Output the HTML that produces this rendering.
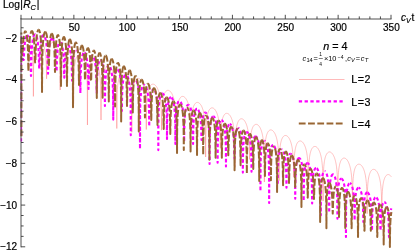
<!DOCTYPE html>
<html><head><meta charset="utf-8"><title>plot</title>
<style>html,body{margin:0;padding:0;background:#fff}body{width:415px;height:251px;overflow:hidden;position:relative;font-family:"Liberation Sans",sans-serif}</style>
</head><body>
<svg width="415" height="251" viewBox="0 0 415 251" style="position:absolute;left:0;top:0;will-change:transform">
<rect width="415" height="251" fill="#fff"/>
<g fill="none" stroke-linejoin="round">
<path d="M21.31 54.83 L21.47 53.21 L21.63 51.85 L21.79 50.69 L21.95 49.67 L22.11 48.77 L22.27 47.97 L22.43 47.25 L22.60 46.59 L22.76 45.99 L22.92 45.45 L23.08 44.95 L23.24 44.49 L23.40 44.07 L23.56 43.68 L23.73 43.32 L23.89 42.98 L24.05 42.68 L24.21 42.40 L24.37 42.14 L24.53 41.90 L24.69 41.68 L24.85 41.48 L25.02 41.30 L25.18 41.14 L25.34 41.00 L25.50 40.87 L25.66 40.76 L25.82 40.66 L25.98 40.58 L26.14 40.51 L26.30 40.45 L26.47 40.42 L26.63 40.39 L26.79 40.38 L26.95 40.38 L27.11 40.40 L27.27 40.43 L27.43 40.48 L27.59 40.54 L27.76 40.61 L27.92 40.70 L28.08 40.80 L28.24 40.92 L28.40 41.06 L28.56 41.21 L28.72 41.37 L28.88 41.55 L29.05 41.75 L29.21 41.97 L29.37 42.21 L29.53 42.47 L29.69 42.75 L29.85 43.05 L30.01 43.38 L30.17 43.73 L30.34 44.11 L30.50 44.52 L30.66 44.97 L30.82 45.45 L30.98 45.97 L31.14 46.54 L31.30 47.15 L31.46 47.83 L31.63 48.57 L31.79 49.40 L31.95 50.32 L32.11 51.36 L32.27 52.54 L32.43 53.92 L32.59 55.55 L32.75 57.56 L32.92 60.16 L33.08 63.84 L33.24 70.12 L33.40 96.40 L33.56 70.14 L33.73 63.88 L33.89 60.23 L34.06 57.65 L34.23 55.66 L34.39 54.04 L34.55 52.69 L34.72 51.52 L34.88 50.51 L35.05 49.61 L35.21 48.81 L35.38 48.08 L35.55 47.43 L35.71 46.83 L35.88 46.28 L36.04 45.78 L36.20 45.32 L36.37 44.90 L36.53 44.51 L36.70 44.15 L36.87 43.82 L37.03 43.52 L37.20 43.23 L37.36 42.98 L37.52 42.74 L37.69 42.52 L37.85 42.32 L38.02 42.14 L38.19 41.98 L38.35 41.84 L38.52 41.71 L38.68 41.60 L38.84 41.50 L39.01 41.42 L39.17 41.35 L39.34 41.30 L39.51 41.26 L39.67 41.23 L39.84 41.22 L40.00 41.23 L40.16 41.24 L40.33 41.28 L40.49 41.32 L40.66 41.38 L40.83 41.45 L40.99 41.54 L41.16 41.65 L41.32 41.77 L41.48 41.90 L41.65 42.05 L41.81 42.22 L41.98 42.40 L42.14 42.60 L42.31 42.82 L42.48 43.06 L42.64 43.32 L42.80 43.60 L42.97 43.90 L43.14 44.23 L43.30 44.58 L43.47 44.96 L43.63 45.37 L43.80 45.81 L43.96 46.30 L44.12 46.82 L44.29 47.38 L44.45 48.00 L44.62 48.68 L44.78 49.42 L44.95 50.25 L45.12 51.17 L45.28 52.21 L45.45 53.39 L45.61 54.77 L45.78 56.40 L45.94 58.42 L46.11 61.02 L46.27 64.69 L46.44 70.97 L46.60 78.80 L46.77 70.99 L46.94 64.73 L47.11 61.08 L47.28 58.50 L47.45 56.51 L47.62 54.90 L47.79 53.54 L47.96 52.38 L48.13 51.36 L48.30 50.46 L48.47 49.66 L48.64 48.94 L48.81 48.28 L48.98 47.69 L49.15 47.14 L49.32 46.64 L49.49 46.18 L49.66 45.76 L49.83 45.37 L50.00 45.01 L50.17 44.68 L50.34 44.37 L50.51 44.09 L50.68 43.83 L50.85 43.60 L51.02 43.38 L51.19 43.18 L51.36 43.00 L51.53 42.84 L51.70 42.70 L51.87 42.57 L52.04 42.47 L52.21 42.44 L52.38 42.42 L52.55 42.42 L52.72 42.43 L52.89 42.46 L53.06 42.50 L53.23 42.56 L53.40 42.63 L53.57 42.71 L53.74 42.81 L53.91 42.92 L54.08 43.04 L54.25 43.18 L54.42 43.34 L54.59 43.51 L54.76 43.69 L54.93 43.89 L55.10 44.11 L55.27 44.34 L55.44 44.59 L55.61 44.85 L55.78 45.14 L55.95 45.44 L56.12 45.77 L56.29 46.11 L56.46 46.48 L56.63 46.87 L56.80 47.29 L56.97 47.74 L57.14 48.21 L57.31 48.72 L57.48 49.27 L57.65 49.86 L57.82 50.49 L57.99 51.17 L58.16 51.91 L58.33 52.72 L58.50 53.61 L58.67 54.60 L58.84 55.70 L59.01 56.95 L59.18 58.40 L59.35 60.10 L59.52 62.17 L59.69 64.84 L59.86 68.58 L60.03 74.93 L60.20 90.00 L60.37 75.08 L60.54 68.88 L60.70 65.29 L60.87 62.78 L61.04 60.85 L61.21 59.30 L61.37 58.01 L61.54 56.91 L61.71 55.96 L61.88 55.13 L62.04 54.39 L62.21 53.73 L62.38 53.14 L62.55 52.60 L62.71 52.12 L62.88 51.69 L63.05 51.29 L63.22 50.93 L63.38 50.61 L63.55 50.31 L63.72 50.05 L63.88 49.80 L64.05 49.59 L64.22 49.39 L64.39 49.22 L64.56 49.07 L64.72 48.93 L64.89 48.82 L65.06 48.72 L65.22 48.64 L65.39 48.58 L65.56 48.53 L65.73 48.50 L65.89 48.48 L66.06 48.47 L66.23 48.49 L66.40 48.51 L66.56 48.55 L66.73 48.61 L66.90 48.67 L67.07 48.76 L67.23 48.85 L67.40 48.96 L67.57 49.09 L67.74 49.22 L67.91 49.38 L68.07 49.55 L68.24 49.73 L68.41 49.93 L68.58 50.14 L68.74 50.37 L68.91 50.62 L69.08 50.88 L69.25 51.17 L69.41 51.47 L69.58 51.79 L69.75 52.14 L69.91 52.51 L70.08 52.90 L70.25 53.31 L70.42 53.76 L70.58 54.23 L70.75 54.74 L70.92 55.29 L71.09 55.87 L71.25 56.51 L71.42 57.19 L71.59 57.93 L71.76 58.74 L71.92 59.63 L72.09 60.61 L72.26 61.71 L72.43 62.96 L72.59 64.40 L72.76 66.11 L72.93 68.18 L73.10 70.85 L73.27 74.58 L73.43 80.93 L73.60 103.86 L73.77 81.08 L73.95 74.89 L74.12 71.30 L74.29 68.79 L74.47 66.87 L74.64 65.32 L74.81 64.03 L74.98 62.93 L75.16 61.98 L75.33 61.15 L75.50 60.42 L75.68 59.76 L75.85 59.17 L76.02 58.64 L76.20 58.16 L76.37 57.73 L76.54 57.34 L76.72 56.98 L76.89 56.66 L77.06 56.37 L77.24 56.10 L77.41 55.86 L77.58 55.65 L77.75 55.46 L77.93 55.29 L78.10 55.14 L78.27 55.00 L78.45 54.89 L78.62 54.80 L78.79 54.72 L78.97 54.66 L79.14 54.61 L79.31 54.58 L79.49 54.57 L79.66 54.56 L79.83 54.58 L80.01 54.61 L80.18 54.65 L80.35 54.71 L80.53 54.78 L80.70 54.86 L80.87 54.96 L81.04 55.07 L81.22 55.20 L81.39 55.34 L81.56 55.50 L81.74 55.67 L81.91 55.85 L82.08 56.05 L82.26 56.27 L82.43 56.50 L82.60 56.75 L82.78 57.02 L82.95 57.31 L83.12 57.61 L83.30 57.94 L83.47 58.28 L83.64 58.65 L83.81 59.05 L83.99 59.47 L84.16 59.92 L84.33 60.39 L84.51 60.90 L84.68 61.45 L84.85 62.04 L85.03 62.67 L85.20 63.36 L85.37 64.10 L85.55 64.91 L85.72 65.81 L85.89 66.79 L86.06 67.90 L86.24 69.15 L86.41 70.59 L86.58 72.30 L86.76 74.37 L86.93 77.04 L87.10 80.78 L87.28 87.13 L87.45 125.00 L87.62 87.28 L87.79 81.09 L87.96 77.50 L88.13 74.99 L88.30 73.06 L88.47 71.51 L88.64 70.22 L88.81 69.12 L88.97 68.17 L89.14 67.34 L89.31 66.60 L89.48 65.94 L89.65 65.35 L89.82 64.82 L89.99 64.34 L90.16 63.91 L90.33 63.51 L90.50 63.15 L90.67 62.83 L90.84 62.54 L91.01 62.27 L91.18 62.03 L91.35 61.81 L91.52 61.62 L91.68 61.45 L91.85 61.30 L92.02 61.16 L92.19 61.05 L92.36 60.95 L92.53 60.87 L92.70 60.81 L92.87 60.76 L93.04 60.73 L93.21 60.71 L93.38 60.71 L93.55 60.72 L93.72 60.75 L93.89 60.79 L94.06 60.84 L94.22 60.91 L94.39 61.00 L94.56 61.09 L94.73 61.20 L94.90 61.33 L95.07 61.47 L95.24 61.62 L95.41 61.79 L95.58 61.97 L95.75 62.17 L95.92 62.39 L96.09 62.62 L96.26 62.87 L96.43 63.14 L96.60 63.42 L96.77 63.72 L96.94 64.05 L97.10 64.39 L97.27 64.76 L97.44 65.15 L97.61 65.57 L97.78 66.02 L97.95 66.49 L98.12 67.00 L98.29 67.55 L98.46 68.13 L98.63 68.77 L98.80 69.45 L98.97 70.19 L99.14 71.00 L99.31 71.89 L99.48 72.88 L99.64 73.98 L99.81 75.23 L99.98 76.67 L100.15 78.36 L100.32 80.43 L100.49 83.09 L100.66 86.81 L100.83 93.15 L101.00 120.00 L101.20 93.29 L101.39 87.10 L101.59 83.51 L101.79 81.00 L101.99 79.07 L102.19 77.52 L102.38 76.23 L102.58 75.14 L102.78 74.19 L102.97 73.35 L103.17 72.61 L103.37 71.96 L103.57 71.37 L103.77 70.84 L103.96 70.36 L104.16 69.92 L104.36 69.53 L104.56 69.17 L104.75 68.85 L104.95 68.55 L105.15 68.29 L105.34 68.05 L105.54 67.83 L105.74 67.64 L105.94 67.47 L106.14 67.32 L106.33 67.18 L106.53 67.07 L106.73 66.97 L106.92 66.89 L107.12 66.83 L107.32 66.78 L107.52 66.75 L107.72 66.74 L107.91 66.73 L108.11 66.75 L108.31 66.77 L108.50 66.82 L108.70 66.87 L108.90 66.94 L109.10 67.02 L109.30 67.12 L109.49 67.23 L109.69 67.36 L109.89 67.50 L110.08 67.65 L110.28 67.82 L110.48 68.01 L110.68 68.21 L110.88 68.42 L111.07 68.65 L111.27 68.90 L111.47 69.17 L111.66 69.45 L111.86 69.76 L112.06 70.08 L112.26 70.43 L112.45 70.80 L112.65 71.19 L112.85 71.61 L113.05 72.05 L113.25 72.53 L113.44 73.04 L113.64 73.59 L113.84 74.17 L114.03 74.81 L114.23 75.49 L114.43 76.23 L114.63 77.04 L114.83 77.93 L115.02 78.92 L115.22 80.02 L115.42 81.27 L115.61 82.72 L115.81 84.42 L116.01 86.50 L116.21 89.16 L116.41 92.90 L116.60 99.25 L116.80 128.50 L116.99 99.40 L117.17 93.20 L117.36 89.61 L117.55 87.09 L117.74 85.16 L117.92 83.61 L118.11 82.32 L118.30 81.21 L118.49 80.26 L118.67 79.42 L118.86 78.68 L119.05 78.02 L119.24 77.43 L119.42 76.89 L119.61 76.41 L119.80 75.97 L119.99 75.57 L120.17 75.21 L120.36 74.88 L120.55 74.58 L120.74 74.32 L120.92 74.07 L121.11 73.85 L121.30 73.65 L121.49 73.48 L121.67 73.32 L121.86 73.19 L122.05 73.07 L122.24 72.97 L122.42 72.89 L122.61 72.82 L122.80 72.77 L122.99 72.73 L123.17 72.71 L123.36 72.71 L123.55 72.72 L123.74 72.74 L123.93 72.78 L124.11 72.83 L124.30 72.89 L124.49 72.97 L124.68 73.07 L124.86 73.18 L125.05 73.30 L125.24 73.43 L125.43 73.58 L125.61 73.75 L125.80 73.93 L125.99 74.13 L126.18 74.34 L126.36 74.57 L126.55 74.81 L126.74 75.07 L126.93 75.35 L127.11 75.65 L127.30 75.97 L127.49 76.32 L127.68 76.68 L127.86 77.07 L128.05 77.48 L128.24 77.93 L128.43 78.40 L128.61 78.91 L128.80 79.45 L128.99 80.03 L129.18 80.66 L129.36 81.34 L129.55 82.08 L129.74 82.89 L129.93 83.77 L130.11 84.75 L130.30 85.85 L130.49 87.10 L130.68 88.54 L130.86 90.24 L131.05 92.31 L131.24 94.97 L131.43 98.71 L131.61 105.05 L131.80 132.26 L131.98 105.19 L132.16 98.99 L132.34 95.40 L132.53 92.88 L132.71 90.95 L132.89 89.39 L133.07 88.10 L133.25 86.99 L133.43 86.04 L133.61 85.20 L133.79 84.45 L133.98 83.79 L134.16 83.19 L134.34 82.66 L134.52 82.17 L134.70 81.73 L134.88 81.33 L135.06 80.97 L135.24 80.64 L135.43 80.34 L135.61 80.06 L135.79 79.82 L135.97 79.60 L136.15 79.40 L136.33 79.22 L136.51 79.06 L136.69 78.92 L136.88 78.80 L137.06 78.70 L137.24 78.61 L137.42 78.54 L137.60 78.49 L137.78 78.45 L137.96 78.43 L138.14 78.42 L138.33 78.43 L138.51 78.45 L138.69 78.49 L138.87 78.53 L139.05 78.60 L139.23 78.67 L139.41 78.77 L139.59 78.87 L139.78 78.99 L139.96 79.12 L140.14 79.27 L140.32 79.43 L140.50 79.61 L140.68 79.81 L140.86 80.02 L141.04 80.24 L141.23 80.48 L141.41 80.74 L141.59 81.02 L141.77 81.32 L141.95 81.64 L142.13 81.98 L142.31 82.34 L142.49 82.73 L142.68 83.14 L142.86 83.58 L143.04 84.05 L143.22 84.55 L143.40 85.09 L143.58 85.67 L143.76 86.30 L143.94 86.98 L144.12 87.71 L144.31 88.52 L144.49 89.40 L144.67 90.38 L144.85 91.48 L145.03 92.72 L145.21 94.16 L145.39 95.86 L145.58 97.93 L145.76 100.59 L145.94 104.32 L146.12 110.66 L146.30 129.51 L146.49 110.80 L146.68 104.61 L146.87 101.02 L147.06 98.50 L147.26 96.58 L147.45 95.02 L147.64 93.73 L147.83 92.63 L148.02 91.68 L148.21 90.84 L148.40 90.10 L148.59 89.44 L148.79 88.85 L148.98 88.32 L149.17 87.83 L149.36 87.40 L149.55 87.00 L149.74 86.64 L149.93 86.32 L150.12 86.02 L150.32 85.75 L150.51 85.51 L150.70 85.29 L150.89 85.09 L151.08 84.92 L151.27 84.77 L151.46 84.63 L151.66 84.52 L151.85 84.42 L152.04 84.34 L152.23 84.27 L152.42 84.22 L152.61 84.19 L152.80 84.17 L152.99 84.16 L153.19 84.17 L153.38 84.20 L153.57 84.24 L153.76 84.29 L153.95 84.36 L154.14 84.45 L154.33 84.55 L154.52 84.66 L154.72 84.79 L154.91 84.93 L155.10 85.09 L155.29 85.26 L155.48 85.45 L155.67 85.65 L155.86 85.87 L156.05 86.10 L156.25 86.35 L156.44 86.62 L156.63 86.91 L156.82 87.22 L157.01 87.54 L157.20 87.89 L157.39 88.26 L157.58 88.66 L157.78 89.08 L157.97 89.53 L158.16 90.01 L158.35 90.52 L158.54 91.07 L158.73 91.66 L158.92 92.29 L159.11 92.98 L159.31 93.72 L159.50 94.54 L159.69 95.43 L159.88 96.42 L160.07 97.52 L160.26 98.78 L160.45 100.22 L160.64 101.93 L160.84 104.01 L161.03 106.67 L161.22 110.42 L161.41 116.77 L161.60 130.16 L161.78 116.92 L161.97 110.72 L162.15 107.14 L162.33 104.62 L162.52 102.70 L162.70 101.15 L162.88 99.86 L163.07 98.76 L163.25 97.81 L163.44 96.97 L163.62 96.23 L163.80 95.58 L163.99 94.99 L164.17 94.45 L164.35 93.97 L164.54 93.54 L164.72 93.14 L164.90 92.79 L165.09 92.46 L165.27 92.17 L165.45 91.90 L165.64 91.66 L165.82 91.44 L166.00 91.25 L166.19 91.08 L166.37 90.93 L166.55 90.79 L166.74 90.68 L166.92 90.58 L167.10 90.50 L167.29 90.44 L167.47 90.39 L167.66 90.36 L167.84 90.34 L168.02 90.34 L168.21 90.35 L168.39 90.38 L168.57 90.42 L168.76 90.47 L168.94 90.54 L169.12 90.62 L169.31 90.72 L169.49 90.83 L169.67 90.96 L169.86 91.09 L170.04 91.25 L170.22 91.42 L170.41 91.60 L170.59 91.80 L170.78 92.01 L170.96 92.25 L171.14 92.49 L171.33 92.76 L171.51 93.04 L171.69 93.35 L171.88 93.67 L172.06 94.02 L172.24 94.38 L172.43 94.78 L172.61 95.19 L172.79 95.64 L172.98 96.11 L173.16 96.62 L173.34 97.17 L173.53 97.76 L173.71 98.39 L173.89 99.07 L174.08 99.81 L174.26 100.62 L174.44 101.51 L174.63 102.50 L174.81 103.60 L175.00 104.85 L175.18 106.29 L175.36 107.99 L175.55 110.07 L175.73 112.73 L175.91 116.47 L176.10 122.82 L176.28 126.68 L176.46 122.97 L176.65 116.77 L176.83 113.19 L177.01 110.67 L177.20 108.75 L177.38 107.20 L177.56 105.91 L177.75 104.81 L177.93 103.86 L178.12 103.02 L178.30 102.29 L178.48 101.63 L178.67 101.04 L178.85 100.51 L179.03 100.03 L179.22 99.59 L179.40 99.20 L179.58 98.84 L179.77 98.51 L179.95 98.22 L180.13 97.95 L180.32 97.71 L180.50 97.49 L180.68 97.30 L180.87 97.13 L181.05 96.98 L181.23 96.84 L181.42 96.73 L181.60 96.63 L181.78 96.55 L181.97 96.49 L182.15 96.44 L182.34 96.41 L182.52 96.39 L182.70 96.39 L182.89 96.40 L183.07 96.43 L183.25 96.47 L183.44 96.52 L183.62 96.59 L183.80 96.67 L183.99 96.77 L184.17 96.88 L184.35 97.01 L184.54 97.15 L184.72 97.30 L184.90 97.47 L185.09 97.65 L185.27 97.85 L185.45 98.06 L185.64 98.30 L185.82 98.54 L186.01 98.81 L186.19 99.09 L186.37 99.40 L186.56 99.72 L186.74 100.07 L186.92 100.43 L187.11 100.83 L187.29 101.24 L187.47 101.69 L187.66 102.17 L187.84 102.67 L188.02 103.22 L188.21 103.81 L188.39 104.44 L188.57 105.12 L188.76 105.86 L188.94 106.67 L189.12 107.56 L189.31 108.55 L189.49 109.65 L189.68 110.90 L189.86 112.34 L190.04 114.04 L190.23 116.12 L190.41 118.79 L190.59 122.52 L190.78 128.87 L190.96 130.78 L191.14 129.02 L191.33 122.83 L191.51 119.24 L191.69 116.73 L191.88 114.80 L192.06 113.25 L192.24 111.96 L192.43 110.86 L192.61 109.91 L192.79 109.07 L192.98 108.34 L193.16 107.68 L193.35 107.09 L193.53 106.56 L193.71 106.08 L193.90 105.64 L194.08 105.25 L194.26 104.89 L194.45 104.56 L194.63 104.27 L194.81 104.00 L195.00 103.76 L195.18 103.55 L195.36 103.35 L195.55 103.18 L195.73 103.03 L195.91 102.89 L196.10 102.78 L196.28 102.68 L196.46 102.60 L196.65 102.53 L196.83 102.48 L197.02 102.44 L197.20 102.41 L197.38 102.40 L197.57 102.41 L197.75 102.43 L197.93 102.46 L198.12 102.51 L198.30 102.57 L198.48 102.64 L198.67 102.73 L198.85 102.84 L199.03 102.95 L199.22 103.09 L199.40 103.23 L199.58 103.39 L199.77 103.57 L199.95 103.76 L200.13 103.97 L200.32 104.19 L200.50 104.43 L200.69 104.69 L200.87 104.97 L201.05 105.26 L201.24 105.58 L201.42 105.92 L201.60 106.28 L201.79 106.66 L201.97 107.07 L202.15 107.51 L202.34 107.98 L202.52 108.48 L202.70 109.02 L202.89 109.60 L203.07 110.22 L203.25 110.90 L203.44 111.63 L203.62 112.43 L203.80 113.32 L203.99 114.30 L204.17 115.39 L204.36 116.63 L204.54 118.07 L204.72 119.76 L204.91 121.83 L205.09 124.49 L205.27 128.22 L205.46 134.56 L205.64 157.00 L205.82 134.70 L206.01 128.49 L206.19 124.90 L206.37 122.38 L206.56 120.44 L206.74 118.89 L206.92 117.59 L207.11 116.48 L207.29 115.52 L207.47 114.68 L207.66 113.94 L207.84 113.27 L208.03 112.67 L208.21 112.13 L208.39 111.64 L208.58 111.20 L208.76 110.80 L208.94 110.44 L209.13 110.10 L209.31 109.80 L209.49 109.53 L209.68 109.28 L209.86 109.06 L210.04 108.85 L210.23 108.67 L210.41 108.51 L210.59 108.37 L210.78 108.25 L210.96 108.15 L211.14 108.06 L211.33 107.99 L211.51 107.93 L211.70 107.89 L211.88 107.87 L212.06 107.86 L212.25 107.86 L212.43 107.88 L212.61 107.92 L212.80 107.96 L212.98 108.03 L213.16 108.10 L213.35 108.19 L213.53 108.29 L213.71 108.41 L213.90 108.54 L214.08 108.69 L214.26 108.85 L214.45 109.03 L214.63 109.22 L214.81 109.42 L215.00 109.65 L215.18 109.89 L215.37 110.15 L215.55 110.42 L215.73 110.72 L215.92 111.04 L216.10 111.37 L216.28 111.73 L216.47 112.12 L216.65 112.53 L216.83 112.97 L217.02 113.44 L217.20 113.94 L217.38 114.48 L217.57 115.06 L217.75 115.68 L217.93 116.35 L218.12 117.09 L218.30 117.89 L218.48 118.77 L218.67 119.75 L218.85 120.85 L219.04 122.09 L219.22 123.52 L219.40 125.22 L219.59 127.29 L219.77 129.94 L219.95 133.67 L220.14 140.02 L220.32 147.91 L220.50 140.15 L220.69 133.95 L220.87 130.35 L221.05 127.83 L221.24 125.90 L221.42 124.34 L221.60 123.04 L221.79 121.94 L221.97 120.98 L222.16 120.14 L222.34 119.39 L222.52 118.73 L222.71 118.13 L222.89 117.59 L223.07 117.10 L223.26 116.66 L223.44 116.26 L223.62 115.89 L223.81 115.56 L223.99 115.26 L224.17 114.98 L224.36 114.74 L224.54 114.51 L224.72 114.31 L224.91 114.13 L225.09 113.97 L225.27 113.83 L225.46 113.71 L225.64 113.60 L225.82 113.52 L226.01 113.45 L226.19 113.39 L226.38 113.35 L226.56 113.33 L226.74 113.32 L226.93 113.32 L227.11 113.34 L227.29 113.37 L227.48 113.42 L227.66 113.48 L227.84 113.56 L228.03 113.65 L228.21 113.75 L228.39 113.87 L228.58 114.00 L228.76 114.14 L228.94 114.31 L229.13 114.48 L229.31 114.67 L229.50 114.88 L229.68 115.10 L229.86 115.35 L230.05 115.60 L230.23 115.88 L230.41 116.18 L230.60 116.49 L230.78 116.83 L230.96 117.19 L231.15 117.58 L231.33 117.99 L231.51 118.42 L231.70 118.89 L231.88 119.39 L232.06 119.93 L232.25 120.51 L232.43 121.14 L232.61 121.81 L232.80 122.55 L232.98 123.35 L233.16 124.23 L233.35 125.21 L233.53 126.30 L233.72 127.55 L233.90 128.98 L234.08 130.67 L234.27 132.74 L234.45 135.40 L234.63 139.13 L234.82 145.47 L235.00 167.35 L235.18 145.61 L235.37 139.40 L235.55 135.81 L235.73 133.29 L235.92 131.36 L236.10 129.80 L236.28 128.50 L236.47 127.39 L236.65 126.44 L236.84 125.59 L237.02 124.85 L237.20 124.18 L237.39 123.58 L237.57 123.05 L237.75 122.56 L237.94 122.12 L238.12 121.71 L238.30 121.35 L238.49 121.02 L238.67 120.71 L238.85 120.44 L239.04 120.19 L239.22 119.97 L239.40 119.77 L239.59 119.59 L239.77 119.43 L239.95 119.29 L240.14 119.16 L240.32 119.06 L240.50 118.97 L240.69 118.90 L240.87 118.85 L241.06 118.81 L241.24 118.78 L241.42 118.77 L241.61 118.78 L241.79 118.80 L241.97 118.83 L242.16 118.88 L242.34 118.94 L242.52 119.02 L242.71 119.11 L242.89 119.21 L243.07 119.33 L243.26 119.47 L243.44 119.61 L243.62 119.78 L243.81 119.95 L243.99 120.15 L244.18 120.36 L244.36 120.58 L244.54 120.82 L244.73 121.08 L244.91 121.36 L245.09 121.66 L245.28 121.98 L245.46 122.32 L245.64 122.68 L245.83 123.06 L246.01 123.47 L246.19 123.91 L246.38 124.38 L246.56 124.89 L246.74 125.43 L246.93 126.01 L247.11 126.63 L247.29 127.31 L247.48 128.05 L247.66 128.85 L247.84 129.73 L248.03 130.71 L248.21 131.81 L248.40 133.05 L248.58 134.49 L248.76 136.18 L248.95 138.25 L249.13 140.91 L249.31 144.64 L249.50 150.99 L249.68 159.44 L249.86 151.13 L250.05 144.92 L250.23 141.33 L250.41 138.81 L250.60 136.88 L250.78 135.32 L250.96 134.03 L251.15 132.92 L251.33 131.96 L251.52 131.12 L251.70 130.38 L251.88 129.72 L252.07 129.12 L252.25 128.58 L252.43 128.09 L252.62 127.65 L252.80 127.25 L252.98 126.89 L253.17 126.56 L253.35 126.26 L253.53 125.99 L253.72 125.74 L253.90 125.52 L254.08 125.32 L254.27 125.14 L254.45 124.98 L254.63 124.84 L254.82 124.72 L255.00 124.62 L255.19 124.53 L255.37 124.46 L255.55 124.41 L255.74 124.37 L255.92 124.35 L256.10 124.34 L256.29 124.34 L256.47 124.36 L256.65 124.40 L256.84 124.45 L257.02 124.51 L257.20 124.59 L257.39 124.68 L257.57 124.78 L257.75 124.90 L257.94 125.03 L258.12 125.18 L258.30 125.34 L258.49 125.52 L258.67 125.71 L258.86 125.92 L259.04 126.15 L259.22 126.39 L259.41 126.65 L259.59 126.93 L259.77 127.23 L259.96 127.54 L260.14 127.88 L260.32 128.24 L260.51 128.63 L260.69 129.04 L260.87 129.48 L261.06 129.95 L261.24 130.45 L261.42 130.99 L261.61 131.57 L261.79 132.20 L261.97 132.88 L262.16 133.61 L262.34 134.42 L262.53 135.30 L262.71 136.28 L262.89 137.38 L263.08 138.62 L263.26 140.06 L263.44 141.75 L263.63 143.82 L263.81 146.48 L263.99 150.21 L264.18 156.55 L264.36 182.00 L264.54 156.69 L264.73 150.49 L264.91 146.90 L265.09 144.38 L265.28 142.45 L265.46 140.89 L265.64 139.59 L265.83 138.49 L266.01 137.53 L266.19 136.69 L266.38 135.95 L266.56 135.28 L266.75 134.69 L266.93 134.15 L267.11 133.66 L267.30 133.22 L267.48 132.82 L267.66 132.46 L267.85 132.13 L268.03 131.82 L268.21 131.55 L268.40 131.31 L268.58 131.08 L268.76 130.88 L268.95 130.71 L269.13 130.55 L269.31 130.41 L269.50 130.29 L269.68 130.18 L269.87 130.10 L270.05 130.03 L270.23 129.97 L270.42 129.94 L270.60 129.91 L270.78 129.90 L270.97 129.91 L271.15 129.93 L271.33 129.97 L271.52 130.01 L271.70 130.08 L271.88 130.15 L272.07 130.24 L272.25 130.35 L272.43 130.47 L272.62 130.60 L272.80 130.75 L272.98 130.91 L273.17 131.09 L273.35 131.28 L273.53 131.49 L273.72 131.72 L273.90 131.96 L274.09 132.22 L274.27 132.50 L274.45 132.79 L274.64 133.11 L274.82 133.45 L275.00 133.81 L275.19 134.20 L275.37 134.61 L275.55 135.05 L275.74 135.52 L275.92 136.02 L276.10 136.56 L276.29 137.14 L276.47 137.77 L276.65 138.44 L276.84 139.18 L277.02 139.98 L277.20 140.87 L277.39 141.85 L277.57 142.94 L277.76 144.19 L277.94 145.62 L278.12 147.32 L278.31 149.39 L278.49 152.05 L278.67 155.78 L278.86 162.12 L279.04 180.75 L279.22 162.26 L279.41 156.06 L279.59 152.47 L279.77 149.95 L279.96 148.01 L280.14 146.46 L280.32 145.16 L280.51 144.06 L280.69 143.10 L280.88 142.26 L281.06 141.51 L281.24 140.85 L281.43 140.25 L281.61 139.72 L281.79 139.23 L281.98 138.79 L282.16 138.39 L282.34 138.02 L282.53 137.69 L282.71 137.39 L282.89 137.12 L283.08 136.87 L283.26 136.65 L283.44 136.45 L283.63 136.27 L283.81 136.11 L283.99 135.98 L284.18 135.85 L284.36 135.75 L284.54 135.67 L284.73 135.60 L284.91 135.54 L285.10 135.50 L285.28 135.48 L285.46 135.47 L285.65 135.48 L285.83 135.50 L286.01 135.53 L286.20 135.58 L286.38 135.64 L286.56 135.72 L286.75 135.81 L286.93 135.91 L287.11 136.03 L287.30 136.16 L287.48 136.31 L287.66 136.47 L287.85 136.65 L288.03 136.84 L288.22 137.05 L288.40 137.27 L288.58 137.51 L288.77 137.77 L288.95 138.05 L289.13 138.34 L289.32 138.66 L289.50 139.00 L289.68 139.36 L289.87 139.74 L290.05 140.15 L290.23 140.59 L290.42 141.06 L290.60 141.56 L290.78 142.10 L290.97 142.68 L291.15 143.31 L291.33 143.98 L291.52 144.72 L291.70 145.52 L291.88 146.40 L292.07 147.38 L292.25 148.48 L292.44 149.72 L292.62 151.15 L292.80 152.85 L292.99 154.92 L293.17 157.58 L293.35 161.31 L293.54 167.65 L293.72 177.19 L293.90 167.79 L294.09 161.58 L294.27 157.99 L294.45 155.47 L294.64 153.54 L294.82 151.98 L295.00 150.68 L295.19 149.57 L295.37 148.62 L295.56 147.77 L295.74 147.03 L295.92 146.36 L296.11 145.77 L296.29 145.23 L296.47 144.74 L296.66 144.30 L296.84 143.90 L297.02 143.53 L297.21 143.20 L297.39 142.90 L297.57 142.62 L297.76 142.38 L297.94 142.15 L298.12 141.95 L298.31 141.77 L298.49 141.61 L298.67 141.47 L298.86 141.35 L299.04 141.25 L299.23 141.16 L299.41 141.09 L299.59 141.04 L299.78 141.00 L299.96 140.97 L300.14 140.96 L300.33 140.97 L300.51 140.99 L300.69 141.02 L300.88 141.07 L301.06 141.13 L301.24 141.21 L301.43 141.30 L301.61 141.40 L301.79 141.52 L301.98 141.65 L302.16 141.80 L302.34 141.96 L302.53 142.13 L302.71 142.33 L302.89 142.53 L303.08 142.76 L303.26 143.00 L303.45 143.26 L303.63 143.54 L303.81 143.83 L304.00 144.15 L304.18 144.49 L304.36 144.85 L304.55 145.23 L304.73 145.64 L304.91 146.08 L305.10 146.55 L305.28 147.05 L305.46 147.59 L305.65 148.17 L305.83 148.80 L306.01 149.47 L306.20 150.21 L306.38 151.01 L306.56 151.89 L306.75 152.87 L306.93 153.96 L307.12 155.21 L307.30 156.64 L307.48 158.34 L307.67 160.41 L307.85 163.07 L308.03 166.80 L308.22 173.14 L308.40 179.14 L308.58 173.27 L308.77 167.07 L308.95 163.48 L309.13 160.96 L309.32 159.02 L309.50 157.47 L309.68 156.17 L309.87 155.06 L310.05 154.10 L310.23 153.26 L310.42 152.52 L310.60 151.85 L310.79 151.25 L310.97 150.72 L311.15 150.23 L311.34 149.79 L311.52 149.39 L311.70 149.02 L311.89 148.69 L312.07 148.39 L312.25 148.11 L312.44 147.87 L312.62 147.64 L312.80 147.44 L312.99 147.26 L313.17 147.10 L313.35 146.96 L313.54 146.84 L313.72 146.74 L313.90 146.65 L314.09 146.58 L314.27 146.52 L314.46 146.49 L314.64 146.46 L314.82 146.45 L315.01 146.46 L315.19 146.48 L315.37 146.51 L315.56 146.56 L315.74 146.62 L315.92 146.69 L316.11 146.78 L316.29 146.89 L316.47 147.01 L316.66 147.14 L316.84 147.28 L317.02 147.45 L317.21 147.62 L317.39 147.81 L317.57 148.02 L317.76 148.25 L317.94 148.49 L318.13 148.75 L318.31 149.02 L318.49 149.32 L318.68 149.64 L318.86 149.97 L319.04 150.34 L319.23 150.72 L319.41 151.13 L319.59 151.57 L319.78 152.04 L319.96 152.54 L320.14 153.08 L320.33 153.66 L320.51 154.28 L320.69 154.96 L320.88 155.69 L321.06 156.50 L321.25 157.38 L321.43 158.36 L321.61 159.45 L321.80 160.70 L321.98 162.13 L322.16 163.83 L322.35 165.90 L322.53 168.55 L322.71 172.28 L322.90 178.62 L323.08 200.97 L323.26 178.76 L323.45 172.56 L323.63 168.97 L323.81 166.44 L324.00 164.51 L324.18 162.95 L324.36 161.66 L324.55 160.55 L324.73 159.59 L324.91 158.75 L325.10 158.01 L325.28 157.34 L325.47 156.74 L325.65 156.20 L325.83 155.72 L326.02 155.28 L326.20 154.87 L326.38 154.51 L326.57 154.18 L326.75 153.88 L326.93 153.60 L327.12 153.35 L327.30 153.13 L327.48 152.93 L327.67 152.75 L327.85 152.59 L328.03 152.45 L328.22 152.33 L328.40 152.23 L328.58 152.14 L328.77 152.07 L328.95 152.01 L329.14 151.97 L329.32 151.95 L329.50 151.94 L329.69 151.95 L329.87 151.96 L330.05 152.00 L330.24 152.05 L330.42 152.11 L330.60 152.19 L330.79 152.29 L330.97 152.40 L331.15 152.53 L331.34 152.67 L331.52 152.82 L331.70 152.99 L331.89 153.18 L332.07 153.38 L332.25 153.60 L332.44 153.83 L332.62 154.08 L332.81 154.35 L332.99 154.63 L333.17 154.94 L333.36 155.26 L333.54 155.61 L333.72 155.98 L333.91 156.37 L334.09 156.79 L334.27 157.24 L334.46 157.72 L334.64 158.23 L334.82 158.77 L335.01 159.36 L335.19 159.99 L335.37 160.68 L335.56 161.42 L335.74 162.23 L335.93 163.12 L336.11 164.11 L336.29 165.22 L336.48 166.47 L336.66 167.91 L336.84 169.61 L337.03 171.69 L337.21 174.36 L337.39 178.10 L337.58 184.45 L337.76 187.26 L337.94 184.60 L338.13 178.41 L338.31 174.82 L338.49 172.31 L338.68 170.38 L338.86 168.84 L339.04 167.55 L339.23 166.45 L339.41 165.50 L339.59 164.67 L339.78 163.93 L339.96 163.27 L340.15 162.68 L340.33 162.15 L340.51 161.67 L340.70 161.24 L340.88 160.85 L341.06 160.49 L341.25 160.17 L341.43 159.88 L341.61 159.61 L341.80 159.37 L341.98 159.16 L342.16 158.96 L342.35 158.79 L342.53 158.64 L342.71 158.51 L342.90 158.40 L343.08 158.30 L343.26 158.22 L343.45 158.16 L343.63 158.12 L343.82 158.09 L344.00 158.07 L344.18 158.07 L344.37 158.08 L344.55 158.11 L344.73 158.15 L344.92 158.21 L345.10 158.28 L345.28 158.36 L345.47 158.46 L345.65 158.57 L345.83 158.70 L346.02 158.84 L346.20 158.99 L346.38 159.16 L346.57 159.35 L346.75 159.55 L346.94 159.77 L347.12 160.00 L347.30 160.25 L347.49 160.52 L347.67 160.80 L347.85 161.11 L348.04 161.43 L348.22 161.78 L348.40 162.15 L348.59 162.54 L348.77 162.96 L348.95 163.41 L349.14 163.89 L349.32 164.40 L349.50 164.94 L349.69 165.53 L349.87 166.16 L350.05 166.85 L350.24 167.59 L350.42 168.40 L350.61 169.29 L350.79 170.28 L350.97 171.39 L351.16 172.64 L351.34 174.08 L351.52 175.78 L351.71 177.86 L351.89 180.53 L352.07 184.27 L352.26 190.62 L352.44 198.22 L352.62 190.77 L352.81 184.58 L352.99 180.99 L353.17 178.48 L353.36 176.55 L353.54 175.01 L353.72 173.72 L353.91 172.62 L354.09 171.67 L354.27 170.84 L354.46 170.10 L354.64 169.44 L354.83 168.85 L355.01 168.32 L355.19 167.84 L355.38 167.41 L355.56 167.02 L355.74 166.66 L355.93 166.34 L356.11 166.05 L356.29 165.78 L356.48 165.54 L356.66 165.33 L356.84 165.13 L357.03 164.96 L357.21 164.81 L357.39 164.68 L357.58 164.57 L357.76 164.47 L357.94 164.39 L358.13 164.32 L358.31 164.26 L358.50 164.22 L358.68 164.19 L358.86 164.18 L359.05 164.18 L359.23 164.20 L359.41 164.22 L359.60 164.27 L359.78 164.33 L359.96 164.40 L360.15 164.48 L360.33 164.58 L360.51 164.70 L360.70 164.82 L360.88 164.97 L361.06 165.12 L361.25 165.30 L361.43 165.48 L361.62 165.69 L361.80 165.91 L361.98 166.15 L362.17 166.40 L362.35 166.67 L362.53 166.97 L362.72 167.28 L362.90 167.61 L363.08 167.97 L363.27 168.35 L363.45 168.76 L363.63 169.19 L363.82 169.66 L364.00 170.15 L364.18 170.69 L364.37 171.26 L364.55 171.88 L364.73 172.56 L364.92 173.29 L365.10 174.09 L365.29 174.96 L365.47 175.94 L365.65 177.03 L365.84 178.27 L366.02 179.70 L366.20 181.39 L366.39 183.46 L366.57 186.11 L366.75 189.84 L366.94 196.17 L367.12 213.69 L367.30 196.30 L367.49 190.09 L367.67 186.50 L367.85 183.97 L368.04 182.04 L368.22 180.47 L368.40 179.17 L368.59 178.06 L368.77 177.10 L368.95 176.26 L369.14 175.51 L369.32 174.84 L369.51 174.23 L369.69 173.69 L369.87 173.20 L370.06 172.75 L370.24 172.35 L370.42 171.98 L370.61 171.64 L370.79 171.34 L370.97 171.06 L371.16 170.81 L371.34 170.58 L371.52 170.38 L371.71 170.19 L371.89 170.03 L372.07 169.89 L372.26 169.76 L372.44 169.65 L372.62 169.56 L372.81 169.49 L372.99 169.43 L373.18 169.38 L373.36 169.36 L373.54 169.34 L373.73 169.34 L373.91 169.36 L374.09 169.39 L374.28 169.43 L374.46 169.49 L374.64 169.56 L374.83 169.65 L375.01 169.75 L375.19 169.86 L375.38 169.99 L375.56 170.13 L375.74 170.29 L375.93 170.46 L376.11 170.65 L376.29 170.85 L376.48 171.07 L376.66 171.31 L376.85 171.56 L377.03 171.84 L377.21 172.13 L377.40 172.44 L377.58 172.78 L377.76 173.13 L377.95 173.51 L378.13 173.92 L378.31 174.35 L378.50 174.82 L378.68 175.32 L378.86 175.85 L379.05 176.43 L379.23 177.05 L379.41 177.72 L379.60 178.45 L379.78 179.25 L379.96 180.13 L380.15 181.10 L380.33 182.19 L380.52 183.43 L380.70 184.86 L380.88 186.55 L381.07 188.62 L381.25 191.27 L381.43 195.00 L381.62 201.34 L381.80 227.64 L381.98 201.47 L382.17 195.26 L382.35 191.66 L382.53 189.14 L382.72 187.20 L382.90 185.64 L383.08 184.34 L383.27 183.23 L383.45 182.26 L383.63 181.42 L383.82 180.67 L384.00 180.00 L384.19 179.40 L384.37 178.86 L384.55 178.36 L384.74 177.92 L384.92 177.51 L385.10 177.14 L385.29 176.81 L385.47 176.50 L385.65 176.22 L385.84 175.97 L386.02 175.74 L386.20 175.54 L386.39 175.36 L386.57 175.19 L386.75 175.05 L386.94 174.92 L387.12 174.82 L387.30 174.75 L387.49 174.68 L387.67 174.64 L387.86 174.61 L388.04 174.59 L388.22 174.59 L388.41 174.60 L388.59 174.63 L388.77 174.67 L388.96 174.73 L389.14 174.80 L389.32 174.88 L389.51 174.98 L389.69 175.09 L389.87 175.22 L390.06 175.36 L390.24 175.52 L390.42 175.68 L390.61 175.87 L390.79 176.07 L390.98 176.29 L391.16 176.52 L391.34 176.77" stroke="#ff8080" stroke-width="0.5"/>
<g stroke="#ff00ff" stroke-width="2.1" stroke-dasharray="3.3 2.5">
<path d="M21.34 40.83 L21.44 41.28 L21.54 41.78 L21.64 42.31 L21.74 42.89 L21.84 43.52 L21.94 44.21 L22.04 44.97 L22.14 45.79 L22.24 46.70 L22.34 47.70 L22.43 48.81 L22.53 50.05 L22.63 51.46 L22.73 53.08 L22.83 54.96 L22.93 57.21 L23.03 59.98 L23.42 60.00 L23.42 60.00 L23.80 59.77 L23.90 56.95 L23.99 54.65 L24.09 52.72 L24.18 51.06 L24.28 49.60 L24.37 48.30 L24.47 47.14 L24.56 46.09 L24.66 45.14 L24.75 44.27 L24.85 43.47 L24.94 42.73 L25.03 42.05 L25.13 41.42 L25.22 40.84 L25.32 40.30 L25.41 39.80 L25.51 39.33 L25.60 38.90 L25.70 38.50 L25.79 38.13 L25.89 37.79 L25.98 37.48 L26.08 37.19 L26.17 36.92 L26.27 36.68 L26.36 36.47 L26.45 36.27 L26.55 36.10 L26.64 35.94 L26.74 35.81 L26.83 35.70 L26.93 35.61 L27.02 35.53 L27.12 35.48 L27.21 35.45 L27.31 35.43" stroke-dashoffset="5.72"/>
<path d="M27.31 35.43 L27.40 35.44 L27.50 35.46 L27.59 35.51 L27.69 35.57 L27.78 35.66 L27.88 35.76 L27.97 35.89 L28.06 36.04 L28.16 36.21 L28.25 36.40 L28.35 36.62 L28.44 36.86 L28.54 37.12 L28.63 37.42 L28.73 37.74 L28.82 38.09 L28.92 38.47 L29.01 38.89 L29.11 39.34 L29.20 39.83 L29.30 40.36 L29.39 40.94 L29.48 41.57 L29.58 42.25 L29.67 43.00 L29.77 43.82 L29.86 44.72 L29.96 45.71 L30.05 46.82 L30.15 48.06 L30.24 49.46 L30.34 51.06 L30.43 52.93 L30.53 55.17 L30.62 57.92 L30.72 61.48 L30.81 66.54 L30.91 75.21 L31.00 76.00 L31.00 76.00 L31.10 75.16 L31.21 66.43 L31.31 61.32 L31.41 57.70 L31.52 54.90 L31.62 52.62 L31.72 50.70 L31.82 49.04 L31.93 47.59 L32.03 46.30 L32.13 45.15 L32.24 44.10 L32.34 43.15 L32.44 42.29 L32.55 41.49 L32.65 40.76 L32.75 40.08 L32.86 39.45 L32.96 38.87 L33.06 38.35 L33.17 37.88 L33.27 37.45 L33.37 37.05 L33.47 36.68 L33.58 36.35 L33.68 36.04 L33.78 35.75 L33.89 35.50 L33.99 35.26 L34.09 35.05 L34.20 34.87 L34.30 34.70 L34.40 34.56 L34.51 34.43 L34.61 34.33 L34.71 34.25 L34.82 34.19 L34.92 34.15 L35.02 34.12 L35.12 34.12" stroke-dashoffset="0.91"/>
<path d="M35.12 34.12 L35.23 34.13 L35.33 34.17 L35.43 34.22 L35.54 34.30 L35.64 34.39 L35.74 34.50 L35.85 34.64 L35.95 34.79 L36.05 34.97 L36.16 35.17 L36.26 35.39 L36.36 35.63 L36.47 35.90 L36.57 36.19 L36.67 36.51 L36.77 36.86 L36.88 37.24 L36.98 37.64 L37.08 38.09 L37.19 38.56 L37.29 39.08 L37.39 39.64 L37.50 40.24 L37.60 40.89 L37.70 41.60 L37.81 42.37 L37.91 43.22 L38.01 44.14 L38.12 45.15 L38.22 46.28 L38.32 47.54 L38.42 48.96 L38.53 50.58 L38.63 52.47 L38.73 54.71 L38.84 57.47 L38.94 61.04 L39.04 66.08 L39.25 68.70 L39.25 68.70 L39.47 66.09 L39.58 61.06 L39.69 57.50 L39.80 54.75 L39.91 52.52 L40.02 50.64 L40.13 49.03 L40.24 47.62 L40.35 46.38 L40.46 45.26 L40.57 44.26 L40.68 43.35 L40.79 42.52 L40.90 41.76 L41.01 41.06 L41.11 40.42 L41.22 39.83 L41.33 39.29 L41.44 38.78 L41.55 38.32 L41.66 37.89 L41.77 37.49 L41.88 37.13 L41.99 36.80 L42.10 36.53 L42.21 36.29 L42.32 36.08 L42.43 35.89 L42.54 35.73 L42.65 35.58 L42.76 35.46 L42.87 35.36 L42.98 35.28 L43.09 35.23 L43.20 35.19 L43.31 35.17" stroke-dashoffset="2.98"/>
<path d="M43.31 35.17 L43.42 35.17 L43.53 35.19 L43.64 35.23 L43.75 35.29 L43.86 35.37 L43.97 35.46 L44.08 35.58 L44.19 35.72 L44.30 35.87 L44.41 36.05 L44.52 36.24 L44.62 36.46 L44.73 36.70 L44.84 36.96 L44.95 37.25 L45.06 37.56 L45.17 37.89 L45.28 38.25 L45.39 38.64 L45.50 39.06 L45.61 39.51 L45.72 39.99 L45.83 40.50 L45.94 41.06 L46.05 41.66 L46.16 42.30 L46.27 42.99 L46.38 43.73 L46.49 44.54 L46.60 45.42 L46.71 46.38 L46.82 47.43 L46.93 48.59 L47.04 49.88 L47.15 51.33 L47.26 52.99 L47.37 54.90 L47.48 57.17 L47.59 59.95 L47.70 63.53 L47.81 68.58 L48.03 73.80 L48.03 73.80 L48.24 68.76 L48.34 63.80 L48.45 60.31 L48.55 57.63 L48.66 55.45 L48.76 53.63 L48.87 52.08 L48.97 50.72 L49.08 49.53 L49.18 48.46 L49.29 47.51 L49.39 46.64 L49.50 45.84 L49.60 45.11 L49.71 44.44 L49.82 43.82 L49.92 43.26 L50.03 42.74 L50.13 42.26 L50.24 41.82 L50.34 41.42 L50.45 41.04 L50.55 40.70 L50.66 40.39 L50.76 40.11 L50.87 39.85 L50.97 39.62 L51.08 39.41 L51.18 39.22 L51.29 39.06 L51.40 38.92 L51.50 38.80 L51.61 38.70 L51.71 38.62 L51.82 38.56 L51.92 38.52 L52.03 38.49 L52.13 38.49" stroke-dashoffset="2.81"/>
<path d="M52.13 38.49 L52.24 38.51 L52.34 38.55 L52.45 38.60 L52.55 38.67 L52.66 38.77 L52.76 38.88 L52.87 39.01 L52.97 39.16 L53.08 39.34 L53.19 39.53 L53.29 39.75 L53.40 39.98 L53.50 40.25 L53.61 40.53 L53.71 40.84 L53.82 41.17 L53.92 41.54 L54.03 41.93 L54.13 42.35 L54.24 42.81 L54.34 43.30 L54.45 43.83 L54.55 44.39 L54.66 45.01 L54.77 45.67 L54.87 46.39 L54.98 47.17 L55.08 48.02 L55.19 48.95 L55.29 49.97 L55.40 51.10 L55.50 52.36 L55.61 53.77 L55.71 55.39 L55.82 57.27 L55.92 59.50 L56.03 62.23 L56.13 65.76 L56.24 70.75 L56.45 71.30 L56.45 71.30 L56.65 70.84 L56.74 65.90 L56.84 62.42 L56.94 59.73 L57.04 57.55 L57.14 55.73 L57.23 54.16 L57.33 52.79 L57.43 51.58 L57.53 50.51 L57.63 49.54 L57.73 48.66 L57.82 47.86 L57.92 47.13 L58.02 46.47 L58.12 45.85 L58.22 45.30 L58.31 44.80 L58.41 44.35 L58.51 43.93 L58.61 43.55 L58.71 43.20 L58.80 42.89 L58.90 42.60 L59.00 42.34 L59.10 42.11 L59.20 41.90 L59.30 41.71 L59.39 41.55 L59.49 41.41 L59.59 41.29 L59.69 41.19 L59.79 41.11 L59.88 41.05 L59.98 41.02 L60.08 41.00" stroke-dashoffset="0.19"/>
<path d="M60.08 41.00 L60.18 41.00 L60.28 41.02 L60.38 41.05 L60.47 41.11 L60.57 41.19 L60.67 41.28 L60.77 41.40 L60.87 41.53 L60.96 41.68 L61.06 41.85 L61.16 42.05 L61.26 42.26 L61.36 42.49 L61.45 42.75 L61.55 43.03 L61.65 43.33 L61.75 43.66 L61.85 44.01 L61.95 44.39 L62.04 44.80 L62.14 45.24 L62.24 45.71 L62.34 46.21 L62.44 46.76 L62.53 47.34 L62.63 47.96 L62.73 48.64 L62.83 49.37 L62.93 50.16 L63.02 51.02 L63.12 51.95 L63.22 52.98 L63.32 54.11 L63.42 55.37 L63.52 56.78 L63.61 58.39 L63.71 60.26 L63.81 62.47 L63.91 65.18 L64.01 68.67 L64.10 73.60 L64.30 77.60 L64.30 77.60 L64.50 73.75 L64.60 68.91 L64.69 65.51 L64.79 62.89 L64.89 60.77 L64.99 58.99 L65.09 57.48 L65.19 56.15 L65.28 54.99 L65.38 53.95 L65.48 53.02 L65.58 52.18 L65.68 51.42 L65.78 50.73 L65.88 50.10 L65.97 49.52 L66.07 49.00 L66.17 48.51 L66.27 48.07 L66.37 47.66 L66.47 47.29 L66.56 46.95 L66.66 46.64 L66.76 46.36 L66.86 46.11 L66.96 45.88 L67.06 45.67 L67.15 45.49 L67.25 45.33 L67.35 45.20 L67.45 45.08 L67.55 44.99 L67.65 44.91 L67.75 44.86 L67.84 44.82 L67.94 44.80" stroke-dashoffset="4.17"/>
<path d="M67.94 44.80 L68.04 44.81 L68.14 44.83 L68.24 44.86 L68.34 44.92 L68.43 45.00 L68.53 45.09 L68.63 45.20 L68.73 45.33 L68.83 45.48 L68.93 45.65 L69.02 45.84 L69.12 46.05 L69.22 46.28 L69.32 46.53 L69.42 46.81 L69.52 47.10 L69.62 47.42 L69.71 47.77 L69.81 48.14 L69.91 48.54 L70.01 48.97 L70.11 49.43 L70.21 49.92 L70.30 50.45 L70.40 51.02 L70.50 51.64 L70.60 52.30 L70.70 53.01 L70.80 53.78 L70.90 54.62 L70.99 55.53 L71.09 56.53 L71.19 57.64 L71.29 58.87 L71.39 60.25 L71.49 61.82 L71.58 63.64 L71.68 65.80 L71.78 68.45 L71.88 71.85 L71.98 76.65 L72.17 80.68 L72.17 80.68 L72.38 76.81 L72.48 72.10 L72.58 68.78 L72.69 66.23 L72.79 64.16 L72.89 62.43 L73.00 60.96 L73.10 59.67 L73.20 58.54 L73.30 57.53 L73.41 56.63 L73.51 55.81 L73.61 55.07 L73.71 54.40 L73.81 53.79 L73.92 53.23 L74.02 52.72 L74.12 52.25 L74.22 51.82 L74.33 51.43 L74.43 51.07 L74.53 50.74 L74.63 50.44 L74.74 50.17 L74.84 49.93 L74.94 49.71 L75.05 49.51 L75.15 49.34 L75.25 49.19 L75.35 49.06 L75.45 48.96 L75.56 48.87 L75.66 48.80 L75.76 48.75 L75.86 48.72 L75.97 48.70" stroke-dashoffset="5.57"/>
<path d="M75.97 48.70 L76.07 48.71 L76.17 48.73 L76.28 48.78 L76.38 48.84 L76.48 48.91 L76.58 49.01 L76.69 49.12 L76.79 49.25 L76.89 49.40 L76.99 49.57 L77.09 49.76 L77.20 49.97 L77.30 50.20 L77.40 50.45 L77.50 50.72 L77.61 51.01 L77.71 51.33 L77.81 51.67 L77.91 52.03 L78.02 52.43 L78.12 52.85 L78.22 53.30 L78.33 53.79 L78.43 54.31 L78.53 54.87 L78.63 55.47 L78.73 56.11 L78.84 56.81 L78.94 57.57 L79.04 58.39 L79.14 59.28 L79.25 60.26 L79.35 61.34 L79.45 62.54 L79.56 63.89 L79.66 65.43 L79.76 67.20 L79.86 69.31 L79.97 71.89 L80.07 75.21 L80.17 79.89 L80.27 87.87 L80.38 93.10 L80.38 93.10 L80.48 87.94 L80.58 80.05 L80.68 75.46 L80.78 72.23 L80.89 69.75 L80.99 67.74 L81.09 66.06 L81.19 64.62 L81.29 63.38 L81.40 62.27 L81.50 61.30 L81.60 60.42 L81.70 59.63 L81.81 58.91 L81.91 58.26 L82.01 57.66 L82.11 57.11 L82.21 56.60 L82.32 56.13 L82.42 55.70 L82.52 55.31 L82.62 54.95 L82.73 54.62 L82.83 54.32 L82.93 54.05 L83.03 53.80 L83.13 53.58 L83.24 53.38 L83.34 53.20 L83.44 53.04 L83.54 52.91 L83.64 52.79 L83.75 52.69 L83.85 52.62 L83.95 52.56 L84.05 52.52 L84.16 52.49 L84.26 52.49" stroke-dashoffset="4.57"/>
<path d="M84.26 52.49 L84.36 52.50 L84.46 52.53 L84.56 52.58 L84.67 52.64 L84.77 52.72 L84.87 52.82 L84.97 52.94 L85.08 53.08 L85.18 53.23 L85.28 53.40 L85.38 53.60 L85.48 53.81 L85.59 54.04 L85.69 54.29 L85.79 54.57 L85.89 54.86 L86.00 55.19 L86.10 55.53 L86.20 55.90 L86.30 56.30 L86.40 56.73 L86.51 57.19 L86.61 57.69 L86.71 58.22 L86.81 58.80 L86.91 59.42 L87.02 60.08 L87.12 60.81 L87.22 61.60 L87.32 62.45 L87.43 63.40 L87.53 64.44 L87.63 65.60 L87.73 66.90 L87.83 68.38 L87.94 70.10 L88.04 72.14 L88.14 74.64 L88.24 77.86 L88.35 82.40 L88.55 88.90 L88.55 88.90 L88.75 82.52 L88.86 78.04 L88.96 74.89 L89.06 72.46 L89.16 70.50 L89.27 68.85 L89.37 67.44 L89.47 66.22 L89.57 65.14 L89.67 64.17 L89.78 63.31 L89.88 62.53 L89.98 61.82 L90.08 61.17 L90.19 60.59 L90.29 60.05 L90.39 59.55 L90.49 59.10 L90.59 58.68 L90.70 58.30 L90.80 57.96 L90.90 57.64 L91.00 57.35 L91.10 57.09 L91.21 56.87 L91.31 56.67 L91.41 56.49 L91.51 56.33 L91.62 56.19 L91.72 56.08 L91.82 55.98 L91.92 55.90 L92.02 55.84 L92.13 55.80 L92.23 55.77 L92.33 55.76" stroke-dashoffset="5.59"/>
<path d="M92.33 55.76 L92.43 55.78 L92.54 55.80 L92.64 55.85 L92.74 55.91 L92.84 55.99 L92.94 56.08 L93.05 56.19 L93.15 56.32 L93.25 56.47 L93.35 56.64 L93.45 56.82 L93.56 57.02 L93.66 57.24 L93.76 57.48 L93.86 57.75 L93.97 58.03 L94.07 58.33 L94.17 58.66 L94.27 59.01 L94.37 59.39 L94.48 59.79 L94.58 60.22 L94.68 60.69 L94.78 61.19 L94.89 61.72 L94.99 62.29 L95.09 62.91 L95.19 63.58 L95.29 64.30 L95.40 65.08 L95.50 65.93 L95.60 66.86 L95.70 67.89 L95.81 69.03 L95.91 70.31 L96.01 71.77 L96.11 73.45 L96.21 75.45 L96.32 77.90 L96.42 81.04 L96.52 85.47 L96.72 92.70 L96.72 92.70 L96.93 85.65 L97.03 81.31 L97.13 78.26 L97.24 75.92 L97.34 74.02 L97.44 72.44 L97.54 71.08 L97.65 69.91 L97.75 68.87 L97.85 67.95 L97.95 67.12 L98.06 66.38 L98.16 65.71 L98.26 65.10 L98.36 64.54 L98.47 64.03 L98.57 63.57 L98.67 63.14 L98.77 62.75 L98.88 62.40 L98.98 62.07 L99.08 61.78 L99.19 61.51 L99.29 61.27 L99.39 61.05 L99.49 60.86 L99.59 60.68 L99.70 60.53 L99.80 60.42 L99.90 60.33 L100.00 60.26 L100.11 60.20 L100.21 60.16 L100.31 60.15 L100.41 60.14" stroke-dashoffset="3.40"/>
<path d="M100.41 60.14 L100.52 60.16 L100.62 60.19 L100.72 60.24 L100.82 60.30 L100.93 60.39 L101.03 60.48 L101.13 60.60 L101.23 60.73 L101.34 60.88 L101.44 61.04 L101.54 61.22 L101.64 61.42 L101.75 61.64 L101.85 61.88 L101.95 62.13 L102.05 62.41 L102.16 62.71 L102.26 63.02 L102.36 63.36 L102.47 63.73 L102.57 64.12 L102.67 64.53 L102.77 64.97 L102.88 65.45 L102.98 65.95 L103.08 66.49 L103.18 67.07 L103.28 67.69 L103.39 68.36 L103.49 69.08 L103.59 69.86 L103.69 70.71 L103.80 71.64 L103.90 72.66 L104.00 73.79 L104.10 75.05 L104.21 76.49 L104.31 78.15 L104.41 80.11 L104.52 82.51 L104.62 85.59 L104.72 89.92 L104.82 97.28 L104.92 106.00 L104.92 106.00 L105.03 97.40 L105.13 90.17 L105.24 85.98 L105.34 83.04 L105.45 80.79 L105.55 78.97 L105.65 77.45 L105.76 76.16 L105.86 75.04 L105.97 74.06 L106.07 73.17 L106.17 72.36 L106.28 71.64 L106.38 70.98 L106.49 70.38 L106.59 69.84 L106.69 69.34 L106.80 68.88 L106.90 68.47 L107.01 68.09 L107.11 67.74 L107.21 67.42 L107.32 67.13 L107.42 66.87 L107.53 66.63 L107.63 66.41 L107.73 66.22 L107.84 66.05 L107.94 65.90 L108.05 65.77 L108.15 65.65 L108.25 65.56 L108.36 65.48 L108.46 65.42 L108.57 65.38 L108.67 65.36 L108.78 65.35" stroke-dashoffset="1.47"/>
<path d="M108.78 65.35 L108.88 65.36 L108.98 65.38 L109.09 65.42 L109.19 65.48 L109.30 65.55 L109.40 65.64 L109.50 65.74 L109.61 65.86 L109.71 66.00 L109.82 66.15 L109.92 66.32 L110.02 66.51 L110.13 66.72 L110.23 66.94 L110.34 67.19 L110.44 67.45 L110.54 67.73 L110.65 68.04 L110.75 68.37 L110.86 68.72 L110.96 69.10 L111.06 69.51 L111.17 69.95 L111.27 70.41 L111.38 70.91 L111.48 71.45 L111.58 72.03 L111.69 72.66 L111.79 73.33 L111.90 74.07 L112.00 74.87 L112.11 75.74 L112.21 76.71 L112.31 77.78 L112.42 78.99 L112.52 80.36 L112.63 81.95 L112.73 83.83 L112.83 86.13 L112.94 89.10 L113.04 93.27 L113.15 100.39 L113.25 119.60 L113.25 119.60 L113.36 100.46 L113.47 93.42 L113.57 89.34 L113.68 86.46 L113.79 84.25 L113.89 82.46 L114.00 80.97 L114.11 79.69 L114.22 78.58 L114.33 77.61 L114.43 76.74 L114.54 75.96 L114.65 75.26 L114.75 74.63 L114.86 74.06 L114.97 73.55 L115.08 73.08 L115.19 72.65 L115.29 72.27 L115.40 71.91 L115.51 71.59 L115.61 71.29 L115.72 71.03 L115.83 70.79 L115.94 70.57 L116.05 70.37 L116.15 70.20 L116.26 70.05 L116.37 69.92 L116.47 69.81 L116.58 69.71 L116.69 69.63 L116.80 69.57 L116.91 69.53 L117.01 69.51 L117.12 69.50" stroke-dashoffset="3.33"/>
<path d="M117.12 69.50 L117.23 69.50 L117.33 69.52 L117.44 69.56 L117.55 69.61 L117.66 69.68 L117.77 69.77 L117.87 69.87 L117.98 69.98 L118.09 70.11 L118.19 70.26 L118.30 70.42 L118.41 70.61 L118.52 70.80 L118.62 71.02 L118.73 71.25 L118.84 71.50 L118.95 71.77 L119.05 72.06 L119.16 72.37 L119.27 72.71 L119.38 73.06 L119.48 73.45 L119.59 73.85 L119.70 74.29 L119.81 74.76 L119.91 75.26 L120.02 75.79 L120.13 76.37 L120.24 76.99 L120.34 77.66 L120.45 78.39 L120.56 79.18 L120.67 80.04 L120.77 81.00 L120.88 82.05 L120.99 83.24 L121.10 84.59 L121.20 86.14 L121.31 87.98 L121.42 90.23 L121.53 93.13 L121.63 97.20 L121.74 104.13 L121.85 111.00 L121.85 111.00 L121.96 104.23 L122.07 97.42 L122.18 93.47 L122.30 90.69 L122.41 88.56 L122.52 86.84 L122.63 85.41 L122.74 84.19 L122.85 83.12 L122.97 82.19 L123.08 81.36 L123.19 80.62 L123.30 79.96 L123.41 79.35 L123.52 78.81 L123.63 78.31 L123.75 77.86 L123.86 77.45 L123.97 77.08 L124.08 76.74 L124.19 76.43 L124.30 76.14 L124.42 75.89 L124.53 75.66 L124.64 75.45 L124.75 75.27 L124.86 75.10 L124.97 74.96 L125.09 74.83 L125.20 74.73 L125.31 74.64 L125.42 74.57 L125.53 74.51 L125.64 74.48 L125.75 74.45 L125.87 74.45" stroke-dashoffset="5.47"/>
<path d="M125.87 74.45 L125.98 74.46 L126.09 74.48 L126.20 74.52 L126.31 74.58 L126.42 74.65 L126.54 74.74 L126.65 74.84 L126.76 74.95 L126.87 75.09 L126.98 75.23 L127.09 75.40 L127.20 75.58 L127.32 75.77 L127.43 75.99 L127.54 76.22 L127.65 76.47 L127.76 76.74 L127.87 77.02 L127.99 77.33 L128.10 77.66 L128.21 78.02 L128.32 78.39 L128.43 78.80 L128.54 79.23 L128.66 79.69 L128.77 80.19 L128.88 80.72 L128.99 81.28 L129.10 81.90 L129.21 82.56 L129.32 83.27 L129.44 84.05 L129.55 84.90 L129.66 85.84 L129.77 86.88 L129.88 88.04 L129.99 89.36 L130.11 90.89 L130.22 92.70 L130.33 94.91 L130.44 97.75 L130.55 101.74 L130.66 108.53 L130.78 135.20 L130.78 135.20 L130.89 108.64 L131.01 101.97 L131.12 98.10 L131.24 95.38 L131.35 93.30 L131.47 91.62 L131.58 90.22 L131.70 89.02 L131.81 87.98 L131.93 87.07 L132.04 86.27 L132.16 85.54 L132.27 84.89 L132.39 84.31 L132.50 83.78 L132.62 83.30 L132.74 82.86 L132.85 82.46 L132.97 82.10 L133.08 81.77 L133.20 81.46 L133.31 81.19 L133.43 80.95 L133.54 80.72 L133.66 80.52 L133.77 80.35 L133.89 80.19 L134.00 80.05 L134.12 79.93 L134.23 79.83 L134.35 79.75 L134.47 79.68 L134.58 79.63 L134.70 79.60 L134.81 79.58 L134.93 79.58" stroke-dashoffset="3.45"/>
<path d="M134.93 79.58 L135.04 79.59 L135.16 79.62 L135.27 79.66 L135.39 79.72 L135.50 79.79 L135.62 79.88 L135.73 79.98 L135.85 80.10 L135.96 80.23 L136.08 80.38 L136.19 80.55 L136.31 80.73 L136.43 80.92 L136.54 81.13 L136.66 81.36 L136.77 81.61 L136.89 81.88 L137.00 82.16 L137.12 82.47 L137.23 82.80 L137.35 83.14 L137.46 83.52 L137.58 83.92 L137.69 84.34 L137.81 84.80 L137.92 85.28 L138.04 85.81 L138.16 86.37 L138.27 86.97 L138.39 87.62 L138.50 88.32 L138.62 89.09 L138.73 89.92 L138.85 90.84 L138.96 91.86 L139.08 93.01 L139.19 94.31 L139.31 95.80 L139.42 97.57 L139.54 99.74 L139.65 102.52 L139.77 106.43 L139.88 113.07 L140.00 149.00 L140.00 149.00 L140.12 113.19 L140.23 106.66 L140.35 102.88 L140.46 100.22 L140.58 98.19 L140.69 96.54 L140.81 95.17 L140.92 94.00 L141.04 92.99 L141.15 92.10 L141.27 91.31 L141.38 90.61 L141.50 89.97 L141.61 89.40 L141.73 88.88 L141.84 88.41 L141.96 87.98 L142.08 87.60 L142.19 87.24 L142.31 86.92 L142.42 86.63 L142.54 86.36 L142.65 86.12 L142.77 85.90 L142.88 85.71 L143.00 85.54 L143.11 85.39 L143.23 85.25 L143.34 85.14 L143.46 85.04 L143.57 84.96 L143.69 84.90 L143.81 84.85 L143.92 84.82 L144.04 84.80 L144.15 84.80" stroke-dashoffset="4.15"/>
<path d="M144.15 84.80 L144.27 84.82 L144.38 84.85 L144.50 84.89 L144.61 84.95 L144.73 85.02 L144.84 85.11 L144.96 85.21 L145.07 85.33 L145.19 85.46 L145.30 85.60 L145.42 85.76 L145.53 85.94 L145.65 86.13 L145.77 86.34 L145.88 86.57 L146.00 86.81 L146.11 87.08 L146.23 87.36 L146.34 87.66 L146.46 87.98 L146.57 88.32 L146.69 88.69 L146.80 89.08 L146.92 89.50 L147.03 89.94 L147.15 90.42 L147.26 90.93 L147.38 91.48 L147.50 92.07 L147.61 92.71 L147.73 93.40 L147.84 94.15 L147.96 94.97 L148.07 95.87 L148.19 96.87 L148.30 97.99 L148.42 99.26 L148.53 100.73 L148.65 102.46 L148.76 104.58 L148.88 107.30 L148.99 111.12 L149.11 117.62 L149.22 126.40 L149.22 126.40 L149.34 117.74 L149.45 111.36 L149.57 107.66 L149.68 105.06 L149.79 103.07 L149.91 101.46 L150.02 100.12 L150.13 98.96 L150.25 97.96 L150.36 97.07 L150.48 96.29 L150.59 95.58 L150.70 94.95 L150.82 94.38 L150.93 93.86 L151.04 93.38 L151.16 92.95 L151.27 92.56 L151.39 92.20 L151.50 91.87 L151.61 91.57 L151.73 91.29 L151.84 91.04 L151.95 90.82 L152.07 90.62 L152.18 90.43 L152.30 90.27 L152.41 90.13 L152.52 90.00 L152.64 89.89 L152.75 89.80 L152.86 89.72 L152.98 89.66 L153.09 89.62 L153.21 89.59 L153.32 89.57 L153.43 89.57" stroke-dashoffset="2.63"/>
<path d="M153.43 89.57 L153.55 89.59 L153.66 89.62 L153.77 89.66 L153.89 89.72 L154.00 89.79 L154.12 89.88 L154.23 89.98 L154.34 90.09 L154.46 90.22 L154.57 90.36 L154.69 90.52 L154.80 90.70 L154.91 90.89 L155.03 91.10 L155.14 91.32 L155.25 91.56 L155.37 91.82 L155.48 92.10 L155.59 92.40 L155.71 92.72 L155.82 93.07 L155.94 93.44 L156.05 93.83 L156.16 94.26 L156.28 94.71 L156.39 95.20 L156.50 95.72 L156.62 96.28 L156.73 96.89 L156.85 97.55 L156.96 98.27 L157.07 99.06 L157.19 99.93 L157.30 100.89 L157.41 101.97 L157.53 103.20 L157.64 104.62 L157.76 106.30 L157.87 108.36 L157.98 111.01 L158.10 114.73 L158.21 121.07 L158.32 150.10 L158.32 150.10 L158.43 121.16 L158.54 114.90 L158.65 111.27 L158.76 108.71 L158.87 106.75 L158.98 105.16 L159.08 103.84 L159.19 102.71 L159.30 101.72 L159.41 100.85 L159.52 100.09 L159.63 99.40 L159.73 98.78 L159.84 98.21 L159.95 97.70 L160.06 97.24 L160.17 96.82 L160.28 96.43 L160.39 96.08 L160.49 95.76 L160.60 95.46 L160.71 95.19 L160.82 94.95 L160.93 94.73 L161.04 94.53 L161.14 94.35 L161.25 94.19 L161.36 94.04 L161.47 93.92 L161.58 93.81 L161.69 93.72 L161.79 93.64 L161.90 93.58 L162.01 93.54 L162.12 93.51 L162.23 93.49 L162.34 93.49" stroke-dashoffset="3.78"/>
<path d="M162.34 93.49 L162.45 93.50 L162.55 93.53 L162.66 93.57 L162.77 93.63 L162.88 93.69 L162.99 93.78 L163.10 93.87 L163.20 93.99 L163.31 94.11 L163.42 94.25 L163.53 94.41 L163.64 94.58 L163.75 94.77 L163.86 94.97 L163.96 95.19 L164.07 95.43 L164.18 95.68 L164.29 95.96 L164.40 96.25 L164.51 96.57 L164.61 96.91 L164.72 97.28 L164.83 97.67 L164.94 98.08 L165.05 98.53 L165.16 99.01 L165.26 99.53 L165.37 100.09 L165.48 100.69 L165.59 101.35 L165.70 102.06 L165.81 102.84 L165.92 103.70 L166.02 104.66 L166.13 105.74 L166.24 106.96 L166.35 108.37 L166.46 110.05 L166.57 112.10 L166.67 114.73 L166.78 118.44 L166.89 124.76 L167.00 139.00 L167.00 139.00 L167.10 124.86 L167.21 118.63 L167.31 115.01 L167.42 112.47 L167.53 110.52 L167.63 108.94 L167.74 107.62 L167.84 106.49 L167.94 105.51 L168.05 104.64 L168.16 103.88 L168.26 103.19 L168.37 102.57 L168.47 102.01 L168.57 101.50 L168.68 101.03 L168.78 100.61 L168.89 100.22 L169.00 99.87 L169.10 99.54 L169.21 99.25 L169.31 98.98 L169.41 98.73 L169.52 98.51 L169.62 98.31 L169.73 98.13 L169.84 97.96 L169.94 97.82 L170.05 97.69 L170.15 97.58 L170.25 97.49 L170.36 97.41 L170.47 97.35 L170.57 97.30 L170.68 97.27 L170.78 97.26 L170.88 97.25" stroke-dashoffset="0.50"/>
<path d="M170.88 97.25 L170.99 97.26 L171.09 97.29 L171.20 97.33 L171.31 97.38 L171.41 97.45 L171.52 97.53 L171.62 97.63 L171.72 97.73 L171.83 97.86 L171.94 98.00 L172.04 98.15 L172.15 98.32 L172.25 98.51 L172.36 98.71 L172.46 98.93 L172.56 99.16 L172.67 99.42 L172.78 99.69 L172.88 99.99 L172.99 100.30 L173.09 100.64 L173.19 101.00 L173.30 101.39 L173.41 101.81 L173.51 102.25 L173.62 102.73 L173.72 103.25 L173.83 103.81 L173.93 104.41 L174.03 105.06 L174.14 105.78 L174.25 106.56 L174.35 107.42 L174.46 108.37 L174.56 109.45 L174.66 110.67 L174.77 112.08 L174.88 113.75 L174.98 115.80 L175.09 118.43 L175.19 122.14 L175.30 128.46 L175.40 144.00 L175.40 144.00 L175.51 128.55 L175.62 122.33 L175.73 118.72 L175.84 116.17 L175.95 114.22 L176.06 112.64 L176.17 111.33 L176.28 110.20 L176.38 109.22 L176.49 108.36 L176.60 107.59 L176.71 106.91 L176.82 106.29 L176.93 105.73 L177.04 105.22 L177.15 104.76 L177.26 104.34 L177.37 103.95 L177.48 103.60 L177.59 103.28 L177.70 102.98 L177.81 102.72 L177.92 102.47 L178.03 102.25 L178.13 102.05 L178.24 101.87 L178.35 101.71 L178.46 101.57 L178.57 101.44 L178.68 101.34 L178.79 101.25 L178.90 101.17 L179.01 101.11 L179.12 101.07 L179.23 101.04 L179.34 101.02 L179.45 101.02" stroke-dashoffset="5.16"/>
<path d="M179.45 101.02 L179.56 101.03 L179.67 101.06 L179.77 101.10 L179.88 101.16 L179.99 101.23 L180.10 101.31 L180.21 101.41 L180.32 101.52 L180.43 101.64 L180.54 101.78 L180.65 101.94 L180.76 102.11 L180.87 102.30 L180.98 102.50 L181.09 102.72 L181.20 102.96 L181.31 103.22 L181.42 103.49 L181.52 103.79 L181.63 104.11 L181.74 104.45 L181.85 104.81 L181.96 105.20 L182.07 105.62 L182.18 106.07 L182.29 106.55 L182.40 107.07 L182.51 107.63 L182.62 108.23 L182.73 108.89 L182.84 109.60 L182.95 110.38 L183.06 111.25 L183.17 112.20 L183.27 113.28 L183.38 114.50 L183.49 115.92 L183.60 117.59 L183.71 119.64 L183.82 122.28 L183.93 125.99 L184.04 132.31 L184.15 141.50 L184.15 141.50 L184.26 132.41 L184.37 126.18 L184.48 122.57 L184.60 120.03 L184.71 118.08 L184.82 116.50 L184.93 115.18 L185.04 114.06 L185.15 113.08 L185.27 112.22 L185.38 111.45 L185.49 110.77 L185.60 110.15 L185.71 109.59 L185.82 109.09 L185.93 108.63 L186.05 108.20 L186.16 107.82 L186.27 107.47 L186.38 107.15 L186.49 106.85 L186.60 106.59 L186.72 106.34 L186.83 106.12 L186.94 105.93 L187.05 105.75 L187.16 105.59 L187.27 105.45 L187.39 105.32 L187.50 105.22 L187.61 105.13 L187.72 105.05 L187.83 104.99 L187.94 104.95 L188.05 104.92 L188.17 104.91 L188.28 104.91" stroke-dashoffset="4.26"/>
<path d="M188.28 104.91 L188.39 104.92 L188.50 104.95 L188.61 104.99 L188.72 105.05 L188.84 105.12 L188.95 105.20 L189.06 105.30 L189.17 105.41 L189.28 105.54 L189.39 105.68 L189.50 105.84 L189.62 106.01 L189.73 106.20 L189.84 106.40 L189.95 106.62 L190.06 106.86 L190.17 107.12 L190.29 107.40 L190.40 107.69 L190.51 108.01 L190.62 108.35 L190.73 108.72 L190.84 109.11 L190.96 109.53 L191.07 109.98 L191.18 110.46 L191.29 110.98 L191.40 111.54 L191.51 112.15 L191.62 112.80 L191.74 113.52 L191.85 114.30 L191.96 115.16 L192.07 116.12 L192.18 117.20 L192.29 118.42 L192.41 119.84 L192.52 121.51 L192.63 123.56 L192.74 126.20 L192.85 129.91 L192.96 136.23 L193.07 144.00 L193.07 144.00 L193.18 136.33 L193.29 130.10 L193.39 126.49 L193.50 123.95 L193.61 121.99 L193.71 120.41 L193.82 119.09 L193.92 117.97 L194.03 116.99 L194.14 116.12 L194.24 115.36 L194.35 114.67 L194.46 114.05 L194.56 113.49 L194.67 112.98 L194.77 112.52 L194.88 112.09 L194.99 111.70 L195.09 111.35 L195.20 111.03 L195.31 110.73 L195.41 110.46 L195.52 110.22 L195.62 110.00 L195.73 109.79 L195.84 109.61 L195.94 109.45 L196.05 109.31 L196.16 109.18 L196.26 109.07 L196.37 108.98 L196.47 108.90 L196.58 108.84 L196.69 108.80 L196.79 108.77 L196.90 108.75 L197.01 108.75" stroke-dashoffset="2.31"/>
<path d="M197.01 108.75 L197.11 108.76 L197.22 108.78 L197.32 108.82 L197.43 108.88 L197.54 108.94 L197.64 109.03 L197.75 109.12 L197.86 109.23 L197.96 109.36 L198.07 109.50 L198.17 109.65 L198.28 109.82 L198.39 110.01 L198.49 110.21 L198.60 110.43 L198.71 110.67 L198.81 110.92 L198.92 111.20 L199.02 111.49 L199.13 111.81 L199.24 112.15 L199.34 112.51 L199.45 112.90 L199.56 113.31 L199.66 113.76 L199.77 114.24 L199.88 114.76 L199.98 115.32 L200.09 115.92 L200.19 116.58 L200.30 117.30 L200.41 118.08 L200.51 118.94 L200.62 119.90 L200.72 120.98 L200.83 122.20 L200.94 123.62 L201.04 125.30 L201.15 127.35 L201.26 129.99 L201.36 133.70 L201.57 140.00 L201.57 140.00 L201.77 133.89 L201.88 130.28 L201.97 127.73 L202.07 125.78 L202.17 124.20 L202.27 122.88 L202.38 121.76 L202.47 120.78 L202.57 119.91 L202.67 119.15 L202.77 118.46 L202.88 117.84 L202.97 117.28 L203.07 116.77 L203.17 116.31 L203.27 115.88 L203.38 115.50 L203.47 115.14 L203.57 114.82 L203.67 114.52 L203.77 114.26 L203.88 114.01 L203.97 113.79 L204.07 113.59 L204.17 113.41 L204.27 113.24 L204.38 113.10 L204.47 112.98 L204.57 112.87 L204.67 112.78 L204.77 112.70 L204.88 112.64 L204.97 112.59 L205.07 112.56 L205.17 112.54 L205.27 112.54" stroke-dashoffset="4.18"/>
<path d="M205.27 112.54 L205.38 112.55 L205.47 112.58 L205.57 112.62 L205.67 112.67 L205.77 112.74 L205.88 112.82 L205.97 112.92 L206.07 113.03 L206.17 113.16 L206.27 113.30 L206.38 113.45 L206.47 113.62 L206.57 113.81 L206.67 114.01 L206.77 114.23 L206.88 114.47 L206.97 114.72 L207.07 115.00 L207.17 115.29 L207.27 115.61 L207.38 115.95 L207.47 116.31 L207.57 116.70 L207.67 117.12 L207.77 117.56 L207.88 118.05 L207.97 118.56 L208.07 119.12 L208.17 119.72 L208.27 120.38 L208.38 121.09 L208.47 121.87 L208.57 122.73 L208.67 123.69 L208.77 124.76 L208.88 125.98 L208.97 127.40 L209.07 129.07 L209.17 131.12 L209.27 133.76 L209.38 137.46 L209.47 143.78 L209.57 164.00 L209.57 164.00 L209.68 143.88 L209.78 137.65 L209.88 134.04 L209.98 131.50 L210.08 129.54 L210.18 127.96 L210.28 126.64 L210.38 125.52 L210.48 124.54 L210.58 123.68 L210.68 122.91 L210.78 122.22 L210.88 121.60 L210.98 121.04 L211.08 120.53 L211.19 120.07 L211.29 119.65 L211.39 119.26 L211.49 118.91 L211.59 118.59 L211.69 118.29 L211.79 118.02 L211.89 117.78 L211.99 117.56 L212.09 117.35 L212.19 117.17 L212.29 117.01 L212.39 116.87 L212.49 116.74 L212.59 116.64 L212.69 116.54 L212.79 116.47 L212.90 116.41 L213.00 116.36 L213.10 116.33 L213.20 116.32 L213.30 116.31" stroke-dashoffset="1.43"/>
<path d="M213.30 116.31 L213.40 116.33 L213.50 116.35 L213.60 116.39 L213.70 116.45 L213.80 116.51 L213.90 116.60 L214.00 116.69 L214.10 116.80 L214.20 116.93 L214.30 117.07 L214.41 117.22 L214.51 117.40 L214.61 117.58 L214.71 117.79 L214.81 118.01 L214.91 118.24 L215.01 118.50 L215.11 118.77 L215.21 119.07 L215.31 119.39 L215.41 119.72 L215.51 120.09 L215.61 120.48 L215.71 120.90 L215.81 121.34 L215.91 121.82 L216.01 122.34 L216.12 122.90 L216.22 123.50 L216.32 124.16 L216.42 124.87 L216.52 125.65 L216.62 126.51 L216.72 127.47 L216.82 128.54 L216.92 129.77 L217.02 131.18 L217.12 132.85 L217.22 134.90 L217.32 137.54 L217.42 141.25 L217.52 147.57 L217.62 162.80 L217.62 162.80 L217.73 147.66 L217.83 141.44 L217.94 137.83 L218.04 135.29 L218.15 133.33 L218.25 131.76 L218.36 130.44 L218.46 129.32 L218.56 128.34 L218.67 127.48 L218.77 126.71 L218.88 126.03 L218.98 125.41 L219.09 124.85 L219.19 124.34 L219.29 123.88 L219.40 123.46 L219.50 123.08 L219.61 122.73 L219.71 122.40 L219.82 122.11 L219.92 121.84 L220.03 121.60 L220.13 121.38 L220.23 121.18 L220.34 121.00 L220.44 120.84 L220.55 120.70 L220.65 120.58 L220.76 120.47 L220.86 120.38 L220.97 120.31 L221.07 120.25 L221.17 120.21 L221.28 120.18 L221.38 120.16 L221.49 120.16" stroke-dashoffset="0.76"/>
<path d="M221.49 120.16 L221.59 120.18 L221.70 120.20 L221.80 120.25 L221.90 120.30 L222.01 120.37 L222.11 120.46 L222.22 120.55 L222.32 120.67 L222.43 120.79 L222.53 120.94 L222.63 121.09 L222.74 121.27 L222.84 121.45 L222.95 121.66 L223.05 121.88 L223.16 122.12 L223.26 122.38 L223.37 122.65 L223.47 122.95 L223.57 123.27 L223.68 123.61 L223.78 123.98 L223.89 124.37 L223.99 124.79 L224.10 125.24 L224.20 125.72 L224.31 126.24 L224.41 126.80 L224.51 127.40 L224.62 128.06 L224.72 128.77 L224.83 129.56 L224.93 130.42 L225.04 131.38 L225.14 132.45 L225.24 133.68 L225.35 135.09 L225.45 136.77 L225.56 138.82 L225.66 141.46 L225.77 145.17 L225.87 151.49 L225.97 166.50 L225.97 166.50 L226.08 151.59 L226.19 145.37 L226.29 141.75 L226.40 139.21 L226.50 137.26 L226.61 135.69 L226.71 134.37 L226.82 133.24 L226.93 132.27 L227.03 131.41 L227.14 130.64 L227.24 129.96 L227.35 129.34 L227.45 128.78 L227.56 128.28 L227.66 127.82 L227.77 127.40 L227.88 127.01 L227.98 126.66 L228.09 126.34 L228.19 126.05 L228.30 125.78 L228.40 125.54 L228.51 125.32 L228.62 125.12 L228.72 124.94 L228.83 124.78 L228.93 124.64 L229.04 124.52 L229.14 124.41 L229.25 124.33 L229.35 124.25 L229.46 124.19 L229.57 124.15 L229.67 124.12 L229.78 124.11" stroke-dashoffset="0.48"/>
<path d="M229.78 124.11 L229.88 124.11 L229.99 124.12 L230.09 124.15 L230.20 124.19 L230.31 124.25 L230.41 124.32 L230.52 124.41 L230.62 124.50 L230.73 124.62 L230.83 124.75 L230.94 124.89 L231.04 125.05 L231.15 125.22 L231.26 125.41 L231.36 125.61 L231.47 125.84 L231.57 126.08 L231.68 126.33 L231.78 126.61 L231.89 126.91 L232.00 127.23 L232.10 127.57 L232.21 127.93 L232.31 128.33 L232.42 128.75 L232.52 129.20 L232.63 129.68 L232.73 130.20 L232.84 130.76 L232.95 131.37 L233.05 132.02 L233.16 132.74 L233.26 133.52 L233.37 134.39 L233.47 135.34 L233.58 136.42 L233.69 137.65 L233.79 139.06 L233.90 140.74 L234.00 142.79 L234.11 145.43 L234.21 149.14 L234.32 155.46 L234.42 158.39 L234.42 158.39 L234.53 155.56 L234.64 149.34 L234.74 145.72 L234.85 143.18 L234.95 141.23 L235.06 139.66 L235.16 138.34 L235.27 137.21 L235.37 136.24 L235.48 135.38 L235.58 134.61 L235.69 133.93 L235.79 133.31 L235.90 132.75 L236.00 132.25 L236.11 131.79 L236.22 131.37 L236.32 130.98 L236.43 130.63 L236.53 130.31 L236.64 130.02 L236.74 129.75 L236.85 129.51 L236.95 129.29 L237.06 129.09 L237.16 128.91 L237.27 128.75 L237.37 128.61 L237.48 128.49 L237.58 128.38 L237.69 128.29 L237.79 128.22 L237.90 128.16 L238.01 128.12 L238.11 128.09 L238.22 128.07" stroke-dashoffset="1.23"/>
<path d="M238.22 128.07 L238.32 128.07 L238.43 128.09 L238.53 128.12 L238.64 128.16 L238.74 128.22 L238.85 128.29 L238.95 128.37 L239.06 128.47 L239.16 128.58 L239.27 128.71 L239.37 128.85 L239.48 129.01 L239.59 129.18 L239.69 129.37 L239.80 129.58 L239.90 129.80 L240.01 130.04 L240.11 130.30 L240.22 130.57 L240.32 130.87 L240.43 131.19 L240.53 131.53 L240.64 131.90 L240.74 132.29 L240.85 132.71 L240.95 133.16 L241.06 133.64 L241.17 134.16 L241.27 134.72 L241.38 135.33 L241.48 135.98 L241.59 136.70 L241.69 137.48 L241.80 138.35 L241.90 139.31 L242.01 140.38 L242.11 141.61 L242.22 143.02 L242.32 144.70 L242.43 146.75 L242.53 149.39 L242.64 153.10 L242.74 159.42 L242.85 172.60 L242.85 172.60 L242.96 159.52 L243.07 153.30 L243.18 149.69 L243.28 147.15 L243.39 145.20 L243.50 143.62 L243.61 142.31 L243.72 141.19 L243.83 140.21 L243.93 139.35 L244.04 138.59 L244.15 137.91 L244.26 137.29 L244.37 136.73 L244.48 136.23 L244.59 135.77 L244.69 135.35 L244.80 134.97 L244.91 134.62 L245.02 134.30 L245.13 134.01 L245.24 133.74 L245.34 133.50 L245.45 133.28 L245.56 133.09 L245.67 132.91 L245.78 132.75 L245.89 132.61 L245.99 132.49 L246.10 132.39 L246.21 132.30 L246.32 132.23 L246.43 132.17 L246.54 132.13 L246.65 132.10 L246.75 132.09" stroke-dashoffset="2.21"/>
<path d="M246.75 132.09 L246.86 132.09 L246.97 132.10 L247.08 132.13 L247.19 132.18 L247.30 132.24 L247.40 132.31 L247.51 132.39 L247.62 132.49 L247.73 132.61 L247.84 132.74 L247.95 132.88 L248.06 133.04 L248.16 133.21 L248.27 133.41 L248.38 133.61 L248.49 133.84 L248.60 134.08 L248.71 134.34 L248.81 134.61 L248.92 134.91 L249.03 135.23 L249.14 135.58 L249.25 135.94 L249.36 136.34 L249.46 136.76 L249.57 137.21 L249.68 137.69 L249.79 138.22 L249.90 138.78 L250.01 139.38 L250.12 140.05 L250.22 140.77 L250.33 141.55 L250.44 142.42 L250.55 143.39 L250.66 144.47 L250.77 145.70 L250.87 147.12 L250.98 148.80 L251.09 150.85 L251.20 153.50 L251.31 157.21 L251.42 163.54 L251.52 171.80 L251.52 171.80 L251.64 163.65 L251.75 157.43 L251.86 153.83 L251.97 151.29 L252.08 149.35 L252.19 147.78 L252.31 146.47 L252.42 145.35 L252.53 144.38 L252.64 143.52 L252.75 142.76 L252.86 142.09 L252.98 141.48 L253.09 140.92 L253.20 140.42 L253.31 139.97 L253.42 139.55 L253.53 139.18 L253.64 138.83 L253.76 138.52 L253.87 138.23 L253.98 137.97 L254.09 137.73 L254.20 137.52 L254.31 137.33 L254.43 137.16 L254.54 137.00 L254.65 136.87 L254.76 136.75 L254.87 136.65 L254.98 136.57 L255.09 136.50 L255.21 136.45 L255.32 136.41 L255.43 136.39 L255.54 136.38" stroke-dashoffset="1.21"/>
<path d="M255.54 136.38 L255.65 136.39 L255.76 136.41 L255.88 136.44 L255.99 136.49 L256.10 136.56 L256.21 136.63 L256.32 136.72 L256.43 136.83 L256.55 136.95 L256.66 137.08 L256.77 137.23 L256.88 137.39 L256.99 137.57 L257.10 137.77 L257.21 137.98 L257.33 138.21 L257.44 138.45 L257.55 138.72 L257.66 139.00 L257.77 139.31 L257.88 139.63 L258.00 139.98 L258.11 140.35 L258.22 140.75 L258.33 141.18 L258.44 141.63 L258.55 142.12 L258.66 142.65 L258.78 143.21 L258.89 143.82 L259.00 144.49 L259.11 145.21 L259.22 146.00 L259.33 146.87 L259.45 147.83 L259.56 148.92 L259.67 150.15 L259.78 151.57 L259.89 153.25 L260.00 155.31 L260.12 157.95 L260.23 161.67 L260.34 168.00 L260.45 191.20 L260.45 191.20 L260.56 168.11 L260.67 161.89 L260.78 158.28 L260.88 155.75 L260.99 153.80 L261.10 152.23 L261.21 150.92 L261.32 149.80 L261.43 148.83 L261.54 147.97 L261.65 147.21 L261.75 146.53 L261.86 145.92 L261.97 145.37 L262.08 144.87 L262.19 144.41 L262.30 143.99 L262.41 143.61 L262.52 143.27 L262.62 142.95 L262.73 142.66 L262.84 142.40 L262.95 142.16 L263.06 141.95 L263.17 141.76 L263.28 141.58 L263.39 141.43 L263.50 141.29 L263.60 141.17 L263.71 141.07 L263.82 140.99 L263.93 140.92 L264.04 140.87 L264.15 140.83 L264.26 140.80 L264.37 140.79" stroke-dashoffset="1.00"/>
<path d="M264.37 140.79 L264.47 140.80 L264.58 140.82 L264.69 140.85 L264.80 140.90 L264.91 140.96 L265.02 141.04 L265.13 141.13 L265.23 141.23 L265.34 141.35 L265.45 141.48 L265.56 141.63 L265.67 141.79 L265.78 141.97 L265.89 142.16 L266.00 142.37 L266.10 142.60 L266.21 142.84 L266.32 143.11 L266.43 143.39 L266.54 143.69 L266.65 144.01 L266.76 144.36 L266.87 144.73 L266.97 145.13 L267.08 145.55 L267.19 146.01 L267.30 146.49 L267.41 147.02 L267.52 147.58 L267.63 148.19 L267.74 148.86 L267.84 149.58 L267.95 150.36 L268.06 151.23 L268.17 152.20 L268.28 153.28 L268.39 154.51 L268.50 155.93 L268.61 157.61 L268.71 159.66 L268.82 162.31 L268.93 166.02 L269.04 172.35 L269.15 203.00 L269.15 203.00 L269.26 172.46 L269.36 166.24 L269.47 162.63 L269.58 160.10 L269.69 158.15 L269.79 156.58 L269.90 155.26 L270.01 154.14 L270.11 153.17 L270.22 152.31 L270.33 151.55 L270.44 150.87 L270.54 150.26 L270.65 149.71 L270.76 149.20 L270.87 148.75 L270.97 148.33 L271.08 147.95 L271.19 147.60 L271.29 147.29 L271.40 147.00 L271.51 146.74 L271.62 146.50 L271.72 146.28 L271.83 146.09 L271.94 145.91 L272.04 145.76 L272.15 145.62 L272.26 145.50 L272.37 145.40 L272.47 145.31 L272.58 145.24 L272.69 145.19 L272.79 145.15 L272.90 145.13 L273.01 145.12" stroke-dashoffset="2.36"/>
<path d="M273.01 145.12 L273.12 145.12 L273.22 145.14 L273.33 145.17 L273.44 145.22 L273.54 145.28 L273.65 145.35 L273.76 145.44 L273.87 145.55 L273.97 145.66 L274.08 145.79 L274.19 145.94 L274.30 146.10 L274.40 146.28 L274.51 146.47 L274.62 146.68 L274.72 146.91 L274.83 147.15 L274.94 147.41 L275.05 147.69 L275.15 148.00 L275.26 148.32 L275.37 148.66 L275.47 149.03 L275.58 149.43 L275.69 149.85 L275.80 150.31 L275.90 150.80 L276.01 151.32 L276.12 151.88 L276.22 152.49 L276.33 153.15 L276.44 153.87 L276.55 154.66 L276.65 155.53 L276.76 156.49 L276.87 157.57 L276.97 158.80 L277.08 160.22 L277.19 161.90 L277.30 163.95 L277.40 166.60 L277.51 170.31 L277.62 176.64 L277.73 185.00 L277.73 185.00 L277.83 176.75 L277.94 170.53 L278.05 166.92 L278.16 164.39 L278.27 162.44 L278.38 160.87 L278.49 159.56 L278.60 158.44 L278.71 157.47 L278.82 156.61 L278.93 155.85 L279.04 155.17 L279.15 154.56 L279.26 154.01 L279.37 153.51 L279.48 153.05 L279.58 152.64 L279.69 152.26 L279.80 151.91 L279.91 151.60 L280.02 151.31 L280.13 151.05 L280.24 150.81 L280.35 150.60 L280.46 150.40 L280.57 150.23 L280.68 150.07 L280.79 149.94 L280.90 149.82 L281.01 149.72 L281.12 149.64 L281.23 149.57 L281.33 149.51 L281.44 149.48 L281.55 149.45 L281.66 149.44" stroke-dashoffset="4.15"/>
<path d="M281.66 149.44 L281.77 149.45 L281.88 149.47 L281.99 149.50 L282.10 149.55 L282.21 149.61 L282.32 149.69 L282.43 149.78 L282.54 149.88 L282.65 150.00 L282.76 150.13 L282.87 150.28 L282.98 150.44 L283.08 150.62 L283.19 150.81 L283.30 151.02 L283.41 151.25 L283.52 151.50 L283.63 151.76 L283.74 152.04 L283.85 152.35 L283.96 152.67 L284.07 153.02 L284.18 153.39 L284.29 153.78 L284.40 154.21 L284.51 154.66 L284.62 155.15 L284.73 155.68 L284.83 156.24 L284.94 156.85 L285.05 157.51 L285.16 158.24 L285.27 159.02 L285.38 159.89 L285.49 160.86 L285.60 161.94 L285.71 163.17 L285.82 164.59 L285.93 166.27 L286.04 168.32 L286.15 170.97 L286.26 174.69 L286.37 181.01 L286.48 187.80 L286.48 187.80 L286.58 181.12 L286.69 174.90 L286.80 171.30 L286.91 168.76 L287.02 166.82 L287.13 165.25 L287.24 163.93 L287.35 162.81 L287.46 161.84 L287.57 160.99 L287.68 160.23 L287.79 159.55 L287.90 158.94 L288.01 158.38 L288.12 157.88 L288.23 157.43 L288.33 157.01 L288.44 156.63 L288.55 156.29 L288.66 155.97 L288.77 155.68 L288.88 155.42 L288.99 155.18 L289.10 154.97 L289.21 154.78 L289.32 154.60 L289.43 154.45 L289.54 154.31 L289.65 154.20 L289.76 154.10 L289.87 154.01 L289.98 153.94 L290.08 153.89 L290.19 153.85 L290.30 153.83 L290.41 153.82" stroke-dashoffset="2.71"/>
<path d="M290.41 153.82 L290.52 153.82 L290.63 153.84 L290.74 153.88 L290.85 153.93 L290.96 153.99 L291.07 154.06 L291.18 154.15 L291.29 154.26 L291.40 154.37 L291.51 154.51 L291.62 154.65 L291.73 154.82 L291.83 155.00 L291.94 155.19 L292.05 155.40 L292.16 155.63 L292.27 155.87 L292.38 156.13 L292.49 156.42 L292.60 156.72 L292.71 157.04 L292.82 157.39 L292.93 157.76 L293.04 158.16 L293.15 158.58 L293.26 159.04 L293.37 159.53 L293.48 160.05 L293.58 160.62 L293.69 161.23 L293.80 161.89 L293.91 162.61 L294.02 163.40 L294.13 164.27 L294.24 165.23 L294.35 166.31 L294.46 167.54 L294.57 168.96 L294.68 170.64 L294.79 172.70 L294.90 175.34 L295.01 179.06 L295.12 185.39 L295.23 198.80 L295.23 198.80 L295.33 185.50 L295.44 179.28 L295.54 175.67 L295.65 173.13 L295.75 171.18 L295.86 169.61 L295.96 168.30 L296.07 167.17 L296.18 166.20 L296.28 165.34 L296.39 164.58 L296.49 163.90 L296.60 163.29 L296.70 162.73 L296.81 162.23 L296.92 161.77 L297.02 161.35 L297.13 160.97 L297.23 160.63 L297.34 160.31 L297.44 160.02 L297.55 159.76 L297.65 159.52 L297.76 159.30 L297.87 159.10 L297.97 158.93 L298.08 158.77 L298.18 158.64 L298.29 158.52 L298.39 158.41 L298.50 158.33 L298.61 158.26 L298.71 158.20 L298.82 158.16 L298.92 158.14 L299.03 158.13" stroke-dashoffset="1.91"/>
<path d="M299.03 158.13 L299.13 158.13 L299.24 158.15 L299.34 158.18 L299.45 158.23 L299.56 158.28 L299.66 158.36 L299.77 158.45 L299.87 158.55 L299.98 158.66 L300.08 158.80 L300.19 158.96 L300.30 159.13 L300.40 159.32 L300.51 159.52 L300.61 159.74 L300.72 159.97 L300.82 160.22 L300.93 160.50 L301.03 160.79 L301.14 161.10 L301.25 161.43 L301.35 161.78 L301.46 162.16 L301.56 162.57 L301.67 163.00 L301.77 163.46 L301.88 163.96 L301.99 164.49 L302.09 165.07 L302.20 165.68 L302.30 166.35 L302.41 167.08 L302.51 167.88 L302.62 168.76 L302.72 169.73 L302.83 170.82 L302.94 172.06 L303.04 173.49 L303.15 175.17 L303.25 177.24 L303.36 179.89 L303.46 183.61 L303.57 189.95 L303.68 201.00 L303.68 201.00 L303.78 190.08 L303.89 183.87 L303.99 180.27 L304.10 177.74 L304.20 175.80 L304.31 174.24 L304.42 172.94 L304.52 171.82 L304.63 170.86 L304.73 170.01 L304.84 169.26 L304.95 168.59 L305.05 167.99 L305.16 167.44 L305.26 166.95 L305.37 166.50 L305.48 166.10 L305.58 165.72 L305.69 165.39 L305.79 165.08 L305.90 164.80 L306.01 164.55 L306.11 164.32 L306.22 164.11 L306.32 163.93 L306.43 163.76 L306.54 163.62 L306.64 163.49 L306.75 163.38 L306.85 163.29 L306.96 163.21 L307.06 163.15 L307.17 163.10 L307.28 163.07 L307.38 163.06 L307.49 163.06" stroke-dashoffset="1.09"/>
<path d="M307.49 163.06 L307.59 163.07 L307.70 163.10 L307.81 163.14 L307.91 163.20 L308.02 163.27 L308.12 163.35 L308.23 163.45 L308.34 163.56 L308.44 163.69 L308.55 163.83 L308.65 163.99 L308.76 164.16 L308.87 164.34 L308.97 164.54 L309.08 164.76 L309.18 165.00 L309.29 165.25 L309.40 165.52 L309.50 165.81 L309.61 166.12 L309.71 166.46 L309.82 166.81 L309.93 167.19 L310.03 167.60 L310.14 168.03 L310.24 168.49 L310.35 168.99 L310.45 169.52 L310.56 170.10 L310.67 170.71 L310.77 171.38 L310.88 172.11 L310.98 172.91 L311.09 173.79 L311.20 174.76 L311.30 175.85 L311.41 177.09 L311.51 178.52 L311.62 180.21 L311.73 182.27 L311.83 184.92 L311.94 188.65 L312.04 194.98 L312.15 203.50 L312.15 203.50 L312.26 195.11 L312.37 188.90 L312.47 185.30 L312.58 182.78 L312.69 180.84 L312.80 179.28 L312.91 177.98 L313.01 176.87 L313.12 175.90 L313.23 175.06 L313.34 174.31 L313.45 173.64 L313.56 173.04 L313.66 172.49 L313.77 172.00 L313.88 171.56 L313.99 171.15 L314.10 170.78 L314.20 170.44 L314.31 170.14 L314.42 169.86 L314.53 169.61 L314.64 169.38 L314.75 169.17 L314.85 168.99 L314.96 168.83 L315.07 168.68 L315.18 168.56 L315.29 168.45 L315.39 168.36 L315.50 168.28 L315.61 168.22 L315.72 168.18 L315.83 168.15 L315.93 168.14 L316.04 168.13 L316.15 168.12" stroke-dashoffset="0.93"/>
<path d="M316.15 168.12 L316.26 168.12 L316.37 168.14 L316.48 168.18 L316.58 168.22 L316.69 168.28 L316.80 168.36 L316.91 168.45 L317.02 168.55 L317.12 168.67 L317.23 168.80 L317.34 168.95 L317.45 169.11 L317.56 169.29 L317.66 169.49 L317.77 169.70 L317.88 169.93 L317.99 170.18 L318.10 170.45 L318.20 170.73 L318.31 171.04 L318.42 171.38 L318.53 171.73 L318.64 172.11 L318.75 172.52 L318.85 172.96 L318.96 173.44 L319.07 173.95 L319.18 174.50 L319.29 175.09 L319.39 175.74 L319.50 176.45 L319.61 177.22 L319.72 178.08 L319.83 179.03 L319.94 180.09 L320.04 181.31 L320.15 182.71 L320.26 184.38 L320.37 186.42 L320.48 189.05 L320.58 192.75 L320.69 199.06 L320.80 215.30 L320.80 215.30 L320.90 199.14 L321.01 192.91 L321.11 189.28 L321.22 186.73 L321.32 184.77 L321.43 183.18 L321.53 181.86 L321.64 180.72 L321.74 179.73 L321.85 178.86 L321.95 178.09 L322.06 177.39 L322.16 176.76 L322.27 176.19 L322.37 175.68 L322.48 175.21 L322.58 174.77 L322.68 174.38 L322.79 174.02 L322.89 173.69 L323.00 173.38 L323.10 173.10 L323.21 172.85 L323.31 172.62 L323.42 172.41 L323.52 172.22 L323.63 172.05 L323.73 171.90 L323.84 171.77 L323.94 171.65 L324.05 171.55 L324.15 171.46 L324.25 171.40 L324.36 171.34 L324.46 171.30 L324.57 171.28 L324.67 171.27" stroke-dashoffset="5.30"/>
<path d="M324.67 171.27 L324.78 171.27 L324.88 171.29 L324.99 171.32 L325.09 171.36 L325.20 171.42 L325.30 171.50 L325.41 171.59 L325.51 171.69 L325.62 171.81 L325.72 171.94 L325.82 172.08 L325.93 172.25 L326.03 172.42 L326.14 172.62 L326.24 172.83 L326.35 173.06 L326.45 173.30 L326.56 173.57 L326.66 173.86 L326.77 174.17 L326.87 174.50 L326.98 174.85 L327.08 175.23 L327.19 175.64 L327.29 176.08 L327.40 176.55 L327.50 177.06 L327.60 177.61 L327.71 178.21 L327.81 178.85 L327.92 179.56 L328.02 180.33 L328.13 181.18 L328.23 182.13 L328.34 183.20 L328.44 184.41 L328.55 185.81 L328.65 187.48 L328.76 189.52 L328.86 192.15 L328.97 195.85 L329.07 202.16 L329.18 212.80 L329.18 212.80 L329.28 202.23 L329.38 196.00 L329.49 192.38 L329.59 189.82 L329.69 187.86 L329.80 186.27 L329.90 184.95 L330.00 183.81 L330.11 182.82 L330.21 181.95 L330.31 181.17 L330.42 180.48 L330.52 179.85 L330.62 179.28 L330.73 178.76 L330.83 178.29 L330.93 177.86 L331.04 177.46 L331.14 177.10 L331.24 176.77 L331.35 176.47 L331.45 176.19 L331.55 175.93 L331.66 175.70 L331.76 175.49 L331.86 175.30 L331.97 175.13 L332.07 174.98 L332.17 174.85 L332.28 174.73 L332.38 174.63 L332.49 174.54 L332.59 174.47 L332.69 174.42 L332.80 174.38 L332.90 174.35 L333.00 174.34" stroke-dashoffset="2.58"/>
<path d="M333.00 174.34 L333.11 174.35 L333.21 174.36 L333.31 174.39 L333.42 174.44 L333.52 174.50 L333.62 174.58 L333.73 174.68 L333.83 174.80 L333.93 174.93 L334.04 175.08 L334.14 175.24 L334.24 175.42 L334.35 175.61 L334.45 175.82 L334.55 176.05 L334.66 176.30 L334.76 176.56 L334.86 176.84 L334.97 177.15 L335.07 177.47 L335.17 177.82 L335.28 178.19 L335.38 178.58 L335.48 179.01 L335.59 179.46 L335.69 179.95 L335.80 180.48 L335.90 181.04 L336.00 181.65 L336.11 182.32 L336.21 183.04 L336.31 183.83 L336.42 184.70 L336.52 185.66 L336.62 186.74 L336.73 187.97 L336.83 189.39 L336.93 191.07 L337.04 193.13 L337.14 195.77 L337.24 199.49 L337.35 205.82 L337.45 218.70 L337.45 218.70 L337.56 205.93 L337.66 199.71 L337.77 196.11 L337.88 193.57 L337.98 191.63 L338.09 190.06 L338.19 188.75 L338.30 187.63 L338.41 186.66 L338.51 185.81 L338.62 185.05 L338.72 184.37 L338.83 183.76 L338.94 183.21 L339.04 182.71 L339.15 182.26 L339.26 181.84 L339.36 181.47 L339.47 181.12 L339.57 180.81 L339.68 180.52 L339.79 180.26 L339.89 180.03 L340.00 179.82 L340.11 179.62 L340.21 179.45 L340.32 179.30 L340.43 179.17 L340.53 179.05 L340.64 178.95 L340.74 178.87 L340.85 178.80 L340.96 178.75 L341.06 178.71 L341.17 178.69 L341.27 178.68" stroke-dashoffset="2.75"/>
<path d="M341.27 178.68 L341.38 178.69 L341.49 178.71 L341.59 178.75 L341.70 178.80 L341.81 178.86 L341.91 178.94 L342.02 179.03 L342.12 179.13 L342.23 179.25 L342.34 179.39 L342.44 179.54 L342.55 179.70 L342.66 179.88 L342.76 180.08 L342.87 180.29 L342.97 180.52 L343.08 180.77 L343.19 181.03 L343.29 181.31 L343.40 181.62 L343.51 181.94 L343.61 182.29 L343.72 182.67 L343.82 183.06 L343.93 183.49 L344.04 183.95 L344.14 184.44 L344.25 184.96 L344.36 185.53 L344.46 186.14 L344.57 186.81 L344.68 187.53 L344.78 188.32 L344.89 189.19 L344.99 190.16 L345.10 191.24 L345.21 192.47 L345.31 193.89 L345.42 195.58 L345.52 197.63 L345.63 200.28 L345.74 204.00 L345.84 210.33 L345.95 237.00 L345.95 237.00 L346.06 210.44 L346.17 204.22 L346.28 200.62 L346.38 198.09 L346.49 196.14 L346.60 194.58 L346.71 193.27 L346.82 192.15 L346.93 191.18 L347.03 190.33 L347.14 189.57 L347.25 188.90 L347.36 188.29 L347.47 187.74 L347.58 187.24 L347.69 186.79 L347.79 186.37 L347.90 186.00 L348.01 185.65 L348.12 185.34 L348.23 185.06 L348.34 184.80 L348.44 184.56 L348.55 184.35 L348.66 184.16 L348.77 183.99 L348.88 183.84 L348.99 183.71 L349.09 183.59 L349.20 183.49 L349.31 183.41 L349.42 183.35 L349.53 183.30 L349.64 183.26 L349.75 183.24 L349.85 183.23" stroke-dashoffset="0.04"/>
<path d="M349.85 183.23 L349.96 183.24 L350.07 183.26 L350.18 183.30 L350.29 183.35 L350.40 183.41 L350.50 183.49 L350.61 183.58 L350.72 183.69 L350.83 183.81 L350.94 183.94 L351.05 184.09 L351.15 184.26 L351.26 184.43 L351.37 184.63 L351.48 184.84 L351.59 185.07 L351.70 185.32 L351.81 185.58 L351.91 185.87 L352.02 186.17 L352.13 186.50 L352.24 186.85 L352.35 187.22 L352.46 187.62 L352.56 188.04 L352.67 188.50 L352.78 188.99 L352.89 189.52 L353.00 190.08 L353.11 190.70 L353.22 191.36 L353.32 192.08 L353.43 192.87 L353.54 193.74 L353.65 194.71 L353.76 195.79 L353.87 197.02 L353.97 198.45 L354.08 200.13 L354.19 202.19 L354.30 204.83 L354.41 208.55 L354.52 214.88 L354.62 220.40 L354.62 220.40 L354.73 214.99 L354.84 208.78 L354.95 205.17 L355.06 202.64 L355.17 200.70 L355.28 199.13 L355.39 197.82 L355.50 196.70 L355.61 195.73 L355.72 194.88 L355.83 194.12 L355.94 193.44 L356.05 192.83 L356.16 192.28 L356.27 191.78 L356.38 191.33 L356.48 190.92 L356.59 190.54 L356.70 190.20 L356.81 189.88 L356.92 189.60 L357.03 189.34 L357.14 189.10 L357.25 188.89 L357.36 188.70 L357.47 188.53 L357.58 188.38 L357.69 188.24 L357.80 188.13 L357.91 188.03 L358.02 187.95 L358.12 187.88 L358.23 187.83 L358.34 187.79 L358.45 187.77 L358.56 187.76" stroke-dashoffset="1.37"/>
<path d="M358.56 187.76 L358.67 187.77 L358.78 187.79 L358.89 187.83 L359.00 187.88 L359.11 187.94 L359.22 188.02 L359.33 188.11 L359.44 188.22 L359.55 188.34 L359.66 188.48 L359.77 188.62 L359.88 188.79 L359.98 188.97 L360.09 189.17 L360.20 189.38 L360.31 189.61 L360.42 189.86 L360.53 190.12 L360.64 190.41 L360.75 190.71 L360.86 191.04 L360.97 191.39 L361.08 191.76 L361.19 192.16 L361.30 192.58 L361.41 193.04 L361.52 193.53 L361.62 194.06 L361.73 194.63 L361.84 195.24 L361.95 195.90 L362.06 196.63 L362.17 197.42 L362.28 198.29 L362.39 199.25 L362.50 200.34 L362.61 201.57 L362.72 202.99 L362.83 204.68 L362.94 206.73 L363.05 209.38 L363.16 213.10 L363.27 219.43 L363.38 222.00 L363.38 222.00 L363.48 219.54 L363.59 213.32 L363.70 209.72 L363.81 207.19 L363.91 205.24 L364.02 203.67 L364.13 202.36 L364.24 201.24 L364.35 200.27 L364.45 199.42 L364.56 198.66 L364.67 197.98 L364.78 197.37 L364.88 196.82 L364.99 196.32 L365.10 195.87 L365.21 195.46 L365.32 195.09 L365.42 194.75 L365.53 194.44 L365.64 194.16 L365.75 193.91 L365.85 193.67 L365.96 193.47 L366.07 193.28 L366.18 193.11 L366.29 192.97 L366.39 192.84 L366.50 192.73 L366.61 192.63 L366.72 192.55 L366.82 192.49 L366.93 192.44 L367.04 192.41 L367.15 192.40 L367.26 192.39" stroke-dashoffset="1.21"/>
<path d="M367.26 192.39 L367.36 192.41 L367.47 192.43 L367.58 192.47 L367.69 192.53 L367.80 192.60 L367.90 192.68 L368.01 192.77 L368.12 192.88 L368.23 193.01 L368.33 193.15 L368.44 193.30 L368.55 193.47 L368.66 193.66 L368.77 193.86 L368.87 194.07 L368.98 194.31 L369.09 194.56 L369.20 194.83 L369.30 195.12 L369.41 195.43 L369.52 195.76 L369.63 196.11 L369.74 196.49 L369.84 196.89 L369.95 197.32 L370.06 197.78 L370.17 198.28 L370.27 198.81 L370.38 199.38 L370.49 200.00 L370.60 200.67 L370.71 201.40 L370.81 202.19 L370.92 203.07 L371.03 204.04 L371.14 205.13 L371.25 206.36 L371.35 207.79 L371.46 209.48 L371.57 211.54 L371.68 214.19 L371.78 217.91 L371.89 224.25 L372.00 230.70 L372.00 230.70 L372.11 224.37 L372.21 218.16 L372.32 214.55 L372.43 212.02 L372.53 210.08 L372.64 208.52 L372.74 207.21 L372.85 206.10 L372.96 205.13 L373.06 204.28 L373.17 203.53 L373.27 202.86 L373.38 202.25 L373.49 201.70 L373.59 201.21 L373.70 200.76 L373.81 200.35 L373.91 199.97 L374.02 199.63 L374.12 199.32 L374.23 199.04 L374.34 198.79 L374.44 198.56 L374.55 198.35 L374.66 198.16 L374.76 197.99 L374.87 197.84 L374.98 197.71 L375.08 197.60 L375.19 197.51 L375.29 197.43 L375.40 197.36 L375.51 197.32 L375.61 197.28 L375.72 197.27 L375.82 197.26" stroke-dashoffset="5.51"/>
<path d="M375.82 197.26 L375.93 197.27 L376.04 197.30 L376.14 197.34 L376.25 197.39 L376.36 197.46 L376.46 197.54 L376.57 197.64 L376.68 197.75 L376.78 197.87 L376.89 198.01 L376.99 198.16 L377.10 198.33 L377.21 198.51 L377.31 198.71 L377.42 198.93 L377.52 199.16 L377.63 199.41 L377.74 199.68 L377.84 199.97 L377.95 200.28 L378.06 200.61 L378.16 200.96 L378.27 201.34 L378.38 201.74 L378.48 202.17 L378.59 202.63 L378.69 203.12 L378.80 203.66 L378.91 204.23 L379.01 204.84 L379.12 205.51 L379.23 206.24 L379.33 207.03 L379.44 207.91 L379.54 208.88 L379.65 209.96 L379.76 211.20 L379.86 212.62 L379.97 214.31 L380.07 216.37 L380.18 219.02 L380.29 222.74 L380.39 229.08 L380.50 230.70 L380.50 230.70 L380.61 229.20 L380.71 222.99 L380.82 219.38 L380.93 216.85 L381.03 214.91 L381.14 213.35 L381.24 212.04 L381.35 210.93 L381.46 209.96 L381.56 209.11 L381.67 208.36 L381.77 207.69 L381.88 207.08 L381.99 206.53 L382.09 206.04 L382.20 205.59 L382.31 205.18 L382.41 204.80 L382.52 204.46 L382.62 204.15 L382.73 203.87 L382.84 203.62 L382.94 203.39 L383.05 203.18 L383.16 203.00 L383.26 202.83 L383.37 202.69 L383.48 202.56 L383.58 202.45 L383.69 202.35 L383.79 202.28 L383.90 202.22 L384.01 202.17 L384.11 202.14 L384.22 202.12 L384.32 202.12" stroke-dashoffset="5.03"/>
<path d="M384.32 202.12 L384.43 202.13 L384.54 202.16 L384.64 202.20 L384.75 202.26 L384.86 202.33 L384.96 202.41 L385.07 202.51 L385.18 202.62 L385.28 202.74 L385.39 202.88 L385.49 203.04 L385.60 203.21 L385.71 203.40 L385.81 203.60 L385.92 203.81 L386.02 204.05 L386.13 204.30 L386.24 204.57 L386.34 204.86 L386.45 205.17 L386.56 205.50 L386.66 205.86 L386.77 206.24 L386.88 206.64 L386.98 207.07 L387.09 207.54 L387.19 208.03 L387.30 208.56 L387.41 209.14 L387.51 209.76 L387.62 210.42 L387.73 211.15 L387.83 211.95 L387.94 212.82 L388.04 213.80 L388.15 214.89 L388.26 216.12 L388.36 217.55 L388.47 219.24 L388.57 221.30 L388.68 223.95 L388.79 227.68 L388.89 234.01 L389.00 237.00 L389.00 237.00 L389.11 234.14 L389.21 227.93 L389.32 224.33 L389.43 221.80 L389.53 219.86 L389.64 218.30 L389.74 216.99 L389.85 215.88 L389.96 214.92 L390.06 214.07 L390.17 213.32 L390.27 212.64 L390.38 212.04 L390.49 211.50 L390.59 211.00 L390.70 210.55 L390.81 210.15 L390.91 209.77 L391.02 209.44 L391.12 209.13 L391.23 208.85 L391.34 208.59 L391.44 208.36" stroke-dashoffset="0.84"/>
</g>
<path d="M21.4 141.5 L21.4 36" stroke="#ff00ff" stroke-width="1.5" stroke-dasharray="3.3 2.5"/>
<path d="M21.4 137 L21.4 32.5" stroke="#996633" stroke-width="2.0" stroke-dasharray="6.8 2.45" stroke-dashoffset="8.45"/>
<g stroke="#996633" stroke-width="2.0" stroke-dasharray="7.05 2.2">
<path d="M21.30 45.10 L21.38 46.33 L21.46 47.70 L21.53 49.26 L21.61 51.05 L21.69 53.13 L22.15 55.00 L22.15 55.00 L22.62 52.73 L22.70 50.58 L22.78 48.73 L22.86 47.10 L22.94 45.66 L23.02 44.37 L23.09 43.20 L23.17 42.14 L23.25 41.16 L23.33 40.27 L23.41 39.45 L23.49 38.69 L23.57 37.98 L23.65 37.33 L23.72 36.73 L23.80 36.16 L23.88 35.64 L23.96 35.16 L24.04 34.71 L24.12 34.29 L24.20 33.91 L24.28 33.55 L24.36 33.22 L24.43 32.93 L24.51 32.65 L24.59 32.40 L24.67 32.18 L24.75 31.98 L24.83 31.81 L24.91 31.65 L24.98 31.52 L25.06 31.41 L25.14 31.34 L25.22 31.31 L25.30 31.30" stroke-dashoffset="5.55"/>
<path d="M25.30 31.30 L25.38 31.31 L25.46 31.34 L25.54 31.39 L25.61 31.46 L25.69 31.56 L25.77 31.68 L25.85 31.82 L25.93 31.99 L26.01 32.18 L26.09 32.39 L26.17 32.63 L26.24 32.89 L26.32 33.19 L26.40 33.51 L26.48 33.86 L26.56 34.24 L26.64 34.65 L26.72 35.10 L26.80 35.59 L26.88 36.11 L26.95 36.68 L27.03 37.30 L27.11 37.96 L27.19 38.69 L27.27 39.47 L27.35 40.33 L27.43 41.26 L27.50 42.29 L27.58 43.42 L27.66 44.67 L27.74 46.07 L27.82 47.65 L27.90 49.46 L27.98 51.56 L28.06 54.06 L28.13 57.14 L28.21 61.13 L28.29 66.77 L28.45 71.30 L28.45 71.30 L28.62 66.75 L28.70 61.11 L28.79 57.12 L28.87 54.03 L28.95 51.53 L29.04 49.42 L29.12 47.61 L29.20 46.03 L29.29 44.62 L29.37 43.37 L29.46 42.23 L29.54 41.21 L29.62 40.27 L29.71 39.41 L29.79 38.63 L29.87 37.90 L29.96 37.23 L30.04 36.61 L30.12 36.04 L30.21 35.51 L30.29 35.03 L30.38 34.57 L30.46 34.16 L30.54 33.78 L30.63 33.42 L30.71 33.10 L30.80 32.81 L30.88 32.53 L30.96 32.27 L31.05 32.04 L31.13 31.84 L31.21 31.66 L31.30 31.50 L31.38 31.37 L31.47 31.25 L31.55 31.16 L31.63 31.09 L31.72 31.05 L31.80 31.02 L31.88 31.01" stroke-dashoffset="5.22"/>
<path d="M31.88 31.01 L31.97 31.03 L32.05 31.07 L32.14 31.13 L32.22 31.21 L32.30 31.32 L32.39 31.45 L32.47 31.60 L32.55 31.77 L32.64 31.97 L32.72 32.19 L32.81 32.44 L32.89 32.72 L32.97 33.02 L33.06 33.36 L33.14 33.72 L33.22 34.12 L33.31 34.55 L33.39 35.02 L33.48 35.53 L33.56 36.09 L33.64 36.68 L33.73 37.33 L33.81 38.04 L33.89 38.81 L33.98 39.64 L34.06 40.56 L34.15 41.56 L34.23 42.67 L34.31 43.90 L34.40 45.28 L34.48 46.84 L34.56 48.63 L34.65 50.70 L34.73 53.18 L34.82 56.23 L34.90 60.18 L35.15 62.50 L35.15 62.50 L35.41 60.07 L35.49 56.09 L35.58 53.01 L35.67 50.50 L35.75 48.39 L35.84 46.58 L35.92 44.99 L36.01 43.58 L36.10 42.32 L36.18 41.18 L36.27 40.14 L36.35 39.20 L36.44 38.33 L36.53 37.53 L36.61 36.80 L36.70 36.12 L36.78 35.49 L36.87 34.91 L36.95 34.37 L37.04 33.87 L37.13 33.40 L37.21 32.98 L37.30 32.58 L37.38 32.22 L37.47 31.88 L37.56 31.58 L37.64 31.30 L37.73 31.04 L37.81 30.82 L37.90 30.61 L37.99 30.43 L38.07 30.27 L38.16 30.14 L38.24 30.03 L38.33 29.94 L38.42 29.87 L38.50 29.82 L38.59 29.79 L38.67 29.79" stroke-dashoffset="2.38"/>
<path d="M38.67 29.79 L38.76 29.80 L38.85 29.84 L38.93 29.90 L39.02 29.98 L39.10 30.09 L39.19 30.26 L39.27 30.46 L39.36 30.68 L39.45 30.92 L39.53 31.19 L39.62 31.48 L39.70 31.80 L39.79 32.15 L39.88 32.53 L39.96 32.94 L40.05 33.38 L40.13 33.86 L40.22 34.37 L40.31 34.92 L40.39 35.52 L40.48 36.16 L40.56 36.85 L40.65 37.60 L40.74 38.41 L40.82 39.28 L40.91 40.24 L40.99 41.29 L41.08 42.43 L41.17 43.71 L41.25 45.12 L41.34 46.72 L41.42 48.54 L41.51 50.65 L41.60 53.15 L41.68 56.23 L41.77 60.21 L41.85 65.81 L41.94 75.39 L42.02 91.90 L42.02 91.90 L42.11 75.45 L42.19 65.92 L42.28 60.38 L42.36 56.46 L42.45 53.44 L42.53 51.00 L42.61 48.95 L42.70 47.19 L42.78 45.65 L42.87 44.30 L42.95 43.09 L43.03 42.00 L43.12 41.02 L43.20 40.12 L43.29 39.31 L43.37 38.56 L43.45 37.87 L43.54 37.24 L43.62 36.66 L43.71 36.13 L43.79 35.64 L43.87 35.19 L43.96 34.78 L44.04 34.40 L44.13 34.05 L44.21 33.73 L44.29 33.45 L44.38 33.19 L44.46 32.95 L44.55 32.75 L44.63 32.57 L44.71 32.41 L44.80 32.27 L44.88 32.16 L44.97 32.08 L45.05 32.01 L45.14 31.96 L45.22 31.94 L45.30 31.94" stroke-dashoffset="3.33"/>
<path d="M45.30 31.94 L45.39 31.96 L45.47 32.00 L45.56 32.06 L45.64 32.13 L45.72 32.23 L45.81 32.35 L45.89 32.50 L45.98 32.66 L46.06 32.85 L46.14 33.06 L46.23 33.29 L46.31 33.55 L46.40 33.84 L46.48 34.15 L46.56 34.49 L46.65 34.86 L46.73 35.26 L46.82 35.69 L46.90 36.16 L46.98 36.66 L47.07 37.20 L47.15 37.79 L47.24 38.42 L47.32 39.10 L47.41 39.83 L47.49 40.63 L47.57 41.50 L47.66 42.44 L47.74 43.47 L47.83 44.61 L47.91 45.86 L47.99 47.27 L48.08 48.84 L48.16 50.65 L48.25 52.74 L48.33 55.22 L48.41 58.28 L48.50 62.22 L48.75 66.80 L48.75 66.80 L48.99 62.35 L49.06 58.45 L49.14 55.44 L49.22 53.00 L49.30 50.95 L49.38 49.19 L49.46 47.66 L49.53 46.30 L49.61 45.09 L49.69 44.00 L49.77 43.02 L49.85 42.12 L49.93 41.30 L50.01 40.55 L50.08 39.86 L50.16 39.22 L50.24 38.64 L50.32 38.10 L50.40 37.61 L50.48 37.15 L50.55 36.73 L50.63 36.34 L50.71 35.99 L50.79 35.67 L50.87 35.37 L50.95 35.11 L51.02 34.87 L51.10 34.66 L51.18 34.47 L51.26 34.30 L51.34 34.15 L51.42 34.03 L51.50 33.93 L51.57 33.85 L51.65 33.79 L51.73 33.76 L51.81 33.74" stroke-dashoffset="0.71"/>
<path d="M51.81 33.74 L51.89 33.75 L51.97 33.77 L52.04 33.82 L52.12 33.89 L52.20 33.98 L52.28 34.10 L52.36 34.23 L52.44 34.39 L52.52 34.57 L52.59 34.77 L52.67 35.00 L52.75 35.25 L52.83 35.53 L52.91 35.83 L52.99 36.16 L53.06 36.52 L53.14 36.91 L53.22 37.34 L53.30 37.79 L53.38 38.29 L53.46 38.82 L53.53 39.39 L53.61 40.01 L53.69 40.68 L53.77 41.41 L53.85 42.20 L53.93 43.05 L54.01 43.98 L54.08 45.00 L54.16 46.13 L54.24 47.37 L54.32 48.76 L54.40 50.32 L54.48 52.11 L54.55 54.18 L54.63 56.65 L54.71 59.68 L54.79 63.59 L54.87 69.12 L55.03 72.00 L55.03 72.00 L55.17 69.18 L55.25 63.68 L55.32 59.79 L55.40 56.80 L55.47 54.36 L55.55 52.32 L55.62 50.57 L55.69 49.03 L55.77 47.68 L55.84 46.47 L55.92 45.38 L55.99 44.39 L56.07 43.49 L56.14 42.67 L56.22 41.92 L56.29 41.23 L56.36 40.59 L56.44 40.00 L56.51 39.46 L56.59 38.96 L56.66 38.50 L56.74 38.08 L56.81 37.69 L56.88 37.33 L56.96 37.01 L57.03 36.71 L57.11 36.44 L57.18 36.19 L57.26 35.98 L57.33 35.78 L57.41 35.61 L57.48 35.47 L57.55 35.34 L57.63 35.24 L57.70 35.16 L57.78 35.10 L57.85 35.07 L57.93 35.05" stroke-dashoffset="1.32"/>
<path d="M57.93 35.05 L58.00 35.06 L58.07 35.08 L58.15 35.13 L58.22 35.20 L58.30 35.30 L58.37 35.42 L58.45 35.56 L58.52 35.73 L58.60 35.91 L58.67 36.12 L58.74 36.36 L58.82 36.61 L58.89 36.90 L58.97 37.21 L59.04 37.54 L59.12 37.91 L59.19 38.31 L59.26 38.73 L59.34 39.20 L59.41 39.70 L59.49 40.23 L59.56 40.81 L59.64 41.44 L59.71 42.11 L59.79 42.84 L59.86 43.63 L59.93 44.49 L60.01 45.42 L60.08 46.44 L60.16 47.57 L60.23 48.81 L60.31 50.19 L60.38 51.75 L60.45 53.53 L60.53 55.60 L60.60 58.05 L60.68 61.06 L60.75 64.96 L60.83 70.45 L60.90 79.85 L60.98 85.90 L60.98 85.90 L61.05 79.87 L61.12 70.52 L61.20 65.06 L61.27 61.21 L61.35 58.24 L61.43 55.83 L61.50 53.81 L61.58 52.08 L61.65 50.57 L61.73 49.23 L61.80 48.04 L61.88 46.97 L61.95 46.00 L62.02 45.11 L62.10 44.31 L62.17 43.57 L62.25 42.89 L62.33 42.27 L62.40 41.70 L62.48 41.17 L62.55 40.69 L62.62 40.24 L62.70 39.83 L62.77 39.45 L62.85 39.11 L62.92 38.79 L63.00 38.51 L63.07 38.25 L63.15 38.02 L63.23 37.81 L63.30 37.63 L63.38 37.47 L63.45 37.33 L63.52 37.22 L63.60 37.13 L63.67 37.06 L63.75 37.01 L63.82 36.98 L63.90 36.98" stroke-dashoffset="4.98"/>
<path d="M63.90 36.98 L63.97 36.99 L64.05 37.03 L64.12 37.09 L64.20 37.18 L64.27 37.28 L64.35 37.40 L64.42 37.55 L64.50 37.72 L64.58 37.91 L64.65 38.12 L64.72 38.36 L64.80 38.62 L64.88 38.90 L64.95 39.21 L65.02 39.55 L65.10 39.92 L65.17 40.32 L65.25 40.74 L65.33 41.20 L65.40 41.70 L65.47 42.23 L65.55 42.81 L65.62 43.43 L65.70 44.09 L65.77 44.81 L65.85 45.59 L65.92 46.44 L66.00 47.36 L66.07 48.37 L66.15 49.48 L66.22 50.70 L66.30 52.06 L66.38 53.60 L66.45 55.35 L66.52 57.38 L66.60 59.79 L66.67 62.75 L66.75 66.57 L66.82 71.97 L66.90 81.18 L66.97 85.90 L66.97 85.90 L67.05 81.22 L67.13 72.06 L67.20 66.72 L67.28 62.95 L67.35 60.05 L67.43 57.69 L67.50 55.72 L67.58 54.03 L67.65 52.56 L67.73 51.26 L67.80 50.09 L67.88 49.05 L67.95 48.11 L68.03 47.25 L68.10 46.47 L68.18 45.75 L68.26 45.09 L68.33 44.49 L68.41 43.94 L68.48 43.43 L68.56 42.96 L68.63 42.53 L68.71 42.13 L68.78 41.77 L68.86 41.44 L68.93 41.14 L69.01 40.86 L69.08 40.62 L69.16 40.40 L69.23 40.20 L69.31 40.03 L69.38 39.88 L69.46 39.76 L69.54 39.65 L69.61 39.57 L69.69 39.51 L69.76 39.47 L69.84 39.45" stroke-dashoffset="2.89"/>
<path d="M69.84 39.45 L69.91 39.45 L69.99 39.47 L70.06 39.51 L70.14 39.57 L70.21 39.66 L70.29 39.76 L70.36 39.89 L70.44 40.04 L70.51 40.21 L70.59 40.41 L70.67 40.62 L70.74 40.86 L70.82 41.13 L70.89 41.41 L70.97 41.73 L71.04 42.07 L71.12 42.43 L71.19 42.83 L71.27 43.26 L71.34 43.72 L71.42 44.21 L71.49 44.74 L71.57 45.31 L71.64 45.93 L71.72 46.59 L71.80 47.30 L71.87 48.08 L71.95 48.91 L72.02 49.82 L72.10 50.82 L72.17 51.91 L72.25 53.12 L72.32 54.46 L72.40 55.97 L72.47 57.70 L72.55 59.70 L72.62 62.07 L72.70 64.97 L72.77 68.72 L72.85 74.01 L72.92 83.05 L73.00 107.20 L73.00 107.20 L73.08 83.10 L73.15 74.13 L73.22 68.91 L73.30 65.23 L73.38 62.40 L73.45 60.10 L73.53 58.18 L73.60 56.53 L73.67 55.09 L73.75 53.82 L73.83 52.69 L73.90 51.68 L73.97 50.76 L74.05 49.93 L74.12 49.17 L74.20 48.48 L74.28 47.84 L74.35 47.26 L74.42 46.73 L74.50 46.24 L74.58 45.78 L74.65 45.37 L74.72 44.99 L74.80 44.65 L74.88 44.33 L74.95 44.04 L75.03 43.78 L75.10 43.55 L75.17 43.34 L75.25 43.16 L75.33 43.00 L75.40 42.86 L75.47 42.75 L75.55 42.65 L75.62 42.58 L75.70 42.53 L75.78 42.50 L75.85 42.49" stroke-dashoffset="1.85"/>
<path d="M75.85 42.49 L75.92 42.49 L76.00 42.52 L76.08 42.57 L76.15 42.64 L76.22 42.73 L76.30 42.84 L76.38 42.96 L76.45 43.11 L76.53 43.28 L76.60 43.47 L76.67 43.69 L76.75 43.92 L76.83 44.18 L76.90 44.46 L76.97 44.77 L77.05 45.10 L77.12 45.46 L77.20 45.85 L77.28 46.27 L77.35 46.72 L77.42 47.21 L77.50 47.73 L77.58 48.29 L77.65 48.89 L77.72 49.54 L77.80 50.24 L77.88 51.00 L77.95 51.82 L78.03 52.71 L78.10 53.68 L78.17 54.75 L78.25 55.94 L78.33 57.25 L78.40 58.73 L78.47 60.42 L78.55 62.38 L78.62 64.70 L78.70 67.55 L78.78 71.22 L78.85 76.40 L79.00 85.00 L79.00 85.00 L79.15 76.52 L79.23 71.41 L79.30 67.80 L79.38 65.03 L79.45 62.78 L79.53 60.90 L79.61 59.29 L79.68 57.88 L79.76 56.64 L79.83 55.54 L79.91 54.55 L79.98 53.65 L80.06 52.84 L80.13 52.09 L80.21 51.42 L80.29 50.80 L80.36 50.23 L80.44 49.70 L80.51 49.22 L80.59 48.78 L80.66 48.38 L80.74 48.01 L80.81 47.67 L80.89 47.36 L80.97 47.08 L81.04 46.83 L81.12 46.61 L81.19 46.40 L81.27 46.22 L81.34 46.07 L81.42 45.94 L81.50 45.82 L81.57 45.73 L81.65 45.66 L81.72 45.61 L81.80 45.58 L81.87 45.57" stroke-dashoffset="5.24"/>
<path d="M81.87 45.57 L81.95 45.58 L82.03 45.61 L82.10 45.65 L82.18 45.71 L82.25 45.79 L82.33 45.89 L82.40 46.01 L82.48 46.15 L82.55 46.31 L82.63 46.49 L82.71 46.69 L82.78 46.92 L82.86 47.17 L82.93 47.44 L83.01 47.73 L83.08 48.05 L83.16 48.40 L83.23 48.77 L83.31 49.17 L83.39 49.61 L83.46 50.08 L83.54 50.58 L83.61 51.12 L83.69 51.70 L83.76 52.33 L83.84 53.01 L83.92 53.75 L83.99 54.54 L84.07 55.41 L84.14 56.36 L84.22 57.40 L84.29 58.55 L84.37 59.83 L84.44 61.27 L84.52 62.92 L84.60 64.83 L84.67 67.09 L84.75 69.87 L84.82 73.46 L84.90 78.52 L85.05 80.00 L85.05 80.00 L85.20 78.61 L85.27 73.60 L85.35 70.07 L85.42 67.35 L85.50 65.14 L85.58 63.29 L85.65 61.71 L85.72 60.33 L85.80 59.11 L85.88 58.02 L85.95 57.04 L86.02 56.16 L86.10 55.36 L86.17 54.62 L86.25 53.95 L86.33 53.34 L86.40 52.78 L86.47 52.26 L86.55 51.78 L86.62 51.35 L86.70 50.94 L86.77 50.57 L86.85 50.24 L86.92 49.93 L87.00 49.65 L87.08 49.39 L87.15 49.17 L87.22 48.96 L87.30 48.78 L87.38 48.62 L87.45 48.48 L87.52 48.37 L87.60 48.27 L87.67 48.20 L87.75 48.14 L87.83 48.11 L87.90 48.09" stroke-dashoffset="0.57"/>
<path d="M87.90 48.09 L87.97 48.09 L88.05 48.11 L88.12 48.15 L88.20 48.21 L88.27 48.29 L88.35 48.39 L88.42 48.51 L88.50 48.64 L88.58 48.80 L88.65 48.98 L88.72 49.18 L88.80 49.40 L88.88 49.64 L88.95 49.90 L89.02 50.19 L89.10 50.51 L89.17 50.84 L89.25 51.21 L89.33 51.61 L89.40 52.03 L89.47 52.49 L89.55 52.98 L89.62 53.51 L89.70 54.08 L89.77 54.70 L89.85 55.36 L89.92 56.08 L90.00 56.86 L90.08 57.71 L90.15 58.64 L90.22 59.66 L90.30 60.78 L90.38 62.04 L90.45 63.45 L90.52 65.06 L90.60 66.93 L90.67 69.14 L90.75 71.86 L90.83 75.37 L90.90 80.32 L91.05 81.17 L91.05 81.17 L91.19 80.41 L91.27 75.51 L91.34 72.05 L91.41 69.39 L91.48 67.23 L91.55 65.42 L91.62 63.87 L91.70 62.52 L91.77 61.33 L91.84 60.26 L91.91 59.31 L91.98 58.44 L92.06 57.66 L92.13 56.94 L92.20 56.28 L92.27 55.68 L92.34 55.13 L92.42 54.62 L92.49 54.16 L92.56 53.73 L92.63 53.33 L92.70 52.97 L92.77 52.64 L92.85 52.34 L92.92 52.06 L92.99 51.82 L93.06 51.59 L93.13 51.39 L93.21 51.21 L93.28 51.06 L93.35 50.92 L93.42 50.81 L93.49 50.71 L93.57 50.64 L93.64 50.58 L93.71 50.55 L93.78 50.53" stroke-dashoffset="1.87"/>
<path d="M93.78 50.53 L93.85 50.53 L93.92 50.55 L94.00 50.59 L94.07 50.65 L94.14 50.73 L94.21 50.82 L94.28 50.94 L94.36 51.07 L94.43 51.22 L94.50 51.40 L94.57 51.59 L94.64 51.80 L94.72 52.04 L94.79 52.30 L94.86 52.58 L94.93 52.89 L95.00 53.22 L95.08 53.57 L95.15 53.96 L95.22 54.38 L95.29 54.82 L95.36 55.31 L95.43 55.82 L95.51 56.38 L95.58 56.98 L95.65 57.63 L95.72 58.34 L95.79 59.10 L95.87 59.93 L95.94 60.84 L96.01 61.83 L96.08 62.93 L96.15 64.16 L96.22 65.54 L96.30 67.12 L96.37 68.94 L96.44 71.11 L96.51 73.77 L96.58 77.21 L96.66 82.05 L96.73 90.33 L96.80 97.94 L96.80 97.94 L96.87 90.37 L96.95 82.14 L97.02 77.35 L97.09 73.96 L97.16 71.36 L97.24 69.25 L97.31 67.48 L97.38 65.96 L97.46 64.64 L97.53 63.47 L97.60 62.43 L97.67 61.50 L97.75 60.65 L97.82 59.88 L97.89 59.18 L97.97 58.54 L98.04 57.96 L98.11 57.42 L98.18 56.92 L98.26 56.47 L98.33 56.05 L98.40 55.66 L98.47 55.31 L98.55 54.99 L98.62 54.69 L98.69 54.43 L98.77 54.18 L98.84 53.96 L98.91 53.77 L98.98 53.60 L99.06 53.44 L99.13 53.31 L99.20 53.20 L99.28 53.11 L99.35 53.04 L99.42 52.99 L99.49 52.95 L99.57 52.94" stroke-dashoffset="3.53"/>
<path d="M99.57 52.94 L99.64 52.94 L99.71 52.96 L99.79 53.00 L99.86 53.06 L99.93 53.14 L100.00 53.23 L100.08 53.34 L100.15 53.48 L100.22 53.63 L100.30 53.80 L100.37 53.99 L100.44 54.20 L100.51 54.43 L100.59 54.68 L100.66 54.96 L100.73 55.26 L100.80 55.59 L100.88 55.94 L100.95 56.32 L101.02 56.72 L101.10 57.16 L101.17 57.63 L101.24 58.14 L101.31 58.69 L101.39 59.28 L101.46 59.91 L101.53 60.60 L101.61 61.35 L101.68 62.16 L101.75 63.05 L101.82 64.03 L101.90 65.10 L101.97 66.30 L102.04 67.66 L102.12 69.20 L102.19 70.98 L102.26 73.11 L102.33 75.71 L102.41 79.07 L102.48 83.81 L102.55 91.90 L102.62 97.70 L102.62 97.70 L102.70 91.94 L102.78 83.90 L102.86 79.21 L102.93 75.91 L103.01 73.36 L103.09 71.30 L103.17 69.57 L103.24 68.09 L103.32 66.80 L103.40 65.66 L103.47 64.65 L103.55 63.74 L103.63 62.91 L103.71 62.16 L103.78 61.48 L103.86 60.86 L103.94 60.29 L104.01 59.76 L104.09 59.28 L104.17 58.84 L104.25 58.43 L104.32 58.06 L104.40 57.71 L104.48 57.40 L104.55 57.12 L104.63 56.86 L104.71 56.62 L104.79 56.41 L104.86 56.22 L104.94 56.06 L105.02 55.91 L105.09 55.79 L105.17 55.68 L105.25 55.59 L105.33 55.53 L105.40 55.48 L105.48 55.45 L105.56 55.43" stroke-dashoffset="2.89"/>
<path d="M105.56 55.43 L105.64 55.44 L105.71 55.46 L105.79 55.50 L105.87 55.56 L105.94 55.64 L106.02 55.73 L106.10 55.85 L106.18 55.98 L106.25 56.13 L106.33 56.30 L106.41 56.49 L106.48 56.69 L106.56 56.92 L106.64 57.17 L106.72 57.45 L106.79 57.74 L106.87 58.06 L106.95 58.41 L107.02 58.78 L107.10 59.20 L107.18 59.65 L107.26 60.13 L107.33 60.64 L107.41 61.20 L107.49 61.79 L107.57 62.43 L107.64 63.12 L107.72 63.87 L107.80 64.68 L107.87 65.57 L107.95 66.54 L108.03 67.61 L108.11 68.80 L108.18 70.14 L108.26 71.66 L108.34 73.42 L108.41 75.51 L108.49 78.07 L108.57 81.37 L108.65 86.01 L108.72 93.93 L108.80 101.50 L108.80 101.50 L108.88 94.01 L108.96 86.17 L109.04 81.62 L109.11 78.41 L109.19 75.94 L109.27 73.95 L109.35 72.28 L109.43 70.86 L109.51 69.61 L109.58 68.52 L109.66 67.55 L109.74 66.67 L109.82 65.89 L109.90 65.18 L109.98 64.53 L110.06 63.94 L110.13 63.40 L110.21 62.90 L110.29 62.45 L110.37 62.04 L110.45 61.66 L110.53 61.31 L110.60 61.00 L110.68 60.71 L110.76 60.45 L110.84 60.21 L110.92 60.00 L111.00 59.81 L111.07 59.65 L111.15 59.50 L111.23 59.38 L111.31 59.27 L111.39 59.19 L111.47 59.12 L111.55 59.08 L111.62 59.05 L111.70 59.03" stroke-dashoffset="0.36"/>
<path d="M111.70 59.03 L111.78 59.04 L111.86 59.06 L111.94 59.10 L112.02 59.16 L112.09 59.24 L112.17 59.33 L112.25 59.44 L112.33 59.57 L112.41 59.71 L112.49 59.88 L112.57 60.06 L112.64 60.26 L112.72 60.48 L112.80 60.72 L112.88 60.99 L112.96 61.27 L113.04 61.58 L113.11 61.91 L113.19 62.26 L113.27 62.64 L113.35 63.05 L113.43 63.49 L113.51 63.96 L113.58 64.46 L113.66 65.00 L113.74 65.59 L113.82 66.21 L113.90 66.89 L113.98 67.62 L114.06 68.41 L114.13 69.28 L114.21 70.23 L114.29 71.27 L114.37 72.44 L114.45 73.74 L114.53 75.23 L114.60 76.95 L114.68 78.99 L114.76 81.49 L114.84 84.70 L114.92 89.23 L115.00 96.96 L115.08 106.50 L115.08 106.50 L115.15 97.03 L115.23 89.39 L115.30 84.95 L115.38 81.82 L115.46 79.42 L115.53 77.47 L115.61 75.85 L115.69 74.46 L115.76 73.24 L115.84 72.18 L115.91 71.23 L115.99 70.38 L116.07 69.61 L116.14 68.92 L116.22 68.29 L116.30 67.71 L116.37 67.18 L116.45 66.70 L116.52 66.26 L116.60 65.86 L116.68 65.49 L116.75 65.15 L116.83 64.84 L116.91 64.56 L116.98 64.31 L117.06 64.08 L117.13 63.87 L117.21 63.69 L117.29 63.52 L117.36 63.38 L117.44 63.26 L117.52 63.16 L117.59 63.07 L117.67 63.00 L117.74 62.95 L117.82 62.92 L117.90 62.90" stroke-dashoffset="2.20"/>
<path d="M117.90 62.90 L117.97 62.90 L118.05 62.92 L118.12 62.96 L118.20 63.01 L118.28 63.08 L118.35 63.16 L118.43 63.27 L118.51 63.39 L118.58 63.52 L118.66 63.68 L118.73 63.85 L118.81 64.05 L118.89 64.26 L118.96 64.49 L119.04 64.74 L119.12 65.01 L119.19 65.31 L119.27 65.62 L119.34 65.96 L119.42 66.33 L119.50 66.73 L119.57 67.15 L119.65 67.60 L119.73 68.09 L119.80 68.61 L119.88 69.17 L119.95 69.78 L120.03 70.44 L120.11 71.14 L120.18 71.91 L120.26 72.75 L120.34 73.68 L120.41 74.69 L120.49 75.82 L120.56 77.10 L120.64 78.54 L120.72 80.22 L120.79 82.20 L120.87 84.64 L120.95 87.78 L121.02 92.19 L121.10 99.73 L121.17 121.40 L121.17 121.40 L121.25 99.80 L121.32 92.34 L121.39 88.00 L121.47 84.94 L121.54 82.59 L121.61 80.69 L121.68 79.09 L121.76 77.73 L121.83 76.54 L121.90 75.50 L121.98 74.56 L122.05 73.73 L122.12 72.97 L122.19 72.29 L122.27 71.67 L122.34 71.10 L122.41 70.58 L122.49 70.10 L122.56 69.67 L122.63 69.27 L122.70 68.90 L122.78 68.57 L122.85 68.26 L122.92 67.98 L123.00 67.73 L123.07 67.50 L123.14 67.29 L123.21 67.11 L123.29 66.94 L123.36 66.80 L123.43 66.68 L123.50 66.57 L123.58 66.48 L123.65 66.42 L123.72 66.36 L123.80 66.33 L123.87 66.32" stroke-dashoffset="3.11"/>
<path d="M123.87 66.32 L123.94 66.33 L124.01 66.36 L124.09 66.40 L124.16 66.46 L124.23 66.54 L124.31 66.63 L124.38 66.74 L124.45 66.86 L124.52 67.01 L124.60 67.17 L124.67 67.35 L124.74 67.54 L124.82 67.76 L124.89 67.99 L124.96 68.25 L125.03 68.52 L125.11 68.82 L125.18 69.14 L125.25 69.48 L125.33 69.85 L125.40 70.24 L125.47 70.67 L125.54 71.12 L125.62 71.61 L125.69 72.13 L125.76 72.69 L125.83 73.29 L125.91 73.94 L125.98 74.65 L126.05 75.41 L126.13 76.25 L126.20 77.16 L126.27 78.16 L126.34 79.28 L126.42 80.54 L126.49 81.97 L126.56 83.62 L126.64 85.58 L126.71 87.98 L126.78 91.06 L126.85 95.41 L126.93 102.82 L127.00 106.00 L127.00 106.00 L127.07 102.90 L127.15 95.59 L127.22 91.34 L127.29 88.35 L127.36 86.05 L127.44 84.19 L127.51 82.63 L127.58 81.31 L127.66 80.15 L127.73 79.13 L127.80 78.23 L127.87 77.42 L127.95 76.69 L128.02 76.03 L128.09 75.43 L128.16 74.88 L128.24 74.38 L128.31 73.92 L128.38 73.50 L128.46 73.12 L128.53 72.77 L128.60 72.45 L128.67 72.16 L128.75 71.90 L128.82 71.66 L128.89 71.44 L128.97 71.25 L129.04 71.08 L129.11 70.93 L129.18 70.80 L129.26 70.68 L129.33 70.59 L129.40 70.52 L129.48 70.46 L129.55 70.42 L129.62 70.40 L129.69 70.39" stroke-dashoffset="2.99"/>
<path d="M129.69 70.39 L129.77 70.40 L129.84 70.43 L129.91 70.47 L129.99 70.53 L130.06 70.60 L130.13 70.70 L130.20 70.83 L130.28 70.98 L130.35 71.14 L130.42 71.32 L130.50 71.52 L130.57 71.74 L130.64 71.97 L130.71 72.23 L130.79 72.50 L130.86 72.79 L130.93 73.11 L131.00 73.44 L131.08 73.80 L131.15 74.19 L131.22 74.60 L131.30 75.03 L131.37 75.50 L131.44 76.00 L131.51 76.54 L131.59 77.11 L131.66 77.73 L131.73 78.39 L131.81 79.10 L131.88 79.88 L131.95 80.72 L132.02 81.63 L132.10 82.64 L132.17 83.77 L132.24 85.02 L132.32 86.45 L132.39 88.09 L132.46 90.04 L132.53 92.41 L132.61 95.46 L132.68 99.75 L132.75 107.05 L132.82 112.60 L132.82 112.60 L132.90 107.18 L132.97 100.02 L133.05 95.88 L133.12 92.96 L133.20 90.73 L133.27 88.93 L133.35 87.43 L133.42 86.15 L133.50 85.04 L133.57 84.07 L133.65 83.21 L133.72 82.44 L133.80 81.75 L133.87 81.12 L133.95 80.56 L134.02 80.04 L134.09 79.58 L134.17 79.15 L134.24 78.77 L134.32 78.42 L134.39 78.10 L134.47 77.81 L134.54 77.55 L134.62 77.32 L134.69 77.11 L134.77 76.92 L134.84 76.76 L134.92 76.61 L134.99 76.49 L135.07 76.39 L135.14 76.29 L135.22 76.19 L135.29 76.11 L135.36 76.05 L135.44 76.01 L135.51 75.98 L135.59 75.97" stroke-dashoffset="0.95"/>
<path d="M135.59 75.97 L135.66 75.98 L135.74 76.00 L135.81 76.04 L135.89 76.10 L135.96 76.17 L136.04 76.25 L136.11 76.35 L136.19 76.47 L136.26 76.61 L136.34 76.76 L136.41 76.93 L136.48 77.12 L136.56 77.32 L136.63 77.54 L136.71 77.78 L136.78 78.05 L136.86 78.33 L136.93 78.63 L137.01 78.96 L137.08 79.31 L137.16 79.69 L137.23 80.10 L137.31 80.53 L137.38 81.00 L137.46 81.49 L137.53 82.03 L137.61 82.61 L137.68 83.23 L137.75 83.91 L137.83 84.64 L137.90 85.44 L137.98 86.32 L138.05 87.28 L138.13 88.36 L138.20 89.56 L138.28 90.93 L138.35 92.52 L138.43 94.40 L138.50 96.71 L138.58 99.68 L138.65 103.85 L138.73 110.98 L138.80 131.50 L138.80 131.50 L138.88 111.06 L138.95 104.02 L139.03 99.92 L139.11 97.04 L139.18 94.83 L139.26 93.04 L139.34 91.54 L139.42 90.26 L139.49 89.15 L139.57 88.17 L139.65 87.30 L139.72 86.52 L139.80 85.81 L139.88 85.18 L139.95 84.60 L140.03 84.07 L140.11 83.58 L140.18 83.14 L140.26 82.74 L140.34 82.37 L140.41 82.03 L140.49 81.72 L140.57 81.44 L140.65 81.19 L140.72 80.96 L140.80 80.75 L140.88 80.56 L140.95 80.40 L141.03 80.25 L141.11 80.12 L141.18 80.01 L141.26 79.92 L141.34 79.85 L141.41 79.79 L141.49 79.75 L141.57 79.73 L141.64 79.73" stroke-dashoffset="6.11"/>
<path d="M141.64 79.73 L141.72 79.74 L141.80 79.76 L141.88 79.80 L141.95 79.86 L142.03 79.93 L142.11 80.02 L142.18 80.12 L142.26 80.24 L142.34 80.38 L142.41 80.53 L142.49 80.70 L142.57 80.89 L142.64 81.09 L142.72 81.31 L142.80 81.55 L142.87 81.81 L142.95 82.09 L143.03 82.40 L143.10 82.72 L143.18 83.07 L143.26 83.44 L143.34 83.84 L143.41 84.27 L143.49 84.73 L143.57 85.22 L143.64 85.75 L143.72 86.32 L143.80 86.94 L143.87 87.60 L143.95 88.32 L144.03 89.11 L144.10 89.97 L144.18 90.92 L144.26 91.97 L144.33 93.16 L144.41 94.51 L144.49 96.07 L144.57 97.91 L144.64 100.17 L144.72 103.08 L144.80 107.18 L144.87 114.17 L144.95 117.60 L144.95 117.60 L145.03 114.25 L145.11 107.35 L145.19 103.35 L145.26 100.53 L145.34 98.36 L145.42 96.61 L145.50 95.15 L145.58 93.90 L145.66 92.81 L145.74 91.86 L145.82 91.01 L145.89 90.24 L145.97 89.56 L146.05 88.94 L146.13 88.37 L146.21 87.86 L146.29 87.39 L146.37 86.96 L146.45 86.57 L146.52 86.21 L146.60 85.88 L146.68 85.58 L146.76 85.31 L146.84 85.06 L146.92 84.84 L147.00 84.64 L147.08 84.46 L147.16 84.30 L147.23 84.16 L147.31 84.04 L147.39 83.94 L147.47 83.85 L147.55 83.78 L147.63 83.73 L147.71 83.70 L147.78 83.68" stroke-dashoffset="1.85"/>
<path d="M147.78 83.68 L147.86 83.69 L147.94 83.70 L148.02 83.74 L148.10 83.79 L148.18 83.85 L148.26 83.93 L148.34 84.02 L148.41 84.13 L148.49 84.26 L148.57 84.40 L148.65 84.56 L148.73 84.73 L148.81 84.92 L148.89 85.13 L148.97 85.36 L149.04 85.60 L149.12 85.86 L149.20 86.15 L149.28 86.45 L149.36 86.78 L149.44 87.13 L149.52 87.50 L149.60 87.90 L149.68 88.33 L149.75 88.79 L149.83 89.28 L149.91 89.80 L149.99 90.37 L150.07 90.98 L150.15 91.64 L150.23 92.35 L150.31 93.13 L150.38 93.98 L150.46 94.92 L150.54 95.96 L150.62 97.13 L150.70 98.46 L150.78 99.99 L150.86 101.81 L150.94 104.03 L151.01 106.89 L151.09 110.90 L151.17 117.75 L151.25 120.00 L151.25 120.00 L151.33 117.84 L151.41 111.10 L151.48 107.19 L151.56 104.44 L151.64 102.32 L151.72 100.62 L151.79 99.19 L151.87 97.97 L151.95 96.92 L152.03 95.99 L152.10 95.16 L152.18 94.42 L152.26 93.76 L152.34 93.15 L152.41 92.61 L152.49 92.11 L152.57 91.66 L152.65 91.25 L152.72 90.87 L152.80 90.52 L152.88 90.21 L152.95 89.92 L153.03 89.66 L153.11 89.43 L153.19 89.22 L153.26 89.03 L153.34 88.86 L153.42 88.71 L153.50 88.58 L153.57 88.47 L153.65 88.37 L153.73 88.30 L153.81 88.23 L153.88 88.19 L153.96 88.16 L154.04 88.15" stroke-dashoffset="0.66"/>
<path d="M154.04 88.15 L154.12 88.16 L154.19 88.18 L154.27 88.22 L154.35 88.28 L154.43 88.35 L154.50 88.43 L154.58 88.53 L154.66 88.64 L154.74 88.77 L154.81 88.92 L154.89 89.08 L154.97 89.26 L155.05 89.45 L155.12 89.66 L155.20 89.89 L155.28 90.13 L155.36 90.40 L155.44 90.68 L155.51 90.98 L155.59 91.31 L155.67 91.66 L155.75 92.03 L155.82 92.43 L155.90 92.85 L155.98 93.31 L156.05 93.79 L156.13 94.32 L156.21 94.88 L156.29 95.48 L156.36 96.13 L156.44 96.84 L156.52 97.61 L156.60 98.44 L156.67 99.37 L156.75 100.39 L156.83 101.54 L156.91 102.85 L156.98 104.36 L157.06 106.14 L157.14 108.32 L157.22 111.12 L157.29 115.06 L157.37 121.76 L157.45 125.00 L157.45 125.00 L157.53 121.87 L157.61 115.28 L157.68 111.46 L157.76 108.77 L157.84 106.71 L157.92 105.05 L158.00 103.67 L158.07 102.48 L158.15 101.46 L158.23 100.55 L158.31 99.75 L158.39 99.04 L158.47 98.39 L158.54 97.81 L158.62 97.29 L158.70 96.81 L158.78 96.37 L158.86 95.98 L158.93 95.62 L159.01 95.29 L159.09 94.99 L159.17 94.72 L159.25 94.47 L159.32 94.25 L159.40 94.05 L159.48 93.87 L159.56 93.71 L159.64 93.57 L159.72 93.45 L159.79 93.35 L159.87 93.27 L159.95 93.20 L160.03 93.15 L160.11 93.11 L160.18 93.09 L160.26 93.09" stroke-dashoffset="9.24"/>
<path d="M160.26 93.09 L160.34 93.09 L160.42 93.11 L160.50 93.14 L160.57 93.19 L160.65 93.25 L160.73 93.32 L160.81 93.41 L160.89 93.52 L160.97 93.64 L161.04 93.77 L161.12 93.92 L161.20 94.09 L161.28 94.27 L161.36 94.47 L161.43 94.68 L161.51 94.92 L161.59 95.17 L161.67 95.44 L161.75 95.74 L161.82 96.05 L161.90 96.38 L161.98 96.74 L162.06 97.13 L162.14 97.54 L162.22 97.98 L162.29 98.46 L162.37 98.96 L162.45 99.51 L162.53 100.10 L162.61 100.74 L162.68 101.43 L162.76 102.18 L162.84 103.00 L162.92 103.91 L163.00 104.92 L163.07 106.05 L163.15 107.34 L163.23 108.82 L163.31 110.58 L163.39 112.74 L163.47 115.51 L163.54 119.41 L163.62 126.05 L163.70 129.00 L163.70 129.00 L163.78 126.16 L163.86 119.63 L163.95 115.84 L164.03 113.17 L164.11 111.13 L164.19 109.48 L164.28 108.10 L164.36 106.92 L164.44 105.90 L164.52 105.00 L164.60 104.20 L164.69 103.48 L164.77 102.84 L164.85 102.26 L164.93 101.73 L165.01 101.25 L165.10 100.81 L165.18 100.41 L165.26 100.05 L165.34 99.71 L165.43 99.41 L165.51 99.13 L165.59 98.88 L165.67 98.66 L165.75 98.45 L165.84 98.27 L165.92 98.10 L166.00 97.96 L166.08 97.83 L166.17 97.73 L166.25 97.64 L166.33 97.56 L166.41 97.50 L166.49 97.46 L166.58 97.43 L166.66 97.41 L166.74 97.41" stroke-dashoffset="1.84"/>
<path d="M166.74 97.41 L166.82 97.42 L166.91 97.45 L166.99 97.49 L167.07 97.55 L167.15 97.62 L167.23 97.71 L167.32 97.81 L167.40 97.93 L167.48 98.06 L167.56 98.21 L167.64 98.37 L167.73 98.55 L167.81 98.74 L167.89 98.96 L167.97 99.19 L168.06 99.44 L168.14 99.70 L168.22 99.99 L168.30 100.30 L168.38 100.64 L168.47 100.99 L168.55 101.37 L168.63 101.78 L168.71 102.22 L168.80 102.69 L168.88 103.20 L168.96 103.74 L169.04 104.32 L169.12 104.96 L169.21 105.64 L169.29 106.39 L169.37 107.21 L169.45 108.12 L169.54 109.12 L169.62 110.25 L169.70 111.53 L169.78 113.02 L169.86 114.78 L169.95 116.93 L170.03 119.69 L170.11 123.59 L170.19 130.22 L170.27 134.00 L170.27 134.00 L170.36 130.32 L170.44 123.79 L170.53 120.00 L170.61 117.33 L170.70 115.28 L170.78 113.62 L170.87 112.24 L170.95 111.06 L171.03 110.03 L171.12 109.12 L171.20 108.32 L171.29 107.60 L171.37 106.95 L171.46 106.36 L171.54 105.83 L171.62 105.35 L171.71 104.90 L171.79 104.50 L171.88 104.13 L171.96 103.79 L172.05 103.48 L172.13 103.20 L172.22 102.95 L172.30 102.71 L172.38 102.50 L172.47 102.32 L172.55 102.15 L172.64 102.00 L172.72 101.87 L172.81 101.76 L172.89 101.65 L172.97 101.56 L173.06 101.48 L173.14 101.43 L173.23 101.38 L173.31 101.36 L173.40 101.34" stroke-dashoffset="1.31"/>
<path d="M173.40 101.34 L173.48 101.35 L173.57 101.36 L173.65 101.40 L173.73 101.44 L173.82 101.50 L173.90 101.58 L173.99 101.67 L174.07 101.78 L174.16 101.90 L174.24 102.03 L174.32 102.19 L174.41 102.36 L174.49 102.54 L174.58 102.74 L174.66 102.96 L174.75 103.20 L174.83 103.46 L174.92 103.74 L175.00 104.04 L175.08 104.36 L175.17 104.71 L175.25 105.08 L175.34 105.48 L175.42 105.90 L175.51 106.36 L175.59 106.86 L175.68 107.39 L175.76 107.97 L175.84 108.59 L175.93 109.27 L176.01 110.01 L176.10 110.82 L176.18 111.71 L176.27 112.70 L176.35 113.82 L176.43 115.09 L176.52 116.57 L176.60 118.31 L176.69 120.45 L176.77 123.21 L176.86 127.10 L176.94 133.72 L177.03 153.00 L177.03 153.00 L177.11 133.80 L177.19 127.25 L177.28 123.45 L177.36 120.77 L177.45 118.71 L177.53 117.04 L177.62 115.65 L177.70 114.45 L177.79 113.41 L177.87 112.50 L177.96 111.68 L178.04 110.95 L178.13 110.29 L178.21 109.69 L178.30 109.15 L178.38 108.65 L178.46 108.20 L178.55 107.78 L178.63 107.40 L178.72 107.05 L178.80 106.73 L178.89 106.44 L178.97 106.17 L179.06 105.93 L179.14 105.71 L179.23 105.51 L179.31 105.33 L179.40 105.17 L179.48 105.02 L179.57 104.90 L179.65 104.79 L179.74 104.70 L179.82 104.63 L179.90 104.57 L179.99 104.53 L180.07 104.50 L180.16 104.49" stroke-dashoffset="4.00"/>
<path d="M180.16 104.49 L180.24 104.49 L180.33 104.51 L180.41 104.54 L180.50 104.59 L180.58 104.65 L180.67 104.73 L180.75 104.82 L180.84 104.92 L180.92 105.04 L181.01 105.18 L181.09 105.33 L181.17 105.50 L181.26 105.69 L181.34 105.89 L181.43 106.11 L181.51 106.35 L181.60 106.61 L181.68 106.89 L181.77 107.19 L181.85 107.51 L181.94 107.86 L182.02 108.23 L182.11 108.63 L182.19 109.05 L182.28 109.51 L182.36 110.01 L182.45 110.54 L182.53 111.12 L182.61 111.74 L182.70 112.42 L182.78 113.16 L182.87 113.97 L182.95 114.86 L183.04 115.85 L183.12 116.97 L183.21 118.24 L183.29 119.72 L183.38 121.47 L183.46 123.61 L183.55 126.36 L183.63 130.25 L183.72 136.87 L183.80 150.00 L183.80 150.00 L183.88 136.95 L183.97 130.41 L184.05 126.60 L184.14 123.92 L184.22 121.86 L184.31 120.19 L184.39 118.80 L184.48 117.60 L184.56 116.56 L184.65 115.65 L184.73 114.83 L184.82 114.10 L184.90 113.44 L184.99 112.84 L185.07 112.30 L185.16 111.80 L185.24 111.35 L185.32 110.93 L185.41 110.55 L185.49 110.20 L185.58 109.88 L185.66 109.59 L185.75 109.32 L185.83 109.08 L185.92 108.86 L186.00 108.66 L186.09 108.48 L186.17 108.32 L186.26 108.18 L186.34 108.05 L186.43 107.94 L186.51 107.85 L186.59 107.78 L186.68 107.72 L186.76 107.68 L186.85 107.65 L186.93 107.64" stroke-dashoffset="3.52"/>
<path d="M186.93 107.64 L187.02 107.64 L187.10 107.66 L187.19 107.69 L187.27 107.74 L187.36 107.80 L187.44 107.88 L187.53 107.97 L187.61 108.07 L187.70 108.19 L187.78 108.33 L187.87 108.48 L187.95 108.65 L188.03 108.84 L188.12 109.04 L188.20 109.26 L188.29 109.50 L188.37 109.76 L188.46 110.04 L188.54 110.34 L188.63 110.66 L188.71 111.01 L188.80 111.38 L188.88 111.78 L188.97 112.20 L189.05 112.66 L189.14 113.16 L189.22 113.69 L189.30 114.27 L189.39 114.89 L189.47 115.57 L189.56 116.31 L189.64 117.12 L189.73 118.01 L189.81 119.01 L189.90 120.12 L189.98 121.40 L190.07 122.87 L190.15 124.61 L190.24 126.74 L190.32 129.50 L190.41 133.38 L190.49 140.00 L190.58 151.40 L190.58 151.40 L190.66 140.06 L190.74 133.51 L190.82 129.70 L190.90 127.01 L190.98 124.95 L191.06 123.27 L191.14 121.87 L191.22 120.67 L191.30 119.62 L191.38 118.70 L191.46 117.88 L191.54 117.14 L191.62 116.48 L191.70 115.87 L191.78 115.32 L191.87 114.82 L191.95 114.36 L192.03 113.93 L192.11 113.55 L192.19 113.19 L192.27 112.87 L192.35 112.57 L192.43 112.29 L192.51 112.04 L192.59 111.82 L192.67 111.61 L192.75 111.42 L192.83 111.26 L192.91 111.11 L192.99 110.98 L193.07 110.86 L193.16 110.77 L193.24 110.69 L193.32 110.62 L193.40 110.57 L193.48 110.54 L193.56 110.52 L193.64 110.52" stroke-dashoffset="2.95"/>
<path d="M193.64 110.52 L193.72 110.53 L193.80 110.55 L193.88 110.59 L193.96 110.65 L194.04 110.72 L194.12 110.80 L194.20 110.90 L194.28 111.02 L194.36 111.15 L194.45 111.30 L194.53 111.46 L194.61 111.64 L194.69 111.83 L194.77 112.05 L194.85 112.28 L194.93 112.53 L195.01 112.80 L195.09 113.10 L195.17 113.41 L195.25 113.75 L195.33 114.12 L195.41 114.51 L195.49 114.93 L195.57 115.39 L195.65 115.87 L195.74 116.40 L195.82 116.97 L195.90 117.59 L195.98 118.26 L196.06 118.99 L196.14 119.79 L196.22 120.68 L196.30 121.67 L196.38 122.78 L196.46 124.05 L196.54 125.51 L196.62 127.25 L196.70 129.39 L196.78 132.14 L196.86 136.02 L196.94 142.64 L197.03 155.00 L197.03 155.00 L197.10 142.70 L197.18 136.15 L197.26 132.33 L197.33 129.65 L197.41 127.58 L197.49 125.90 L197.57 124.50 L197.64 123.30 L197.72 122.25 L197.80 121.33 L197.87 120.50 L197.95 119.76 L198.03 119.10 L198.11 118.49 L198.18 117.94 L198.26 117.43 L198.34 116.97 L198.41 116.55 L198.49 116.16 L198.57 115.80 L198.65 115.47 L198.72 115.17 L198.80 114.90 L198.88 114.65 L198.95 114.42 L199.03 114.21 L199.11 114.02 L199.19 113.86 L199.26 113.71 L199.34 113.57 L199.42 113.46 L199.50 113.36 L199.57 113.28 L199.65 113.21 L199.73 113.16 L199.80 113.13 L199.88 113.11 L199.96 113.10" stroke-dashoffset="1.57"/>
<path d="M199.96 113.10 L200.04 113.11 L200.11 113.14 L200.19 113.18 L200.27 113.23 L200.34 113.30 L200.42 113.38 L200.50 113.48 L200.58 113.59 L200.65 113.72 L200.73 113.87 L200.81 114.03 L200.88 114.21 L200.96 114.40 L201.04 114.61 L201.12 114.84 L201.19 115.10 L201.27 115.37 L201.35 115.66 L201.42 115.97 L201.50 116.31 L201.58 116.67 L201.66 117.07 L201.73 117.49 L201.81 117.94 L201.89 118.42 L201.97 118.95 L202.04 119.52 L202.12 120.13 L202.20 120.80 L202.27 121.53 L202.35 122.34 L202.43 123.22 L202.51 124.21 L202.58 125.32 L202.66 126.58 L202.74 128.05 L202.81 129.79 L202.89 131.92 L202.97 134.67 L203.05 138.55 L203.12 145.17 L203.20 154.78 L203.20 154.78 L203.28 145.23 L203.36 138.67 L203.43 134.86 L203.51 132.17 L203.59 130.11 L203.67 128.43 L203.74 127.03 L203.82 125.83 L203.90 124.78 L203.98 123.86 L204.06 123.03 L204.13 122.29 L204.21 121.63 L204.29 121.02 L204.37 120.47 L204.44 119.96 L204.52 119.50 L204.60 119.08 L204.68 118.69 L204.76 118.33 L204.83 118.01 L204.91 117.71 L204.99 117.43 L205.07 117.18 L205.15 116.95 L205.22 116.74 L205.30 116.56 L205.38 116.39 L205.46 116.24 L205.53 116.11 L205.61 115.99 L205.69 115.90 L205.77 115.81 L205.85 115.75 L205.92 115.70 L206.00 115.66 L206.08 115.64 L206.16 115.64" stroke-dashoffset="2.32"/>
<path d="M206.16 115.64 L206.23 115.65 L206.31 115.67 L206.39 115.71 L206.47 115.77 L206.55 115.83 L206.62 115.92 L206.70 116.02 L206.78 116.13 L206.86 116.26 L206.94 116.41 L207.01 116.57 L207.09 116.74 L207.17 116.94 L207.25 117.15 L207.32 117.38 L207.40 117.64 L207.48 117.91 L207.56 118.20 L207.64 118.51 L207.71 118.85 L207.79 119.21 L207.87 119.61 L207.95 120.03 L208.02 120.48 L208.10 120.96 L208.18 121.49 L208.26 122.06 L208.34 122.67 L208.41 123.34 L208.49 124.07 L208.57 124.87 L208.65 125.76 L208.72 126.75 L208.80 127.86 L208.88 129.12 L208.96 130.59 L209.04 132.33 L209.11 134.46 L209.19 137.21 L209.27 141.09 L209.35 147.70 L209.43 159.74 L209.43 159.74 L209.50 147.77 L209.58 141.21 L209.66 137.40 L209.73 134.71 L209.81 132.64 L209.89 130.96 L209.97 129.56 L210.04 128.36 L210.12 127.31 L210.20 126.39 L210.27 125.56 L210.35 124.83 L210.43 124.16 L210.51 123.55 L210.58 123.00 L210.66 122.49 L210.74 122.03 L210.81 121.61 L210.89 121.22 L210.97 120.86 L211.05 120.53 L211.12 120.23 L211.20 119.96 L211.28 119.70 L211.35 119.48 L211.43 119.27 L211.51 119.08 L211.59 118.91 L211.66 118.76 L211.74 118.63 L211.82 118.51 L211.90 118.42 L211.97 118.33 L212.05 118.27 L212.13 118.22 L212.20 118.18 L212.28 118.16 L212.36 118.16" stroke-dashoffset="3.40"/>
<path d="M212.36 118.16 L212.44 118.16 L212.51 118.19 L212.59 118.23 L212.67 118.28 L212.74 118.35 L212.82 118.43 L212.90 118.53 L212.98 118.64 L213.05 118.77 L213.13 118.92 L213.21 119.08 L213.28 119.25 L213.36 119.45 L213.44 119.66 L213.52 119.89 L213.59 120.14 L213.67 120.41 L213.75 120.70 L213.82 121.02 L213.90 121.36 L213.98 121.72 L214.06 122.11 L214.13 122.53 L214.21 122.98 L214.29 123.47 L214.37 123.99 L214.44 124.56 L214.52 125.18 L214.60 125.84 L214.67 126.57 L214.75 127.38 L214.83 128.26 L214.91 129.25 L214.98 130.36 L215.06 131.62 L215.14 133.09 L215.21 134.83 L215.29 136.96 L215.37 139.71 L215.45 143.59 L215.52 150.20 L215.60 157.70 L215.60 157.70 L215.68 150.27 L215.76 143.71 L215.83 139.90 L215.91 137.21 L215.99 135.14 L216.07 133.47 L216.15 132.06 L216.23 130.86 L216.30 129.82 L216.38 128.89 L216.46 128.07 L216.54 127.33 L216.62 126.66 L216.69 126.06 L216.77 125.50 L216.85 125.00 L216.93 124.54 L217.01 124.11 L217.08 123.72 L217.16 123.37 L217.24 123.04 L217.32 122.74 L217.40 122.46 L217.48 122.21 L217.55 121.98 L217.63 121.78 L217.71 121.59 L217.79 121.42 L217.87 121.27 L217.94 121.14 L218.02 121.03 L218.10 120.93 L218.18 120.85 L218.26 120.78 L218.33 120.73 L218.41 120.69 L218.49 120.67 L218.57 120.67" stroke-dashoffset="3.23"/>
<path d="M218.57 120.67 L218.65 120.68 L218.73 120.70 L218.80 120.74 L218.88 120.80 L218.96 120.86 L219.04 120.95 L219.12 121.05 L219.19 121.16 L219.27 121.29 L219.35 121.43 L219.43 121.59 L219.51 121.77 L219.58 121.97 L219.66 122.18 L219.74 122.41 L219.82 122.66 L219.90 122.93 L219.97 123.22 L220.05 123.54 L220.13 123.88 L220.21 124.24 L220.29 124.64 L220.37 125.07 L220.44 125.53 L220.52 126.02 L220.60 126.55 L220.68 127.13 L220.76 127.75 L220.83 128.43 L220.91 129.17 L220.99 129.98 L221.07 130.87 L221.15 131.87 L221.22 132.98 L221.30 134.26 L221.38 135.73 L221.46 137.48 L221.54 139.62 L221.62 142.37 L221.69 146.26 L221.77 152.88 L221.85 157.70 L221.85 157.70 L221.93 152.96 L222.01 146.42 L222.09 142.61 L222.17 139.93 L222.25 137.87 L222.33 136.21 L222.41 134.81 L222.50 133.62 L222.58 132.58 L222.66 131.67 L222.74 130.85 L222.82 130.12 L222.90 129.46 L222.98 128.86 L223.06 128.32 L223.14 127.82 L223.22 127.37 L223.30 126.96 L223.38 126.58 L223.46 126.23 L223.54 125.91 L223.62 125.62 L223.70 125.35 L223.78 125.11 L223.87 124.89 L223.95 124.69 L224.03 124.51 L224.11 124.35 L224.19 124.21 L224.27 124.09 L224.35 123.98 L224.43 123.89 L224.51 123.82 L224.59 123.76 L224.67 123.72 L224.75 123.69 L224.83 123.68" stroke-dashoffset="5.36"/>
<path d="M224.83 123.68 L224.91 123.69 L224.99 123.70 L225.07 123.74 L225.16 123.79 L225.24 123.85 L225.32 123.92 L225.40 124.02 L225.48 124.12 L225.56 124.25 L225.64 124.38 L225.72 124.54 L225.80 124.71 L225.88 124.89 L225.96 125.10 L226.04 125.32 L226.12 125.56 L226.20 125.82 L226.28 126.10 L226.37 126.40 L226.45 126.72 L226.53 127.07 L226.61 127.44 L226.69 127.84 L226.77 128.27 L226.85 128.73 L226.93 129.23 L227.01 129.76 L227.09 130.34 L227.17 130.96 L227.25 131.64 L227.33 132.38 L227.41 133.19 L227.49 134.08 L227.57 135.08 L227.66 136.20 L227.74 137.47 L227.82 138.95 L227.90 140.69 L227.98 142.84 L228.06 145.59 L228.14 149.48 L228.30 155.20 L228.30 155.20 L228.46 149.64 L228.54 145.83 L228.61 143.15 L228.69 141.09 L228.77 139.42 L228.85 138.03 L228.93 136.83 L229.01 135.80 L229.08 134.88 L229.16 134.06 L229.24 133.33 L229.32 132.67 L229.40 132.07 L229.48 131.53 L229.56 131.03 L229.63 130.58 L229.71 130.16 L229.79 129.78 L229.87 129.43 L229.95 129.11 L230.03 128.82 L230.10 128.55 L230.18 128.31 L230.26 128.09 L230.34 127.89 L230.42 127.71 L230.50 127.55 L230.57 127.40 L230.65 127.28 L230.73 127.17 L230.81 127.08 L230.89 127.01 L230.97 126.95 L231.05 126.91 L231.12 126.88 L231.20 126.87" stroke-dashoffset="0.59"/>
<path d="M231.20 126.87 L231.28 126.87 L231.36 126.89 L231.44 126.92 L231.52 126.97 L231.59 127.03 L231.67 127.10 L231.75 127.19 L231.83 127.30 L231.91 127.42 L231.99 127.56 L232.06 127.70 L232.14 127.85 L232.22 128.02 L232.30 128.20 L232.38 128.41 L232.46 128.63 L232.54 128.87 L232.61 129.13 L232.69 129.42 L232.77 129.72 L232.85 130.05 L232.93 130.40 L233.01 130.79 L233.08 131.20 L233.16 131.64 L233.24 132.12 L233.32 132.64 L233.40 133.19 L233.48 133.80 L233.56 134.46 L233.63 135.18 L233.71 135.98 L233.79 136.85 L233.87 137.83 L233.95 138.93 L234.03 140.19 L234.10 141.64 L234.18 143.37 L234.26 145.50 L234.34 148.24 L234.42 152.11 L234.50 158.72 L234.57 170.30 L234.57 170.30 L234.65 158.76 L234.73 152.20 L234.80 148.37 L234.88 145.68 L234.95 143.60 L235.03 141.91 L235.10 140.50 L235.18 139.29 L235.25 138.23 L235.33 137.30 L235.40 136.46 L235.48 135.71 L235.55 135.04 L235.63 134.42 L235.70 133.86 L235.78 133.34 L235.86 132.87 L235.93 132.44 L236.01 132.04 L236.08 131.67 L236.16 131.34 L236.23 131.02 L236.31 130.74 L236.38 130.48 L236.46 130.24 L236.53 130.02 L236.61 129.83 L236.68 129.65 L236.76 129.49 L236.83 129.35 L236.91 129.22 L236.99 129.11 L237.06 129.02 L237.14 128.95 L237.21 128.89 L237.29 128.84 L237.36 128.81 L237.44 128.80 L237.51 128.80" stroke-dashoffset="4.20"/>
<path d="M237.51 128.80 L237.59 128.81 L237.66 128.84 L237.74 128.88 L237.81 128.94 L237.89 129.01 L237.96 129.10 L238.04 129.21 L238.11 129.33 L238.19 129.46 L238.27 129.61 L238.34 129.78 L238.42 129.97 L238.49 130.17 L238.57 130.39 L238.64 130.63 L238.72 130.89 L238.79 131.17 L238.87 131.48 L238.94 131.81 L239.02 132.16 L239.09 132.54 L239.17 132.95 L239.24 133.39 L239.32 133.87 L239.40 134.39 L239.47 134.94 L239.55 135.55 L239.62 136.21 L239.70 136.93 L239.77 137.72 L239.85 138.60 L239.92 139.58 L240.00 140.68 L240.07 141.93 L240.15 143.39 L240.22 145.12 L240.30 147.24 L240.37 149.98 L240.45 153.85 L240.52 160.45 L240.60 165.30 L240.60 165.30 L240.68 160.50 L240.76 153.93 L240.83 150.11 L240.91 147.41 L240.99 145.34 L241.07 143.65 L241.15 142.24 L241.23 141.03 L241.30 139.97 L241.38 139.04 L241.46 138.21 L241.54 137.46 L241.62 136.78 L241.69 136.17 L241.77 135.61 L241.85 135.09 L241.93 134.62 L242.01 134.19 L242.08 133.79 L242.16 133.42 L242.24 133.09 L242.32 132.78 L242.40 132.49 L242.48 132.23 L242.55 132.00 L242.63 131.78 L242.71 131.58 L242.79 131.41 L242.87 131.25 L242.94 131.11 L243.02 130.98 L243.10 130.88 L243.18 130.78 L243.26 130.71 L243.33 130.65 L243.41 130.61 L243.49 130.58 L243.57 130.56" stroke-dashoffset="6.27"/>
<path d="M243.57 130.56 L243.65 130.56 L243.73 130.58 L243.80 130.61 L243.88 130.67 L243.96 130.75 L244.04 130.85 L244.12 130.95 L244.19 131.08 L244.27 131.22 L244.35 131.37 L244.43 131.54 L244.51 131.73 L244.58 131.94 L244.66 132.16 L244.74 132.40 L244.82 132.66 L244.90 132.94 L244.97 133.25 L245.05 133.57 L245.13 133.92 L245.21 134.29 L245.29 134.69 L245.37 135.13 L245.44 135.59 L245.52 136.08 L245.60 136.62 L245.68 137.20 L245.76 137.82 L245.83 138.50 L245.91 139.24 L245.99 140.06 L246.07 140.95 L246.15 141.95 L246.22 143.07 L246.30 144.35 L246.38 145.82 L246.46 147.57 L246.54 149.71 L246.62 152.48 L246.69 156.36 L246.77 162.99 L246.85 173.50 L246.85 173.50 L246.93 163.08 L247.01 156.53 L247.09 152.73 L247.17 150.05 L247.25 148.00 L247.33 146.33 L247.41 144.94 L247.49 143.75 L247.57 142.71 L247.65 141.80 L247.73 140.99 L247.81 140.26 L247.89 139.61 L247.97 139.01 L248.05 138.47 L248.13 137.98 L248.21 137.53 L248.29 137.11 L248.37 136.74 L248.45 136.39 L248.53 136.07 L248.61 135.79 L248.69 135.52 L248.77 135.28 L248.85 135.06 L248.93 134.87 L249.01 134.69 L249.09 134.54 L249.17 134.40 L249.25 134.28 L249.33 134.17 L249.41 134.09 L249.49 134.02 L249.57 133.96 L249.65 133.92 L249.73 133.90 L249.81 133.89" stroke-dashoffset="2.16"/>
<path d="M249.81 133.89 L249.89 133.90 L249.97 133.92 L250.05 133.95 L250.13 134.00 L250.21 134.07 L250.29 134.15 L250.37 134.24 L250.45 134.35 L250.53 134.48 L250.61 134.62 L250.69 134.77 L250.77 134.95 L250.85 135.13 L250.93 135.34 L251.01 135.56 L251.09 135.81 L251.17 136.07 L251.25 136.35 L251.33 136.65 L251.41 136.98 L251.49 137.33 L251.57 137.71 L251.65 138.11 L251.73 138.54 L251.81 139.00 L251.89 139.50 L251.97 140.04 L252.05 140.62 L252.13 141.24 L252.21 141.92 L252.29 142.67 L252.37 143.48 L252.45 144.38 L252.53 145.37 L252.61 146.50 L252.69 147.77 L252.77 149.25 L252.85 151.00 L252.93 153.14 L253.01 155.91 L253.09 159.79 L253.17 166.42 L253.25 169.00 L253.25 169.00 L253.32 166.51 L253.40 159.96 L253.47 156.15 L253.55 153.48 L253.62 151.41 L253.70 149.75 L253.77 148.35 L253.85 147.16 L253.92 146.12 L254.00 145.21 L254.07 144.39 L254.15 143.66 L254.22 143.00 L254.30 142.40 L254.37 141.86 L254.44 141.36 L254.52 140.91 L254.59 140.50 L254.67 140.12 L254.74 139.77 L254.82 139.45 L254.89 139.15 L254.97 138.89 L255.04 138.64 L255.12 138.42 L255.19 138.22 L255.27 138.04 L255.34 137.88 L255.42 137.74 L255.49 137.61 L255.57 137.51 L255.64 137.42 L255.71 137.34 L255.79 137.28 L255.86 137.24 L255.94 137.21 L256.01 137.20" stroke-dashoffset="2.20"/>
<path d="M256.01 137.20 L256.09 137.20 L256.16 137.22 L256.24 137.25 L256.31 137.30 L256.39 137.36 L256.46 137.43 L256.54 137.52 L256.61 137.63 L256.69 137.75 L256.76 137.89 L256.84 138.04 L256.91 138.21 L256.98 138.39 L257.06 138.59 L257.13 138.81 L257.21 139.05 L257.28 139.31 L257.36 139.59 L257.43 139.89 L257.51 140.21 L257.58 140.56 L257.66 140.93 L257.73 141.33 L257.81 141.75 L257.88 142.21 L257.96 142.71 L258.03 143.24 L258.10 143.81 L258.18 144.44 L258.25 145.11 L258.33 145.85 L258.40 146.66 L258.48 147.56 L258.55 148.55 L258.63 149.67 L258.70 150.94 L258.78 152.41 L258.85 154.16 L258.93 156.30 L259.00 159.06 L259.08 162.94 L259.15 169.57 L259.23 181.00 L259.23 181.00 L259.30 169.64 L259.37 163.09 L259.44 159.29 L259.51 156.60 L259.58 154.54 L259.65 152.87 L259.72 151.47 L259.80 150.28 L259.87 149.23 L259.94 148.32 L260.01 147.50 L260.08 146.77 L260.15 146.10 L260.22 145.50 L260.29 144.96 L260.37 144.46 L260.44 144.00 L260.51 143.58 L260.58 143.20 L260.65 142.85 L260.72 142.53 L260.79 142.23 L260.86 141.96 L260.94 141.72 L261.01 141.49 L261.08 141.29 L261.15 141.11 L261.22 140.95 L261.29 140.80 L261.36 140.68 L261.43 140.57 L261.50 140.47 L261.58 140.40 L261.65 140.34 L261.72 140.29 L261.79 140.26 L261.86 140.25" stroke-dashoffset="3.57"/>
<path d="M261.86 140.25 L261.93 140.25 L262.00 140.26 L262.08 140.29 L262.15 140.34 L262.22 140.40 L262.29 140.47 L262.36 140.56 L262.43 140.66 L262.50 140.78 L262.57 140.92 L262.65 141.07 L262.72 141.24 L262.79 141.42 L262.86 141.62 L262.93 141.84 L263.00 142.07 L263.07 142.33 L263.14 142.61 L263.22 142.90 L263.29 143.22 L263.36 143.57 L263.43 143.94 L263.50 144.33 L263.57 144.76 L263.64 145.22 L263.71 145.71 L263.79 146.24 L263.86 146.81 L263.93 147.43 L264.00 148.11 L264.07 148.85 L264.14 149.65 L264.21 150.55 L264.28 151.54 L264.36 152.65 L264.43 153.92 L264.50 155.40 L264.57 157.14 L264.64 159.28 L264.71 162.03 L264.78 165.92 L264.85 172.54 L264.93 176.00 L264.93 176.00 L265.00 172.62 L265.07 166.07 L265.15 162.26 L265.22 159.58 L265.30 157.52 L265.37 155.85 L265.45 154.46 L265.52 153.26 L265.60 152.22 L265.67 151.31 L265.75 150.49 L265.82 149.76 L265.90 149.10 L265.97 148.50 L266.05 147.96 L266.12 147.46 L266.19 147.00 L266.27 146.59 L266.34 146.21 L266.42 145.86 L266.49 145.54 L266.57 145.24 L266.64 144.97 L266.72 144.73 L266.79 144.51 L266.87 144.31 L266.94 144.13 L267.02 143.97 L267.09 143.83 L267.17 143.70 L267.24 143.59 L267.31 143.50 L267.39 143.43 L267.46 143.37 L267.54 143.33 L267.61 143.30 L267.69 143.29" stroke-dashoffset="2.36"/>
<path d="M267.69 143.29 L267.76 143.29 L267.84 143.31 L267.91 143.34 L267.99 143.38 L268.06 143.45 L268.14 143.52 L268.21 143.61 L268.29 143.72 L268.36 143.84 L268.44 143.97 L268.51 144.13 L268.58 144.30 L268.66 144.48 L268.73 144.68 L268.81 144.90 L268.88 145.14 L268.96 145.40 L269.03 145.68 L269.11 145.98 L269.18 146.30 L269.26 146.64 L269.33 147.02 L269.41 147.41 L269.48 147.84 L269.56 148.30 L269.63 148.80 L269.71 149.33 L269.78 149.90 L269.85 150.53 L269.93 151.20 L270.00 151.94 L270.08 152.75 L270.15 153.64 L270.23 154.64 L270.30 155.76 L270.38 157.03 L270.45 158.50 L270.53 160.25 L270.60 162.39 L270.68 165.15 L270.75 169.03 L270.83 175.65 L270.90 180.20 L270.90 180.20 L270.98 175.73 L271.05 169.19 L271.13 165.38 L271.21 162.70 L271.29 160.64 L271.36 158.98 L271.44 157.58 L271.52 156.39 L271.59 155.35 L271.67 154.44 L271.75 153.62 L271.83 152.89 L271.90 152.23 L271.98 151.63 L272.06 151.09 L272.14 150.60 L272.21 150.14 L272.29 149.73 L272.37 149.35 L272.44 149.00 L272.52 148.68 L272.60 148.39 L272.68 148.12 L272.75 147.88 L272.83 147.66 L272.91 147.46 L272.98 147.28 L273.06 147.12 L273.14 146.98 L273.22 146.86 L273.29 146.75 L273.37 146.66 L273.45 146.58 L273.52 146.52 L273.60 146.47 L273.68 146.44 L273.76 146.42 L273.83 146.42" stroke-dashoffset="3.46"/>
<path d="M273.83 146.42 L273.91 146.43 L273.99 146.45 L274.06 146.49 L274.14 146.55 L274.22 146.62 L274.30 146.70 L274.37 146.80 L274.45 146.92 L274.53 147.05 L274.61 147.20 L274.68 147.36 L274.76 147.54 L274.84 147.73 L274.91 147.95 L274.99 148.18 L275.07 148.43 L275.15 148.71 L275.22 149.00 L275.30 149.31 L275.38 149.65 L275.45 150.02 L275.53 150.41 L275.61 150.83 L275.69 151.29 L275.76 151.78 L275.84 152.30 L275.92 152.87 L275.99 153.49 L276.07 154.16 L276.15 154.89 L276.23 155.70 L276.30 156.58 L276.38 157.57 L276.46 158.68 L276.53 159.95 L276.61 161.42 L276.69 163.16 L276.77 165.29 L276.84 168.05 L276.92 171.92 L277.00 178.54 L277.08 192.00 L277.08 192.00 L277.15 178.61 L277.23 172.05 L277.30 168.24 L277.38 165.55 L277.45 163.49 L277.53 161.81 L277.60 160.41 L277.68 159.21 L277.75 158.16 L277.83 157.24 L277.90 156.42 L277.98 155.68 L278.05 155.01 L278.13 154.40 L278.20 153.85 L278.28 153.35 L278.35 152.89 L278.43 152.46 L278.50 152.08 L278.58 151.72 L278.65 151.39 L278.73 151.09 L278.80 150.82 L278.88 150.57 L278.95 150.34 L279.03 150.13 L279.10 149.95 L279.18 149.78 L279.25 149.63 L279.33 149.50 L279.40 149.38 L279.48 149.29 L279.55 149.21 L279.63 149.14 L279.70 149.09 L279.78 149.06 L279.85 149.04 L279.93 149.03" stroke-dashoffset="6.74"/>
<path d="M279.93 149.03 L280.00 149.04 L280.08 149.07 L280.15 149.11 L280.23 149.16 L280.30 149.23 L280.38 149.31 L280.45 149.41 L280.53 149.53 L280.60 149.66 L280.68 149.80 L280.75 149.96 L280.83 150.14 L280.90 150.34 L280.98 150.55 L281.05 150.78 L281.13 151.04 L281.20 151.31 L281.28 151.60 L281.35 151.91 L281.43 152.25 L281.50 152.62 L281.58 153.01 L281.65 153.43 L281.73 153.88 L281.80 154.37 L281.88 154.90 L281.95 155.46 L282.03 156.08 L282.10 156.75 L282.18 157.48 L282.25 158.28 L282.33 159.17 L282.40 160.16 L282.48 161.27 L282.55 162.54 L282.63 164.00 L282.70 165.74 L282.78 167.87 L282.85 170.63 L282.93 174.50 L283.00 181.12 L283.08 185.30 L283.08 185.30 L283.15 181.19 L283.22 174.63 L283.30 170.82 L283.37 168.13 L283.45 166.06 L283.52 164.39 L283.60 162.98 L283.67 161.78 L283.74 160.74 L283.82 159.81 L283.89 158.99 L283.97 158.25 L284.04 157.58 L284.12 156.98 L284.19 156.43 L284.27 155.92 L284.34 155.46 L284.41 155.04 L284.49 154.65 L284.56 154.29 L284.64 153.97 L284.71 153.67 L284.79 153.39 L284.86 153.14 L284.93 152.91 L285.01 152.70 L285.08 152.52 L285.16 152.35 L285.23 152.20 L285.31 152.07 L285.38 151.95 L285.46 151.86 L285.53 151.78 L285.60 151.71 L285.68 151.66 L285.75 151.62 L285.83 151.61 L285.90 151.60" stroke-dashoffset="5.74"/>
<path d="M285.90 151.60 L285.98 151.61 L286.05 151.63 L286.12 151.67 L286.20 151.73 L286.27 151.80 L286.35 151.88 L286.42 151.98 L286.50 152.09 L286.57 152.22 L286.64 152.37 L286.72 152.53 L286.79 152.71 L286.87 152.90 L286.94 153.13 L287.02 153.38 L287.09 153.65 L287.17 153.94 L287.24 154.26 L287.31 154.59 L287.39 154.95 L287.46 155.34 L287.54 155.75 L287.61 156.19 L287.69 156.66 L287.76 157.17 L287.83 157.72 L287.91 158.30 L287.98 158.94 L288.06 159.63 L288.13 160.38 L288.21 161.21 L288.28 162.11 L288.36 163.12 L288.43 164.25 L288.50 165.54 L288.58 167.02 L288.65 168.78 L288.73 170.94 L288.80 173.71 L288.88 177.61 L289.02 183.00 L289.02 183.00 L289.18 177.82 L289.26 174.03 L289.33 171.36 L289.41 169.32 L289.49 167.67 L289.56 166.29 L289.64 165.11 L289.72 164.08 L289.79 163.18 L289.87 162.38 L289.95 161.66 L290.02 161.02 L290.10 160.44 L290.18 159.91 L290.25 159.42 L290.33 158.99 L290.41 158.58 L290.49 158.22 L290.56 157.88 L290.64 157.58 L290.72 157.30 L290.79 157.05 L290.87 156.82 L290.95 156.61 L291.02 156.43 L291.10 156.26 L291.18 156.12 L291.25 155.99 L291.33 155.88 L291.41 155.79 L291.48 155.72 L291.56 155.66 L291.64 155.61 L291.72 155.59 L291.79 155.57" stroke-dashoffset="2.41"/>
<path d="M291.79 155.57 L291.87 155.58 L291.95 155.59 L292.02 155.63 L292.10 155.67 L292.18 155.74 L292.25 155.81 L292.33 155.90 L292.41 156.01 L292.48 156.13 L292.56 156.27 L292.64 156.42 L292.71 156.59 L292.79 156.77 L292.87 156.97 L292.95 157.19 L293.02 157.42 L293.10 157.68 L293.18 157.95 L293.25 158.24 L293.33 158.56 L293.41 158.90 L293.48 159.26 L293.56 159.64 L293.64 160.06 L293.71 160.50 L293.79 160.97 L293.87 161.48 L293.94 162.03 L294.02 162.62 L294.10 163.26 L294.18 163.95 L294.25 164.71 L294.33 165.53 L294.41 166.44 L294.48 167.45 L294.56 168.58 L294.64 169.87 L294.71 171.36 L294.79 173.12 L294.87 175.27 L294.94 178.05 L295.02 181.95 L295.17 187.00 L295.17 187.00 L295.33 182.17 L295.41 178.38 L295.49 175.71 L295.57 173.67 L295.65 172.02 L295.72 170.64 L295.80 169.46 L295.88 168.44 L295.96 167.54 L296.04 166.74 L296.12 166.02 L296.19 165.38 L296.27 164.80 L296.35 164.27 L296.43 163.79 L296.51 163.35 L296.59 162.95 L296.67 162.58 L296.74 162.25 L296.82 161.95 L296.90 161.67 L296.98 161.42 L297.06 161.19 L297.14 160.99 L297.21 160.80 L297.29 160.64 L297.37 160.49 L297.45 160.37 L297.53 160.26 L297.61 160.17 L297.68 160.10 L297.76 160.04 L297.84 160.00 L297.92 159.97 L298.00 159.96" stroke-dashoffset="2.30"/>
<path d="M298.00 159.96 L298.08 159.96 L298.16 159.98 L298.23 160.02 L298.31 160.07 L298.39 160.13 L298.47 160.21 L298.55 160.30 L298.63 160.41 L298.70 160.53 L298.78 160.67 L298.86 160.82 L298.94 160.99 L299.02 161.18 L299.10 161.38 L299.18 161.60 L299.25 161.84 L299.33 162.09 L299.41 162.37 L299.49 162.66 L299.57 162.98 L299.65 163.32 L299.72 163.68 L299.80 164.07 L299.88 164.49 L299.96 164.93 L300.04 165.41 L300.12 165.92 L300.19 166.47 L300.27 167.06 L300.35 167.70 L300.43 168.39 L300.51 169.15 L300.59 169.98 L300.67 170.89 L300.74 171.90 L300.82 173.03 L300.90 174.32 L300.98 175.81 L301.06 177.58 L301.14 179.73 L301.21 182.51 L301.29 186.41 L301.37 193.05 L301.45 206.90 L301.45 206.90 L301.53 193.16 L301.61 186.63 L301.69 182.85 L301.76 180.18 L301.84 178.14 L301.92 176.49 L302.00 175.11 L302.08 173.93 L302.16 172.91 L302.24 172.01 L302.32 171.21 L302.39 170.50 L302.47 169.85 L302.55 169.27 L302.63 168.75 L302.71 168.27 L302.79 167.83 L302.87 167.43 L302.95 167.07 L303.02 166.73 L303.10 166.43 L303.18 166.15 L303.26 165.90 L303.34 165.68 L303.42 165.47 L303.50 165.29 L303.58 165.13 L303.65 164.98 L303.73 164.86 L303.81 164.75 L303.89 164.66 L303.97 164.59 L304.05 164.53 L304.13 164.49 L304.21 164.47 L304.28 164.46" stroke-dashoffset="4.18"/>
<path d="M304.28 164.46 L304.36 164.46 L304.44 164.48 L304.52 164.51 L304.60 164.56 L304.68 164.63 L304.76 164.70 L304.84 164.80 L304.92 164.91 L304.99 165.03 L305.07 165.17 L305.15 165.32 L305.23 165.49 L305.31 165.68 L305.39 165.88 L305.47 166.10 L305.55 166.34 L305.62 166.59 L305.70 166.87 L305.78 167.16 L305.86 167.48 L305.94 167.82 L306.02 168.18 L306.10 168.57 L306.18 168.99 L306.25 169.43 L306.33 169.91 L306.41 170.42 L306.49 170.97 L306.57 171.56 L306.65 172.20 L306.73 172.90 L306.81 173.65 L306.88 174.48 L306.96 175.39 L307.04 176.40 L307.12 177.54 L307.20 178.83 L307.28 180.32 L307.36 182.08 L307.44 184.24 L307.51 187.01 L307.59 190.91 L307.67 197.56 L307.75 197.60 L307.75 197.60 L307.91 191.14 L307.98 187.35 L308.06 184.68 L308.14 182.64 L308.22 180.99 L308.29 179.61 L308.37 178.43 L308.45 177.41 L308.53 176.51 L308.61 175.71 L308.68 174.99 L308.76 174.35 L308.84 173.77 L308.92 173.24 L309.00 172.76 L309.07 172.32 L309.15 171.92 L309.23 171.56 L309.31 171.23 L309.38 170.92 L309.46 170.65 L309.54 170.39 L309.62 170.17 L309.70 169.96 L309.77 169.78 L309.85 169.62 L309.93 169.47 L310.01 169.35 L310.08 169.24 L310.16 169.15 L310.24 169.07 L310.32 169.02 L310.40 168.97 L310.47 168.95 L310.55 168.94" stroke-dashoffset="3.81"/>
<path d="M310.55 168.94 L310.63 168.94 L310.71 168.96 L310.78 168.99 L310.86 169.04 L310.94 169.10 L311.02 169.18 L311.10 169.27 L311.17 169.38 L311.25 169.50 L311.33 169.64 L311.41 169.79 L311.49 169.96 L311.56 170.15 L311.64 170.35 L311.72 170.57 L311.80 170.81 L311.87 171.06 L311.95 171.34 L312.03 171.63 L312.11 171.95 L312.19 172.29 L312.26 172.65 L312.34 173.04 L312.42 173.45 L312.50 173.90 L312.57 174.37 L312.65 174.88 L312.73 175.43 L312.81 176.02 L312.89 176.66 L312.96 177.36 L313.04 178.11 L313.12 178.94 L313.20 179.85 L313.27 180.86 L313.35 181.99 L313.43 183.28 L313.51 184.77 L313.59 186.53 L313.66 188.69 L313.74 191.47 L313.82 195.37 L313.98 199.00 L313.98 199.00 L314.13 195.59 L314.21 191.80 L314.28 189.13 L314.36 187.09 L314.44 185.44 L314.52 184.06 L314.59 182.88 L314.67 181.86 L314.75 180.96 L314.82 180.16 L314.90 179.44 L314.98 178.80 L315.06 178.22 L315.13 177.69 L315.21 177.21 L315.29 176.78 L315.36 176.38 L315.44 176.02 L315.52 175.69 L315.60 175.39 L315.67 175.11 L315.75 174.87 L315.83 174.64 L315.90 174.44 L315.98 174.26 L316.06 174.10 L316.14 173.96 L316.21 173.83 L316.29 173.73 L316.37 173.64 L316.44 173.57 L316.52 173.51 L316.60 173.47 L316.68 173.45 L316.75 173.44" stroke-dashoffset="2.26"/>
<path d="M316.75 173.44 L316.83 173.45 L316.91 173.47 L316.99 173.51 L317.06 173.56 L317.14 173.62 L317.22 173.70 L317.29 173.80 L317.37 173.91 L317.45 174.03 L317.53 174.17 L317.60 174.33 L317.68 174.50 L317.76 174.69 L317.83 174.89 L317.91 175.12 L317.99 175.36 L318.07 175.61 L318.14 175.89 L318.22 176.19 L318.30 176.51 L318.37 176.85 L318.45 177.21 L318.53 177.60 L318.61 178.02 L318.68 178.47 L318.76 178.95 L318.84 179.46 L318.91 180.01 L318.99 180.61 L319.07 181.25 L319.15 181.94 L319.22 182.70 L319.30 183.53 L319.38 184.44 L319.46 185.46 L319.53 186.59 L319.61 187.89 L319.69 189.38 L319.76 191.14 L319.84 193.30 L319.92 196.08 L320.00 199.98 L320.07 206.63 L320.15 222.00 L320.15 222.00 L320.23 206.75 L320.31 200.22 L320.39 196.43 L320.46 193.77 L320.54 191.73 L320.62 190.08 L320.70 188.71 L320.78 187.54 L320.86 186.52 L320.93 185.62 L321.01 184.82 L321.09 184.11 L321.17 183.47 L321.25 182.89 L321.33 182.37 L321.40 181.89 L321.48 181.46 L321.56 181.06 L321.64 180.70 L321.72 180.37 L321.80 180.07 L321.88 179.80 L321.95 179.55 L322.03 179.33 L322.11 179.13 L322.19 178.95 L322.27 178.79 L322.35 178.65 L322.42 178.53 L322.50 178.42 L322.58 178.33 L322.66 178.26 L322.74 178.21 L322.82 178.17 L322.90 178.15 L322.97 178.14" stroke-dashoffset="3.82"/>
<path d="M322.97 178.14 L323.05 178.15 L323.13 178.17 L323.21 178.21 L323.29 178.26 L323.37 178.33 L323.44 178.41 L323.52 178.50 L323.60 178.62 L323.68 178.74 L323.76 178.88 L323.84 179.04 L323.92 179.21 L323.99 179.40 L324.07 179.61 L324.15 179.83 L324.23 180.07 L324.31 180.33 L324.39 180.61 L324.46 180.91 L324.54 181.22 L324.62 181.57 L324.70 181.93 L324.78 182.32 L324.86 182.74 L324.93 183.19 L325.01 183.67 L325.09 184.18 L325.17 184.74 L325.25 185.33 L325.33 185.98 L325.41 186.67 L325.48 187.43 L325.56 188.26 L325.64 189.18 L325.72 190.19 L325.80 191.33 L325.88 192.62 L325.95 194.11 L326.03 195.88 L326.11 198.04 L326.19 200.82 L326.27 204.72 L326.35 211.37 L326.43 228.20 L326.43 228.20 L326.50 211.49 L326.58 204.96 L326.66 201.18 L326.74 198.52 L326.82 196.48 L326.90 194.83 L326.98 193.45 L327.06 192.28 L327.14 191.26 L327.22 190.37 L327.29 189.57 L327.37 188.86 L327.45 188.22 L327.53 187.64 L327.61 187.12 L327.69 186.64 L327.77 186.21 L327.85 185.81 L327.93 185.45 L328.01 185.12 L328.09 184.82 L328.16 184.55 L328.24 184.30 L328.32 184.08 L328.40 183.88 L328.48 183.70 L328.56 183.54 L328.64 183.40 L328.72 183.28 L328.80 183.18 L328.88 183.09 L328.95 183.02 L329.03 182.97 L329.11 182.93 L329.19 182.91 L329.27 182.90" stroke-dashoffset="0.60"/>
<path d="M329.27 182.90 L329.35 182.91 L329.43 182.93 L329.51 182.97 L329.59 183.02 L329.67 183.09 L329.75 183.17 L329.82 183.27 L329.90 183.38 L329.98 183.50 L330.06 183.64 L330.14 183.80 L330.22 183.98 L330.30 184.16 L330.38 184.37 L330.46 184.59 L330.54 184.83 L330.62 185.09 L330.69 185.37 L330.77 185.67 L330.85 185.99 L330.93 186.33 L331.01 186.70 L331.09 187.09 L331.17 187.51 L331.25 187.96 L331.33 188.44 L331.41 188.95 L331.49 189.51 L331.56 190.10 L331.64 190.75 L331.72 191.44 L331.80 192.20 L331.88 193.03 L331.96 193.95 L332.04 194.96 L332.12 196.10 L332.20 197.40 L332.28 198.89 L332.35 200.66 L332.43 202.82 L332.51 205.60 L332.59 209.50 L332.75 213.60 L332.75 213.60 L332.91 209.74 L332.98 205.95 L333.06 203.29 L333.14 201.25 L333.22 199.60 L333.30 198.23 L333.38 197.05 L333.45 196.01 L333.53 195.07 L333.61 194.23 L333.69 193.48 L333.77 192.80 L333.84 192.18 L333.92 191.62 L334.00 191.10 L334.08 190.62 L334.16 190.19 L334.23 189.78 L334.31 189.41 L334.39 189.07 L334.47 188.76 L334.55 188.47 L334.62 188.21 L334.70 187.97 L334.78 187.75 L334.86 187.55 L334.94 187.36 L335.02 187.20 L335.09 187.06 L335.17 186.93 L335.25 186.82 L335.33 186.72 L335.41 186.65 L335.48 186.58 L335.56 186.53 L335.64 186.50 L335.72 186.48 L335.80 186.48" stroke-dashoffset="9.24"/>
<path d="M335.80 186.48 L335.88 186.49 L335.95 186.52 L336.03 186.56 L336.11 186.61 L336.19 186.68 L336.27 186.77 L336.34 186.87 L336.42 186.98 L336.50 187.12 L336.58 187.26 L336.66 187.43 L336.73 187.61 L336.81 187.81 L336.89 188.03 L336.97 188.27 L337.05 188.53 L337.12 188.80 L337.20 189.11 L337.28 189.43 L337.36 189.78 L337.44 190.16 L337.52 190.57 L337.59 191.01 L337.67 191.48 L337.75 191.99 L337.83 192.55 L337.91 193.15 L337.98 193.81 L338.06 194.52 L338.14 195.31 L338.22 196.19 L338.30 197.16 L338.38 198.26 L338.45 199.51 L338.53 200.96 L338.61 202.69 L338.69 204.81 L338.77 207.55 L338.84 211.41 L339.00 217.00 L339.00 217.00 L339.16 211.48 L339.23 207.66 L339.31 204.96 L339.39 202.87 L339.47 201.19 L339.55 199.77 L339.62 198.56 L339.70 197.50 L339.78 196.56 L339.86 195.72 L339.94 194.97 L340.02 194.29 L340.09 193.67 L340.17 193.11 L340.25 192.59 L340.33 192.11 L340.41 191.68 L340.48 191.28 L340.56 190.91 L340.64 190.56 L340.72 190.25 L340.80 189.96 L340.88 189.70 L340.95 189.46 L341.03 189.24 L341.11 189.04 L341.19 188.86 L341.27 188.69 L341.34 188.55 L341.42 188.42 L341.50 188.31 L341.58 188.21 L341.66 188.14 L341.73 188.07 L341.81 188.02 L341.89 187.99 L341.97 187.97 L342.05 187.97" stroke-dashoffset="6.65"/>
<path d="M342.05 187.97 L342.12 187.98 L342.20 188.01 L342.28 188.05 L342.36 188.10 L342.44 188.17 L342.52 188.26 L342.59 188.36 L342.67 188.48 L342.75 188.61 L342.83 188.76 L342.91 188.92 L342.98 189.10 L343.06 189.30 L343.14 189.52 L343.22 189.76 L343.30 190.02 L343.38 190.30 L343.45 190.60 L343.53 190.92 L343.61 191.27 L343.69 191.65 L343.77 192.06 L343.84 192.50 L343.92 192.97 L344.00 193.48 L344.08 194.04 L344.16 194.64 L344.23 195.30 L344.31 196.02 L344.39 196.86 L344.47 197.78 L344.55 198.81 L344.62 199.95 L344.70 201.25 L344.78 202.76 L344.86 204.53 L344.94 206.70 L345.02 209.49 L345.09 213.40 L345.17 220.05 L345.25 228.00 L345.25 228.00 L345.33 220.19 L345.41 213.67 L345.49 209.89 L345.57 207.24 L345.65 205.21 L345.73 203.57 L345.81 202.21 L345.88 201.04 L345.96 200.03 L346.04 199.15 L346.12 198.36 L346.20 197.66 L346.28 197.03 L346.36 196.46 L346.44 195.94 L346.52 195.48 L346.60 195.05 L346.68 194.67 L346.76 194.31 L346.84 193.99 L346.92 193.70 L347.00 193.44 L347.08 193.20 L347.16 192.99 L347.23 192.80 L347.31 192.63 L347.39 192.48 L347.47 192.34 L347.55 192.23 L347.63 192.14 L347.71 192.06 L347.79 192.00 L347.87 191.95 L347.95 191.93 L348.03 191.91" stroke-dashoffset="2.83"/>
<path d="M348.03 191.91 L348.11 191.91 L348.19 191.93 L348.27 191.96 L348.35 192.01 L348.43 192.07 L348.50 192.15 L348.58 192.24 L348.66 192.34 L348.74 192.46 L348.82 192.60 L348.90 192.75 L348.98 192.92 L349.06 193.10 L349.14 193.30 L349.22 193.51 L349.30 193.74 L349.38 193.99 L349.46 194.26 L349.54 194.55 L349.62 194.86 L349.69 195.19 L349.77 195.54 L349.85 195.91 L349.93 196.31 L350.01 196.74 L350.09 197.20 L350.17 197.69 L350.25 198.21 L350.33 198.77 L350.41 199.38 L350.49 200.03 L350.57 200.74 L350.65 201.51 L350.73 202.35 L350.81 203.27 L350.89 204.29 L350.97 205.44 L351.04 206.72 L351.12 208.19 L351.20 209.93 L351.28 212.06 L351.36 214.81 L351.44 218.68 L351.52 225.30 L351.60 228.20 L351.60 228.20 L351.68 225.37 L351.76 218.81 L351.84 215.00 L351.92 212.31 L352.00 210.24 L352.08 208.57 L352.16 207.16 L352.24 205.96 L352.32 204.91 L352.40 203.99 L352.48 203.17 L352.56 202.43 L352.64 201.76 L352.72 201.16 L352.80 200.60 L352.88 200.10 L352.97 199.64 L353.05 199.21 L353.13 198.83 L353.21 198.47 L353.29 198.14 L353.37 197.84 L353.45 197.57 L353.53 197.31 L353.61 197.09 L353.69 196.88 L353.77 196.69 L353.85 196.52 L353.93 196.37 L354.01 196.24 L354.09 196.13 L354.17 196.03 L354.25 195.95 L354.33 195.88 L354.41 195.83 L354.49 195.80 L354.57 195.78 L354.65 195.77" stroke-dashoffset="1.12"/>
<path d="M354.65 195.77 L354.73 195.78 L354.81 195.81 L354.89 195.84 L354.97 195.90 L355.05 195.97 L355.13 196.05 L355.21 196.15 L355.29 196.26 L355.37 196.39 L355.45 196.54 L355.54 196.70 L355.62 196.88 L355.70 197.07 L355.78 197.28 L355.86 197.52 L355.94 197.77 L356.02 198.04 L356.10 198.33 L356.18 198.64 L356.26 198.98 L356.34 199.35 L356.42 199.74 L356.50 200.16 L356.58 200.61 L356.66 201.10 L356.74 201.62 L356.82 202.19 L356.90 202.81 L356.98 203.47 L357.06 204.21 L357.14 205.01 L357.22 205.89 L357.30 206.88 L357.38 207.99 L357.46 209.26 L357.54 210.72 L357.62 212.46 L357.70 214.59 L357.78 217.35 L357.86 221.22 L357.94 227.84 L358.02 237.00 L358.02 237.00 L358.11 227.90 L358.19 221.35 L358.27 217.54 L358.35 214.85 L358.43 212.78 L358.51 211.10 L358.59 209.70 L358.67 208.50 L358.75 207.45 L358.83 206.53 L358.91 205.71 L358.99 204.97 L359.07 204.30 L359.15 203.69 L359.23 203.14 L359.31 202.64 L359.39 202.17 L359.47 201.75 L359.55 201.36 L359.63 201.01 L359.71 200.68 L359.79 200.38 L359.87 200.10 L359.95 199.85 L360.03 199.62 L360.11 199.42 L360.19 199.23 L360.27 199.06 L360.35 198.91 L360.43 198.78 L360.51 198.66 L360.59 198.57 L360.68 198.49 L360.76 198.42 L360.84 198.37 L360.92 198.33 L361.00 198.31 L361.08 198.31" stroke-dashoffset="6.37"/>
<path d="M361.08 198.31 L361.16 198.32 L361.24 198.34 L361.32 198.38 L361.40 198.44 L361.48 198.50 L361.56 198.59 L361.64 198.69 L361.72 198.80 L361.80 198.93 L361.88 199.07 L361.96 199.24 L362.04 199.41 L362.12 199.61 L362.20 199.82 L362.28 200.05 L362.36 200.30 L362.44 200.57 L362.52 200.87 L362.60 201.18 L362.68 201.52 L362.76 201.88 L362.84 202.27 L362.92 202.69 L363.00 203.14 L363.08 203.62 L363.16 204.14 L363.25 204.70 L363.33 205.31 L363.41 205.97 L363.49 206.70 L363.57 207.49 L363.65 208.37 L363.73 209.35 L363.81 210.46 L363.89 211.71 L363.97 213.17 L364.05 214.91 L364.13 217.03 L364.21 219.78 L364.29 223.65 L364.37 230.26 L364.45 230.70 L364.45 230.70 L364.53 230.31 L364.61 223.75 L364.69 219.93 L364.77 217.23 L364.85 215.16 L364.93 213.47 L365.01 212.07 L365.09 210.86 L365.17 209.80 L365.25 208.87 L365.33 208.04 L365.41 207.30 L365.49 206.62 L365.57 206.01 L365.65 205.45 L365.72 204.94 L365.80 204.47 L365.88 204.04 L365.96 203.65 L366.04 203.28 L366.12 202.95 L366.20 202.64 L366.28 202.36 L366.36 202.10 L366.44 201.87 L366.52 201.65 L366.60 201.46 L366.68 201.28 L366.76 201.13 L366.84 200.99 L366.92 200.87 L367.00 200.76 L367.08 200.67 L367.16 200.60 L367.24 200.55 L367.32 200.50 L367.40 200.48 L367.48 200.46" stroke-dashoffset="5.19"/>
<path d="M367.48 200.46 L367.56 200.47 L367.64 200.49 L367.72 200.52 L367.80 200.56 L367.88 200.63 L367.96 200.70 L368.04 200.79 L368.12 200.90 L368.20 201.02 L368.27 201.16 L368.35 201.32 L368.43 201.49 L368.51 201.68 L368.59 201.88 L368.67 202.11 L368.75 202.35 L368.83 202.62 L368.91 202.90 L368.99 203.21 L369.07 203.54 L369.15 203.90 L369.23 204.28 L369.31 204.70 L369.39 205.14 L369.47 205.62 L369.55 206.14 L369.63 206.70 L369.71 207.31 L369.79 207.97 L369.87 208.70 L369.95 209.49 L370.03 210.37 L370.11 211.35 L370.19 212.46 L370.27 213.71 L370.35 215.17 L370.43 216.91 L370.51 219.03 L370.59 221.78 L370.67 225.65 L370.82 230.70 L370.82 230.70 L370.99 225.75 L371.07 221.93 L371.15 219.23 L371.23 217.16 L371.31 215.48 L371.39 214.07 L371.47 212.86 L371.55 211.80 L371.63 210.87 L371.71 210.05 L371.79 209.30 L371.87 208.63 L371.95 208.01 L372.03 207.46 L372.12 206.94 L372.20 206.48 L372.28 206.05 L372.36 205.65 L372.44 205.29 L372.52 204.95 L372.60 204.65 L372.68 204.37 L372.76 204.11 L372.84 203.87 L372.92 203.66 L373.00 203.46 L373.08 203.29 L373.16 203.13 L373.24 203.00 L373.32 202.88 L373.40 202.77 L373.49 202.68 L373.57 202.61 L373.65 202.55 L373.73 202.51 L373.81 202.49 L373.89 202.47" stroke-dashoffset="9.21"/>
<path d="M373.89 202.47 L373.97 202.48 L374.05 202.50 L374.13 202.53 L374.21 202.58 L374.29 202.64 L374.37 202.72 L374.45 202.81 L374.53 202.91 L374.61 203.04 L374.69 203.18 L374.78 203.33 L374.86 203.51 L374.94 203.70 L375.02 203.91 L375.10 204.14 L375.18 204.39 L375.26 204.66 L375.34 204.95 L375.42 205.26 L375.50 205.60 L375.58 205.96 L375.66 206.35 L375.74 206.77 L375.82 207.22 L375.90 207.70 L375.98 208.22 L376.07 208.79 L376.15 209.40 L376.23 210.07 L376.31 210.80 L376.39 211.60 L376.47 212.48 L376.55 213.47 L376.63 214.57 L376.71 215.84 L376.79 217.30 L376.87 219.04 L376.95 221.17 L377.03 223.92 L377.11 227.79 L377.19 234.41 L377.27 237.00 L377.27 237.00 L377.36 234.46 L377.44 227.91 L377.52 224.09 L377.60 221.40 L377.68 219.33 L377.76 217.65 L377.84 216.25 L377.92 215.04 L378.00 213.99 L378.08 213.07 L378.16 212.24 L378.24 211.50 L378.32 210.83 L378.40 210.22 L378.48 209.67 L378.56 209.16 L378.64 208.70 L378.72 208.27 L378.80 207.88 L378.88 207.52 L378.96 207.19 L379.04 206.89 L379.12 206.61 L379.20 206.36 L379.28 206.13 L379.36 205.92 L379.44 205.73 L379.52 205.56 L379.60 205.40 L379.68 205.27 L379.76 205.15 L379.84 205.05 L379.93 204.97 L380.01 204.90 L380.09 204.85 L380.17 204.81 L380.25 204.79 L380.33 204.78" stroke-dashoffset="3.85"/>
<path d="M380.33 204.78 L380.41 204.79 L380.49 204.81 L380.57 204.85 L380.65 204.90 L380.73 204.96 L380.81 205.04 L380.89 205.14 L380.97 205.25 L381.05 205.38 L381.13 205.52 L381.21 205.68 L381.29 205.85 L381.37 206.05 L381.45 206.26 L381.53 206.49 L381.61 206.74 L381.69 207.00 L381.77 207.29 L381.85 207.61 L381.93 207.94 L382.01 208.30 L382.09 208.69 L382.17 209.11 L382.25 209.56 L382.33 210.04 L382.41 210.57 L382.50 211.13 L382.58 211.74 L382.66 212.41 L382.74 213.14 L382.82 213.94 L382.90 214.82 L382.98 215.81 L383.06 216.92 L383.14 218.18 L383.22 219.64 L383.30 221.38 L383.38 223.51 L383.46 226.26 L383.54 230.13 L383.62 236.75 L383.70 244.50 L383.70 244.50 L383.78 236.80 L383.85 230.25 L383.93 226.43 L384.01 223.74 L384.09 221.67 L384.16 219.99 L384.24 218.58 L384.32 217.38 L384.40 216.33 L384.47 215.40 L384.55 214.57 L384.63 213.83 L384.71 213.16 L384.78 212.55 L384.86 211.99 L384.94 211.49 L385.02 211.02 L385.09 210.59 L385.17 210.20 L385.25 209.84 L385.33 209.51 L385.40 209.21 L385.48 208.93 L385.56 208.67 L385.64 208.44 L385.71 208.23 L385.79 208.04 L385.87 207.87 L385.95 207.72 L386.02 207.58 L386.10 207.46 L386.18 207.36 L386.26 207.28 L386.33 207.21 L386.41 207.15 L386.49 207.11 L386.57 207.09 L386.64 207.08" stroke-dashoffset="3.01"/>
<path d="M386.64 207.08 L386.72 207.09 L386.80 207.11 L386.88 207.14 L386.95 207.19 L387.03 207.26 L387.11 207.34 L387.19 207.43 L387.26 207.54 L387.34 207.67 L387.42 207.81 L387.50 207.97 L387.57 208.14 L387.65 208.34 L387.73 208.55 L387.81 208.77 L387.88 209.02 L387.96 209.29 L388.04 209.58 L388.12 209.89 L388.19 210.22 L388.27 210.58 L388.35 210.97 L388.43 211.39 L388.50 211.83 L388.58 212.32 L388.66 212.84 L388.74 213.40 L388.81 214.02 L388.89 214.68 L388.97 215.41 L389.05 216.21 L389.12 217.09 L389.20 218.08 L389.28 219.18 L389.36 220.44 L389.44 221.91 L389.51 223.64 L389.59 225.77 L389.67 228.52 L389.75 232.39 L389.82 239.00 L389.90 247.00 L389.90 247.00 L389.98 239.06 L390.05 232.50 L390.13 228.69 L390.21 226.00 L390.29 223.92 L390.37 222.24 L390.44 220.84 L390.52 219.63 L390.60 218.58 L390.67 217.66 L390.75 216.83 L390.83 216.09 L390.91 215.42 L390.99 214.81 L391.06 214.25 L391.14 213.74 L391.22 213.28 L391.29 212.85 L391.37 212.46 L391.45 212.10" stroke-dashoffset="2.21"/>
</g>
</g>
<line x1="20.5" y1="19.0" x2="391.5" y2="19.0" stroke="#505050" stroke-width="1"/>
<line x1="21" y1="18.5" x2="21" y2="247.3" stroke="#505050" stroke-width="1"/>
<line x1="21.00" y1="19.0" x2="21.00" y2="14.80" stroke="#3a3a3a" stroke-width="0.9"/>
<line x1="31.57" y1="19.0" x2="31.57" y2="16.40" stroke="#3a3a3a" stroke-width="0.9"/>
<line x1="42.14" y1="19.0" x2="42.14" y2="16.40" stroke="#3a3a3a" stroke-width="0.9"/>
<line x1="52.71" y1="19.0" x2="52.71" y2="16.40" stroke="#3a3a3a" stroke-width="0.9"/>
<line x1="63.29" y1="19.0" x2="63.29" y2="16.40" stroke="#3a3a3a" stroke-width="0.9"/>
<line x1="73.86" y1="19.0" x2="73.86" y2="14.80" stroke="#3a3a3a" stroke-width="0.9"/>
<line x1="84.43" y1="19.0" x2="84.43" y2="16.40" stroke="#3a3a3a" stroke-width="0.9"/>
<line x1="95.00" y1="19.0" x2="95.00" y2="16.40" stroke="#3a3a3a" stroke-width="0.9"/>
<line x1="105.57" y1="19.0" x2="105.57" y2="16.40" stroke="#3a3a3a" stroke-width="0.9"/>
<line x1="116.14" y1="19.0" x2="116.14" y2="16.40" stroke="#3a3a3a" stroke-width="0.9"/>
<line x1="126.71" y1="19.0" x2="126.71" y2="14.80" stroke="#3a3a3a" stroke-width="0.9"/>
<line x1="137.29" y1="19.0" x2="137.29" y2="16.40" stroke="#3a3a3a" stroke-width="0.9"/>
<line x1="147.86" y1="19.0" x2="147.86" y2="16.40" stroke="#3a3a3a" stroke-width="0.9"/>
<line x1="158.43" y1="19.0" x2="158.43" y2="16.40" stroke="#3a3a3a" stroke-width="0.9"/>
<line x1="169.00" y1="19.0" x2="169.00" y2="16.40" stroke="#3a3a3a" stroke-width="0.9"/>
<line x1="179.57" y1="19.0" x2="179.57" y2="14.80" stroke="#3a3a3a" stroke-width="0.9"/>
<line x1="190.14" y1="19.0" x2="190.14" y2="16.40" stroke="#3a3a3a" stroke-width="0.9"/>
<line x1="200.71" y1="19.0" x2="200.71" y2="16.40" stroke="#3a3a3a" stroke-width="0.9"/>
<line x1="211.29" y1="19.0" x2="211.29" y2="16.40" stroke="#3a3a3a" stroke-width="0.9"/>
<line x1="221.86" y1="19.0" x2="221.86" y2="16.40" stroke="#3a3a3a" stroke-width="0.9"/>
<line x1="232.43" y1="19.0" x2="232.43" y2="14.80" stroke="#3a3a3a" stroke-width="0.9"/>
<line x1="243.00" y1="19.0" x2="243.00" y2="16.40" stroke="#3a3a3a" stroke-width="0.9"/>
<line x1="253.57" y1="19.0" x2="253.57" y2="16.40" stroke="#3a3a3a" stroke-width="0.9"/>
<line x1="264.14" y1="19.0" x2="264.14" y2="16.40" stroke="#3a3a3a" stroke-width="0.9"/>
<line x1="274.71" y1="19.0" x2="274.71" y2="16.40" stroke="#3a3a3a" stroke-width="0.9"/>
<line x1="285.29" y1="19.0" x2="285.29" y2="14.80" stroke="#3a3a3a" stroke-width="0.9"/>
<line x1="295.86" y1="19.0" x2="295.86" y2="16.40" stroke="#3a3a3a" stroke-width="0.9"/>
<line x1="306.43" y1="19.0" x2="306.43" y2="16.40" stroke="#3a3a3a" stroke-width="0.9"/>
<line x1="317.00" y1="19.0" x2="317.00" y2="16.40" stroke="#3a3a3a" stroke-width="0.9"/>
<line x1="327.57" y1="19.0" x2="327.57" y2="16.40" stroke="#3a3a3a" stroke-width="0.9"/>
<line x1="338.14" y1="19.0" x2="338.14" y2="14.80" stroke="#3a3a3a" stroke-width="0.9"/>
<line x1="348.71" y1="19.0" x2="348.71" y2="16.40" stroke="#3a3a3a" stroke-width="0.9"/>
<line x1="359.29" y1="19.0" x2="359.29" y2="16.40" stroke="#3a3a3a" stroke-width="0.9"/>
<line x1="369.86" y1="19.0" x2="369.86" y2="16.40" stroke="#3a3a3a" stroke-width="0.9"/>
<line x1="380.43" y1="19.0" x2="380.43" y2="16.40" stroke="#3a3a3a" stroke-width="0.9"/>
<line x1="391.00" y1="19.0" x2="391.00" y2="14.80" stroke="#3a3a3a" stroke-width="0.9"/>
<line x1="21" y1="27.77" x2="23.60" y2="27.77" stroke="#3a3a3a" stroke-width="0.9"/>
<line x1="21" y1="38.20" x2="25.20" y2="38.20" stroke="#3a3a3a" stroke-width="0.9"/>
<line x1="21" y1="48.63" x2="23.60" y2="48.63" stroke="#3a3a3a" stroke-width="0.9"/>
<line x1="21" y1="59.06" x2="23.60" y2="59.06" stroke="#3a3a3a" stroke-width="0.9"/>
<line x1="21" y1="69.49" x2="23.60" y2="69.49" stroke="#3a3a3a" stroke-width="0.9"/>
<line x1="21" y1="79.92" x2="25.20" y2="79.92" stroke="#3a3a3a" stroke-width="0.9"/>
<line x1="21" y1="90.35" x2="23.60" y2="90.35" stroke="#3a3a3a" stroke-width="0.9"/>
<line x1="21" y1="100.78" x2="23.60" y2="100.78" stroke="#3a3a3a" stroke-width="0.9"/>
<line x1="21" y1="111.21" x2="23.60" y2="111.21" stroke="#3a3a3a" stroke-width="0.9"/>
<line x1="21" y1="121.64" x2="25.20" y2="121.64" stroke="#3a3a3a" stroke-width="0.9"/>
<line x1="21" y1="132.07" x2="23.60" y2="132.07" stroke="#3a3a3a" stroke-width="0.9"/>
<line x1="21" y1="142.50" x2="23.60" y2="142.50" stroke="#3a3a3a" stroke-width="0.9"/>
<line x1="21" y1="152.93" x2="23.60" y2="152.93" stroke="#3a3a3a" stroke-width="0.9"/>
<line x1="21" y1="163.36" x2="25.20" y2="163.36" stroke="#3a3a3a" stroke-width="0.9"/>
<line x1="21" y1="173.79" x2="23.60" y2="173.79" stroke="#3a3a3a" stroke-width="0.9"/>
<line x1="21" y1="184.22" x2="23.60" y2="184.22" stroke="#3a3a3a" stroke-width="0.9"/>
<line x1="21" y1="194.65" x2="23.60" y2="194.65" stroke="#3a3a3a" stroke-width="0.9"/>
<line x1="21" y1="205.08" x2="25.20" y2="205.08" stroke="#3a3a3a" stroke-width="0.9"/>
<line x1="21" y1="215.51" x2="23.60" y2="215.51" stroke="#3a3a3a" stroke-width="0.9"/>
<line x1="21" y1="225.94" x2="23.60" y2="225.94" stroke="#3a3a3a" stroke-width="0.9"/>
<line x1="21" y1="236.37" x2="23.60" y2="236.37" stroke="#3a3a3a" stroke-width="0.9"/>
<line x1="21" y1="246.80" x2="25.20" y2="246.80" stroke="#3a3a3a" stroke-width="0.9"/>
<text x="74.26" y="30.6" font-size="10" text-anchor="middle" font-family="Liberation Sans, sans-serif" stroke="#000" stroke-width="0.2">50</text>
<text x="127.11" y="30.6" font-size="10" text-anchor="middle" font-family="Liberation Sans, sans-serif" stroke="#000" stroke-width="0.2">100</text>
<text x="179.97" y="30.6" font-size="10" text-anchor="middle" font-family="Liberation Sans, sans-serif" stroke="#000" stroke-width="0.2">150</text>
<text x="232.83" y="30.6" font-size="10" text-anchor="middle" font-family="Liberation Sans, sans-serif" stroke="#000" stroke-width="0.2">200</text>
<text x="285.69" y="30.6" font-size="10" text-anchor="middle" font-family="Liberation Sans, sans-serif" stroke="#000" stroke-width="0.2">250</text>
<text x="338.54" y="30.6" font-size="10" text-anchor="middle" font-family="Liberation Sans, sans-serif" stroke="#000" stroke-width="0.2">300</text>
<text x="391.40" y="30.6" font-size="10" text-anchor="middle" font-family="Liberation Sans, sans-serif" stroke="#000" stroke-width="0.2">350</text>
<text x="17.2" y="41.70" font-size="10" text-anchor="end" font-family="Liberation Sans, sans-serif" stroke="#000" stroke-width="0.2">−2</text>
<text x="17.2" y="83.42" font-size="10" text-anchor="end" font-family="Liberation Sans, sans-serif" stroke="#000" stroke-width="0.2">−4</text>
<text x="17.2" y="125.14" font-size="10" text-anchor="end" font-family="Liberation Sans, sans-serif" stroke="#000" stroke-width="0.2">−6</text>
<text x="17.2" y="166.86" font-size="10" text-anchor="end" font-family="Liberation Sans, sans-serif" stroke="#000" stroke-width="0.2">−8</text>
<text x="17.2" y="208.58" font-size="10" text-anchor="end" font-family="Liberation Sans, sans-serif" stroke="#000" stroke-width="0.2">−10</text>
<text x="17.2" y="250.30" font-size="10" text-anchor="end" font-family="Liberation Sans, sans-serif" stroke="#000" stroke-width="0.2">−12</text>
<g font-family="Liberation Sans, sans-serif" fill="#000" stroke="#000" stroke-width="0.2">
<text x="2.9" y="8" font-size="10.2">Log<tspan dx="0.3">|</tspan><tspan font-style="italic" dx="0.3">R</tspan><tspan font-style="italic" font-size="7.4" dy="1.6">C</tspan><tspan dy="-1.6" dx="0.9">|</tspan></text>
<text x="401" y="21" font-size="10"><tspan font-style="italic">c</tspan><tspan font-style="italic" font-size="7" dy="1.7">V</tspan><tspan dy="-1.7" dx="0.8">t</tspan></text>
<text x="335.3" y="50.2" font-size="10.8" text-anchor="middle"><tspan font-style="italic">n</tspan> = 4</text>
<g font-size="7.4" stroke="none">
<text x="302.6" y="61.2" font-style="italic">c</text>
<text x="306.4" y="62.4" font-size="5.7">14</text>
<text x="313.4" y="61.2">=</text>
<text x="320.7" y="55.6" font-size="4.8" text-anchor="middle">1</text>
<rect x="318.7" y="58.3" width="4.1" height="0.5"/>
<text x="320.7" y="65.9" font-size="4.8" text-anchor="middle">4</text>
<text x="323.9" y="61.2">×10</text>
<text x="337.8" y="58.6" font-size="5">−4</text>
<text x="344.9" y="61.2">,</text>
<text x="347.2" y="61.2" font-style="italic">c</text>
<text x="351.0" y="62.4" font-size="5.7" font-style="italic">V</text>
<text x="355.8" y="61.2">=</text>
<text x="360.7" y="61.2" font-style="italic">c</text>
<text x="364.7" y="62.4" font-size="5.7" font-style="italic">T</text>
</g>
<line x1="299" y1="79.5" x2="344.5" y2="79.5" stroke="#ff8080" stroke-width="0.55"/>
<line x1="298.8" y1="101.4" x2="342.8" y2="101.4" stroke="#ff00ff" stroke-width="2.1" stroke-dasharray="3.3 2.5"/>
<line x1="298.8" y1="123.5" x2="342.8" y2="123.5" stroke="#996633" stroke-width="2.0" stroke-dasharray="6.8 2.45"/>
<text x="351.3" y="83.4" font-size="10.7" letter-spacing="0.55">L=2</text>
<text x="351.3" y="105.6" font-size="10.7" letter-spacing="0.55">L=3</text>
<text x="351.3" y="127.7" font-size="10.7" letter-spacing="0.55">L=4</text>
</g>
</svg>
</body></html>
